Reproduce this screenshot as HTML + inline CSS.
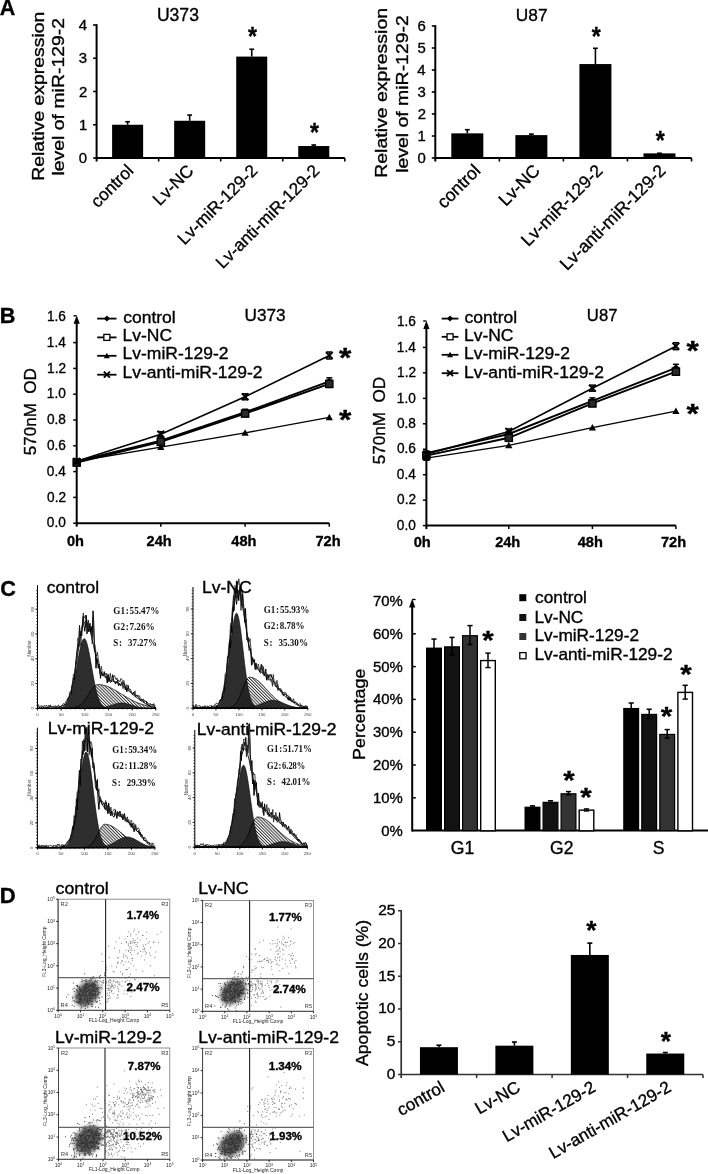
<!DOCTYPE html>
<html><head><meta charset="utf-8"><style>
html,body{margin:0;padding:0;background:#fff;}
svg{display:block;filter:blur(0.4px);}
text{font-family:"Liberation Sans",sans-serif;stroke:#000;stroke-width:0.35px;}
text[fill]{stroke:none;}
</style></head><body>
<svg width="708" height="1174" viewBox="0 0 708 1174">
<defs>
<pattern id="hatch" width="2.2" height="3" patternUnits="userSpaceOnUse" patternTransform="rotate(-45)"><line x1="0.5" y1="0" x2="0.5" y2="3" stroke="#111" stroke-width="0.85"/></pattern>
<pattern id="hatchd" width="2.2" height="3" patternUnits="userSpaceOnUse" patternTransform="rotate(-45)"><rect width="2.2" height="3" fill="#3c3c3c"/><line x1="0.5" y1="0" x2="0.5" y2="3" stroke="#111" stroke-width="0.85"/></pattern>
<filter id="bl" x="-50%" y="-50%" width="200%" height="200%"><feGaussianBlur stdDeviation="2"/></filter><filter id="bl2" x="-50%" y="-50%" width="200%" height="200%"><feGaussianBlur stdDeviation="2.5"/></filter>
<radialGradient id="clu"><stop offset="0" stop-color="#666"/><stop offset="0.35" stop-color="#333"/><stop offset="0.7" stop-color="#222" stop-opacity="0.85"/><stop offset="1" stop-color="#222" stop-opacity="0"/></radialGradient>
</defs>
<text font-size="21.5" font-weight="bold" transform="translate(-0.24 14.8)">A</text>
<line x1="96.6" y1="24.2" x2="96.6" y2="161.5" stroke="#000" stroke-width="2"/>
<line x1="93.1" y1="158" x2="96.6" y2="158" stroke="#000" stroke-width="1.6"/>
<text font-size="14.5" transform="translate(78.73 163) scale(1.030 1)">0</text>
<line x1="93.1" y1="124.75" x2="96.6" y2="124.75" stroke="#000" stroke-width="1.6"/>
<text font-size="14.5" transform="translate(78.88 129.75) scale(1.030 1)">1</text>
<line x1="93.1" y1="91.5" x2="96.6" y2="91.5" stroke="#000" stroke-width="1.6"/>
<text font-size="14.5" transform="translate(78.96 96.5) scale(1.030 1)">2</text>
<line x1="93.1" y1="58.25" x2="96.6" y2="58.25" stroke="#000" stroke-width="1.6"/>
<text font-size="14.5" transform="translate(78.81 63.25) scale(1.030 1)">3</text>
<line x1="93.1" y1="25" x2="96.6" y2="25" stroke="#000" stroke-width="1.6"/>
<text font-size="14.5" transform="translate(78.66 30) scale(1.030 1)">4</text>
<line x1="96.6" y1="158" x2="344.8" y2="158" stroke="#000" stroke-width="2"/>
<line x1="158.65" y1="158" x2="158.65" y2="161.5" stroke="#000" stroke-width="1.6"/>
<line x1="220.7" y1="158" x2="220.7" y2="161.5" stroke="#000" stroke-width="1.6"/>
<line x1="282.75" y1="158" x2="282.75" y2="161.5" stroke="#000" stroke-width="1.6"/>
<line x1="344.8" y1="158" x2="344.8" y2="161.5" stroke="#000" stroke-width="1.6"/>
<rect x="112.11" y="124.75" width="31.02" height="33.25" fill="#000"/>
<line x1="127.62" y1="121.42" x2="127.62" y2="124.75" stroke="#000" stroke-width="1.6"/>
<line x1="125.22" y1="121.72" x2="130.03" y2="121.72" stroke="#000" stroke-width="1.6"/>
<rect x="174.16" y="120.76" width="31.02" height="37.24" fill="#000"/>
<line x1="189.67" y1="114.78" x2="189.67" y2="120.76" stroke="#000" stroke-width="1.6"/>
<line x1="187.27" y1="115.08" x2="192.07" y2="115.08" stroke="#000" stroke-width="1.6"/>
<rect x="236.21" y="56.59" width="31.02" height="101.41" fill="#000"/>
<line x1="251.72" y1="48.94" x2="251.72" y2="56.59" stroke="#000" stroke-width="1.6"/>
<line x1="249.32" y1="49.24" x2="254.12" y2="49.24" stroke="#000" stroke-width="1.6"/>
<rect x="298.26" y="146.03" width="31.02" height="11.97" fill="#000"/>
<line x1="313.77" y1="144.7" x2="313.77" y2="146.03" stroke="#000" stroke-width="1.6"/>
<line x1="311.38" y1="145" x2="316.17" y2="145" stroke="#000" stroke-width="1.6"/>
<text font-size="26.3" font-weight="bold" transform="translate(248.01 45.45) scale(0.880 1)">*</text>
<text font-size="26.3" font-weight="bold" transform="translate(310.06 141.45) scale(0.880 1)">*</text>
<text font-size="17.3" text-anchor="end" transform="translate(134.43 171.8) rotate(-45)">control</text>
<text font-size="17.3" text-anchor="end" transform="translate(194.47 171.8) rotate(-45)">Lv-NC</text>
<text font-size="17.3" text-anchor="end" transform="translate(258.52 171.8) rotate(-45)">Lv-miR-129-2</text>
<text font-size="17.3" text-anchor="end" transform="translate(320.57 171.8) rotate(-45)">Lv-anti-miR-129-2</text>
<line x1="435.3" y1="25.2" x2="435.3" y2="161.5" stroke="#000" stroke-width="2"/>
<line x1="431.8" y1="158" x2="435.3" y2="158" stroke="#000" stroke-width="1.6"/>
<text font-size="14.5" transform="translate(417.43 163) scale(1.030 1)">0</text>
<line x1="431.8" y1="136" x2="435.3" y2="136" stroke="#000" stroke-width="1.6"/>
<text font-size="14.5" transform="translate(417.58 141) scale(1.030 1)">1</text>
<line x1="431.8" y1="114" x2="435.3" y2="114" stroke="#000" stroke-width="1.6"/>
<text font-size="14.5" transform="translate(417.66 119) scale(1.030 1)">2</text>
<line x1="431.8" y1="92" x2="435.3" y2="92" stroke="#000" stroke-width="1.6"/>
<text font-size="14.5" transform="translate(417.51 97) scale(1.030 1)">3</text>
<line x1="431.8" y1="70" x2="435.3" y2="70" stroke="#000" stroke-width="1.6"/>
<text font-size="14.5" transform="translate(417.36 75) scale(1.030 1)">4</text>
<line x1="431.8" y1="48" x2="435.3" y2="48" stroke="#000" stroke-width="1.6"/>
<text font-size="14.5" transform="translate(417.51 53) scale(1.030 1)">5</text>
<line x1="431.8" y1="26" x2="435.3" y2="26" stroke="#000" stroke-width="1.6"/>
<text font-size="14.5" transform="translate(417.51 31) scale(1.030 1)">6</text>
<line x1="435.3" y1="158" x2="691.5" y2="158" stroke="#000" stroke-width="2"/>
<line x1="499.35" y1="158" x2="499.35" y2="161.5" stroke="#000" stroke-width="1.6"/>
<line x1="563.4" y1="158" x2="563.4" y2="161.5" stroke="#000" stroke-width="1.6"/>
<line x1="627.45" y1="158" x2="627.45" y2="161.5" stroke="#000" stroke-width="1.6"/>
<line x1="691.5" y1="158" x2="691.5" y2="161.5" stroke="#000" stroke-width="1.6"/>
<rect x="451.31" y="133.36" width="32.02" height="24.64" fill="#000"/>
<line x1="467.32" y1="129.4" x2="467.32" y2="133.36" stroke="#000" stroke-width="1.6"/>
<line x1="464.93" y1="129.7" x2="469.72" y2="129.7" stroke="#000" stroke-width="1.6"/>
<rect x="515.36" y="135.12" width="32.02" height="22.88" fill="#000"/>
<line x1="531.38" y1="133.8" x2="531.38" y2="135.12" stroke="#000" stroke-width="1.6"/>
<line x1="528.98" y1="134.1" x2="533.77" y2="134.1" stroke="#000" stroke-width="1.6"/>
<rect x="579.41" y="64.06" width="32.02" height="93.94" fill="#000"/>
<line x1="595.42" y1="48" x2="595.42" y2="64.06" stroke="#000" stroke-width="1.6"/>
<line x1="593.02" y1="48.3" x2="597.82" y2="48.3" stroke="#000" stroke-width="1.6"/>
<rect x="643.46" y="153.38" width="32.02" height="4.62" fill="#000"/>
<line x1="659.48" y1="152.94" x2="659.48" y2="153.38" stroke="#000" stroke-width="1.6"/>
<line x1="657.08" y1="153.24" x2="661.88" y2="153.24" stroke="#000" stroke-width="1.6"/>
<text font-size="26.3" font-weight="bold" transform="translate(591.71 45.35) scale(0.880 1)">*</text>
<text font-size="26.3" font-weight="bold" transform="translate(655.76 149.05) scale(0.880 1)">*</text>
<text font-size="17.6" text-anchor="end" transform="translate(481.52 171.8) rotate(-45)">control</text>
<text font-size="17.6" text-anchor="end" transform="translate(540.98 171.8) rotate(-45)">Lv-NC</text>
<text font-size="17.6" text-anchor="end" transform="translate(603.72 171.8) rotate(-45)">Lv-miR-129-2</text>
<text font-size="17.6" text-anchor="end" transform="translate(666.68 171.8) rotate(-45)">Lv-anti-miR-129-2</text>
<text font-size="17.6" transform="translate(156.88 20.6)">U373</text>
<text font-size="17.3" transform="translate(515.81 20.5)">U87</text>
<text font-size="17.3" transform="translate(43.7 180.75) rotate(-90) scale(1.120 1)">Relative expression</text>
<text font-size="17.3" transform="translate(64.4 175.56) rotate(-90) scale(1.124 1)">level of miR-129-2</text>
<text font-size="17.3" transform="translate(386.7 177.76) rotate(-90) scale(1.125 1)">Relative expression</text>
<text font-size="17.3" transform="translate(407.7 172.86) rotate(-90) scale(1.124 1)">level of miR-129-2</text>
<text font-size="21.7" font-weight="bold" transform="translate(-0.31 322.9)">B</text>
<line x1="76.7" y1="321.8" x2="76.7" y2="526.7" stroke="#000" stroke-width="2"/>
<path d="M76.7 315.6 L79.8 323.8 L73.6 323.8Z" fill="#000"/>
<line x1="73.5" y1="315.8" x2="76.7" y2="315.8" stroke="#000" stroke-width="1.4"/>
<line x1="73.2" y1="523.2" x2="76.7" y2="523.2" stroke="#000" stroke-width="1.5"/>
<text font-size="14.4" transform="translate(46.86 527.37) scale(0.950 1)">0.0</text>
<line x1="73.2" y1="497.4" x2="76.7" y2="497.4" stroke="#000" stroke-width="1.5"/>
<text font-size="14.4" transform="translate(47.07 501.57) scale(0.950 1)">0.2</text>
<line x1="73.2" y1="471.6" x2="76.7" y2="471.6" stroke="#000" stroke-width="1.5"/>
<text font-size="14.4" transform="translate(46.8 475.77) scale(0.950 1)">0.4</text>
<line x1="73.2" y1="445.8" x2="76.7" y2="445.8" stroke="#000" stroke-width="1.5"/>
<text font-size="14.4" transform="translate(46.93 449.97) scale(0.950 1)">0.6</text>
<line x1="73.2" y1="420" x2="76.7" y2="420" stroke="#000" stroke-width="1.5"/>
<text font-size="14.4" transform="translate(46.93 424.17) scale(0.950 1)">0.8</text>
<line x1="73.2" y1="394.2" x2="76.7" y2="394.2" stroke="#000" stroke-width="1.5"/>
<text font-size="14.4" transform="translate(46.86 398.37) scale(0.950 1)">1.0</text>
<line x1="73.2" y1="368.4" x2="76.7" y2="368.4" stroke="#000" stroke-width="1.5"/>
<text font-size="14.4" transform="translate(47.07 372.57) scale(0.950 1)">1.2</text>
<line x1="73.2" y1="342.6" x2="76.7" y2="342.6" stroke="#000" stroke-width="1.5"/>
<text font-size="14.4" transform="translate(46.8 346.77) scale(0.950 1)">1.4</text>
<text font-size="14.4" transform="translate(46.93 320.97) scale(0.950 1)">1.6</text>
<line x1="76.7" y1="523.2" x2="329.3" y2="523.2" stroke="#000" stroke-width="2"/>
<line x1="160.8" y1="523.2" x2="160.8" y2="526.7" stroke="#000" stroke-width="1.5"/>
<line x1="245.1" y1="523.2" x2="245.1" y2="526.7" stroke="#000" stroke-width="1.5"/>
<line x1="329.3" y1="523.2" x2="329.3" y2="526.7" stroke="#000" stroke-width="1.5"/>
<text font-size="14.6" font-weight="bold" transform="translate(66.89 546.4)">0h</text>
<text font-size="14.6" font-weight="bold" transform="translate(146.53 546.4)">24h</text>
<text font-size="14.6" font-weight="bold" transform="translate(231.27 546.4)">48h</text>
<text font-size="14.6" font-weight="bold" transform="translate(315.49 546.4)">72h</text>
<polyline points="76.7,461.28 160.8,440.64 245.1,412.26 329.3,381.3" fill="none" stroke="#000" stroke-width="1.9"/>
<line x1="76.7" y1="459.28" x2="76.7" y2="463.28" stroke="#000" stroke-width="1.3"/>
<line x1="73.7" y1="459.28" x2="79.7" y2="459.28" stroke="#000" stroke-width="1.5"/>
<line x1="73.7" y1="463.28" x2="79.7" y2="463.28" stroke="#000" stroke-width="1.5"/>
<path d="M76.7 457.68 L80.3 461.28 L76.7 464.88 L73.1 461.28Z" fill="#000"/>
<line x1="160.8" y1="438.14" x2="160.8" y2="443.14" stroke="#000" stroke-width="1.3"/>
<line x1="157.8" y1="438.14" x2="163.8" y2="438.14" stroke="#000" stroke-width="1.5"/>
<line x1="157.8" y1="443.14" x2="163.8" y2="443.14" stroke="#000" stroke-width="1.5"/>
<path d="M160.8 437.04 L164.4 440.64 L160.8 444.24 L157.2 440.64Z" fill="#000"/>
<line x1="245.1" y1="409.26" x2="245.1" y2="415.26" stroke="#000" stroke-width="1.3"/>
<line x1="242.1" y1="409.26" x2="248.1" y2="409.26" stroke="#000" stroke-width="1.5"/>
<line x1="242.1" y1="415.26" x2="248.1" y2="415.26" stroke="#000" stroke-width="1.5"/>
<path d="M245.1 408.66 L248.7 412.26 L245.1 415.86 L241.5 412.26Z" fill="#000"/>
<line x1="329.3" y1="377.8" x2="329.3" y2="384.8" stroke="#000" stroke-width="1.3"/>
<line x1="326.3" y1="377.8" x2="332.3" y2="377.8" stroke="#000" stroke-width="1.5"/>
<line x1="326.3" y1="384.8" x2="332.3" y2="384.8" stroke="#000" stroke-width="1.5"/>
<path d="M329.3 377.7 L332.9 381.3 L329.3 384.9 L325.7 381.3Z" fill="#000"/>
<polyline points="76.7,462.57 160.8,441.93 245.1,413.55 329.3,383.88" fill="none" stroke="#000" stroke-width="1.9"/>
<line x1="76.7" y1="460.57" x2="76.7" y2="464.57" stroke="#000" stroke-width="1.3"/>
<line x1="73.7" y1="460.57" x2="79.7" y2="460.57" stroke="#000" stroke-width="1.5"/>
<line x1="73.7" y1="464.57" x2="79.7" y2="464.57" stroke="#000" stroke-width="1.5"/>
<rect x="73.1" y="458.97" width="7.2" height="7.2" fill="#2a2a2a" stroke="#000" stroke-width="1.4"/>
<line x1="160.8" y1="439.43" x2="160.8" y2="444.43" stroke="#000" stroke-width="1.3"/>
<line x1="157.8" y1="439.43" x2="163.8" y2="439.43" stroke="#000" stroke-width="1.5"/>
<line x1="157.8" y1="444.43" x2="163.8" y2="444.43" stroke="#000" stroke-width="1.5"/>
<rect x="157.2" y="438.33" width="7.2" height="7.2" fill="#2a2a2a" stroke="#000" stroke-width="1.4"/>
<line x1="245.1" y1="410.55" x2="245.1" y2="416.55" stroke="#000" stroke-width="1.3"/>
<line x1="242.1" y1="410.55" x2="248.1" y2="410.55" stroke="#000" stroke-width="1.5"/>
<line x1="242.1" y1="416.55" x2="248.1" y2="416.55" stroke="#000" stroke-width="1.5"/>
<rect x="241.5" y="409.95" width="7.2" height="7.2" fill="#2a2a2a" stroke="#000" stroke-width="1.4"/>
<line x1="329.3" y1="380.38" x2="329.3" y2="387.38" stroke="#000" stroke-width="1.3"/>
<line x1="326.3" y1="380.38" x2="332.3" y2="380.38" stroke="#000" stroke-width="1.5"/>
<line x1="326.3" y1="387.38" x2="332.3" y2="387.38" stroke="#000" stroke-width="1.5"/>
<rect x="325.7" y="380.28" width="7.2" height="7.2" fill="#2a2a2a" stroke="#000" stroke-width="1.4"/>
<polyline points="76.7,461.28 160.8,447.09 245.1,432.9 329.3,417.42" fill="none" stroke="#000" stroke-width="1.4"/>
<path d="M76.7 457.68 L80.3 464.16 L73.1 464.16Z" fill="#000"/>
<path d="M160.8 443.49 L164.4 449.97 L157.2 449.97Z" fill="#000"/>
<path d="M245.1 429.3 L248.7 435.78 L241.5 435.78Z" fill="#000"/>
<path d="M329.3 413.82 L332.9 420.3 L325.7 420.3Z" fill="#000"/>
<polyline points="76.7,461.28 160.8,434.19 245.1,396.78 329.3,355.5" fill="none" stroke="#000" stroke-width="1.6"/>
<line x1="76.7" y1="459.28" x2="76.7" y2="463.28" stroke="#000" stroke-width="1.3"/>
<line x1="73.7" y1="459.28" x2="79.7" y2="459.28" stroke="#000" stroke-width="1.5"/>
<line x1="73.7" y1="463.28" x2="79.7" y2="463.28" stroke="#000" stroke-width="1.5"/>
<path d="M73.3 457.88 L80.1 464.68 M80.1 457.88 L73.3 464.68" stroke="#000" stroke-width="1.9" fill="none"/>
<line x1="160.8" y1="431.69" x2="160.8" y2="436.69" stroke="#000" stroke-width="1.3"/>
<line x1="157.8" y1="431.69" x2="163.8" y2="431.69" stroke="#000" stroke-width="1.5"/>
<line x1="157.8" y1="436.69" x2="163.8" y2="436.69" stroke="#000" stroke-width="1.5"/>
<path d="M157.4 430.79 L164.2 437.59 M164.2 430.79 L157.4 437.59" stroke="#000" stroke-width="1.9" fill="none"/>
<line x1="245.1" y1="393.78" x2="245.1" y2="399.78" stroke="#000" stroke-width="1.3"/>
<line x1="242.1" y1="393.78" x2="248.1" y2="393.78" stroke="#000" stroke-width="1.5"/>
<line x1="242.1" y1="399.78" x2="248.1" y2="399.78" stroke="#000" stroke-width="1.5"/>
<path d="M241.7 393.38 L248.5 400.18 M248.5 393.38 L241.7 400.18" stroke="#000" stroke-width="1.9" fill="none"/>
<line x1="329.3" y1="352" x2="329.3" y2="359" stroke="#000" stroke-width="1.3"/>
<line x1="326.3" y1="352" x2="332.3" y2="352" stroke="#000" stroke-width="1.5"/>
<line x1="326.3" y1="359" x2="332.3" y2="359" stroke="#000" stroke-width="1.5"/>
<path d="M325.9 352.1 L332.7 358.9 M332.7 352.1 L325.9 358.9" stroke="#000" stroke-width="1.9" fill="none"/>
<line x1="97.2" y1="318.6" x2="116.5" y2="318.6" stroke="#000" stroke-width="1.8"/>
<path d="M106.85 315.6 L109.85 318.6 L106.85 321.6 L103.85 318.6Z" fill="#000"/>
<text font-size="16.6" transform="translate(123.2 322.6) scale(1.055 1)">control</text>
<line x1="97.2" y1="337.4" x2="116.5" y2="337.4" stroke="#000" stroke-width="1.8"/>
<rect x="103.85" y="334.4" width="6" height="6" fill="#fff" stroke="#000" stroke-width="1.3"/>
<text font-size="16.6" transform="translate(122.5 341.2) scale(1.055 1)">Lv-NC</text>
<line x1="97.2" y1="355.8" x2="116.5" y2="355.8" stroke="#000" stroke-width="1.8"/>
<path d="M106.85 352.8 L109.85 358.2 L103.85 358.2Z" fill="#000"/>
<text font-size="16.6" transform="translate(122.5 359.2) scale(1.055 1)">Lv-miR-129-2</text>
<line x1="97.2" y1="374.7" x2="116.5" y2="374.7" stroke="#000" stroke-width="1.8"/>
<path d="M103.85 371.7 L109.85 377.7 M109.85 371.7 L103.85 377.7" stroke="#000" stroke-width="1.9" fill="none"/>
<text font-size="16.6" transform="translate(122.5 377.8) scale(1.055 1)">Lv-anti-miR-129-2</text>
<text font-size="26.85" font-weight="bold" transform="translate(338.92 366.83) scale(1.180 1)">*</text>
<text font-size="26.85" font-weight="bold" transform="translate(338.92 428.83) scale(1.180 1)">*</text>
<line x1="426.4" y1="327" x2="426.4" y2="529.1" stroke="#000" stroke-width="2"/>
<path d="M426.4 320.8 L429.5 329 L423.3 329Z" fill="#000"/>
<line x1="423.2" y1="321" x2="426.4" y2="321" stroke="#000" stroke-width="1.4"/>
<line x1="422.9" y1="525.6" x2="426.4" y2="525.6" stroke="#000" stroke-width="1.5"/>
<text font-size="14.4" transform="translate(396.86 529.77) scale(0.950 1)">0.0</text>
<line x1="422.9" y1="500.15" x2="426.4" y2="500.15" stroke="#000" stroke-width="1.5"/>
<text font-size="14.4" transform="translate(397.07 504.32) scale(0.950 1)">0.2</text>
<line x1="422.9" y1="474.7" x2="426.4" y2="474.7" stroke="#000" stroke-width="1.5"/>
<text font-size="14.4" transform="translate(396.8 478.87) scale(0.950 1)">0.4</text>
<line x1="422.9" y1="449.25" x2="426.4" y2="449.25" stroke="#000" stroke-width="1.5"/>
<text font-size="14.4" transform="translate(396.93 453.42) scale(0.950 1)">0.6</text>
<line x1="422.9" y1="423.8" x2="426.4" y2="423.8" stroke="#000" stroke-width="1.5"/>
<text font-size="14.4" transform="translate(396.93 427.97) scale(0.950 1)">0.8</text>
<line x1="422.9" y1="398.35" x2="426.4" y2="398.35" stroke="#000" stroke-width="1.5"/>
<text font-size="14.4" transform="translate(396.86 402.52) scale(0.950 1)">1.0</text>
<line x1="422.9" y1="372.9" x2="426.4" y2="372.9" stroke="#000" stroke-width="1.5"/>
<text font-size="14.4" transform="translate(397.07 377.07) scale(0.950 1)">1.2</text>
<line x1="422.9" y1="347.45" x2="426.4" y2="347.45" stroke="#000" stroke-width="1.5"/>
<text font-size="14.4" transform="translate(396.8 351.62) scale(0.950 1)">1.4</text>
<text font-size="14.4" transform="translate(396.93 326.17) scale(0.950 1)">1.6</text>
<line x1="426.4" y1="525.6" x2="675.9" y2="525.6" stroke="#000" stroke-width="2"/>
<line x1="508.8" y1="525.6" x2="508.8" y2="529.1" stroke="#000" stroke-width="1.5"/>
<line x1="592.4" y1="525.6" x2="592.4" y2="529.1" stroke="#000" stroke-width="1.5"/>
<line x1="675.9" y1="525.6" x2="675.9" y2="529.1" stroke="#000" stroke-width="1.5"/>
<text font-size="14.6" font-weight="bold" transform="translate(413.74 547.2)">0h</text>
<text font-size="14.6" font-weight="bold" transform="translate(495.13 547.2)">24h</text>
<text font-size="14.6" font-weight="bold" transform="translate(577.67 547.2)">48h</text>
<text font-size="14.6" font-weight="bold" transform="translate(660.99 547.2)">72h</text>
<polyline points="426.4,453.07 508.8,433.98 592.4,400.9 675.9,367.81" fill="none" stroke="#000" stroke-width="1.9"/>
<line x1="426.4" y1="451.07" x2="426.4" y2="455.07" stroke="#000" stroke-width="1.3"/>
<line x1="423.4" y1="451.07" x2="429.4" y2="451.07" stroke="#000" stroke-width="1.5"/>
<line x1="423.4" y1="455.07" x2="429.4" y2="455.07" stroke="#000" stroke-width="1.5"/>
<path d="M426.4 449.47 L430 453.07 L426.4 456.67 L422.8 453.07Z" fill="#000"/>
<line x1="508.8" y1="431.48" x2="508.8" y2="436.48" stroke="#000" stroke-width="1.3"/>
<line x1="505.8" y1="431.48" x2="511.8" y2="431.48" stroke="#000" stroke-width="1.5"/>
<line x1="505.8" y1="436.48" x2="511.8" y2="436.48" stroke="#000" stroke-width="1.5"/>
<path d="M508.8 430.38 L512.4 433.98 L508.8 437.58 L505.2 433.98Z" fill="#000"/>
<line x1="592.4" y1="397.9" x2="592.4" y2="403.9" stroke="#000" stroke-width="1.3"/>
<line x1="589.4" y1="397.9" x2="595.4" y2="397.9" stroke="#000" stroke-width="1.5"/>
<line x1="589.4" y1="403.9" x2="595.4" y2="403.9" stroke="#000" stroke-width="1.5"/>
<path d="M592.4 397.3 L596 400.9 L592.4 404.5 L588.8 400.9Z" fill="#000"/>
<line x1="675.9" y1="364.31" x2="675.9" y2="371.31" stroke="#000" stroke-width="1.3"/>
<line x1="672.9" y1="364.31" x2="678.9" y2="364.31" stroke="#000" stroke-width="1.5"/>
<line x1="672.9" y1="371.31" x2="678.9" y2="371.31" stroke="#000" stroke-width="1.5"/>
<path d="M675.9 364.21 L679.5 367.81 L675.9 371.41 L672.3 367.81Z" fill="#000"/>
<polyline points="426.4,455.61 508.8,437.8 592.4,403.44 675.9,371.63" fill="none" stroke="#000" stroke-width="1.9"/>
<line x1="426.4" y1="453.61" x2="426.4" y2="457.61" stroke="#000" stroke-width="1.3"/>
<line x1="423.4" y1="453.61" x2="429.4" y2="453.61" stroke="#000" stroke-width="1.5"/>
<line x1="423.4" y1="457.61" x2="429.4" y2="457.61" stroke="#000" stroke-width="1.5"/>
<rect x="422.8" y="452.01" width="7.2" height="7.2" fill="#2a2a2a" stroke="#000" stroke-width="1.4"/>
<line x1="508.8" y1="435.3" x2="508.8" y2="440.3" stroke="#000" stroke-width="1.3"/>
<line x1="505.8" y1="435.3" x2="511.8" y2="435.3" stroke="#000" stroke-width="1.5"/>
<line x1="505.8" y1="440.3" x2="511.8" y2="440.3" stroke="#000" stroke-width="1.5"/>
<rect x="505.2" y="434.2" width="7.2" height="7.2" fill="#2a2a2a" stroke="#000" stroke-width="1.4"/>
<line x1="592.4" y1="400.44" x2="592.4" y2="406.44" stroke="#000" stroke-width="1.3"/>
<line x1="589.4" y1="400.44" x2="595.4" y2="400.44" stroke="#000" stroke-width="1.5"/>
<line x1="589.4" y1="406.44" x2="595.4" y2="406.44" stroke="#000" stroke-width="1.5"/>
<rect x="588.8" y="399.84" width="7.2" height="7.2" fill="#2a2a2a" stroke="#000" stroke-width="1.4"/>
<line x1="675.9" y1="368.13" x2="675.9" y2="375.13" stroke="#000" stroke-width="1.3"/>
<line x1="672.9" y1="368.13" x2="678.9" y2="368.13" stroke="#000" stroke-width="1.5"/>
<line x1="672.9" y1="375.13" x2="678.9" y2="375.13" stroke="#000" stroke-width="1.5"/>
<rect x="672.3" y="368.03" width="7.2" height="7.2" fill="#2a2a2a" stroke="#000" stroke-width="1.4"/>
<polyline points="426.4,458.16 508.8,445.43 592.4,427.62 675.9,411.08" fill="none" stroke="#000" stroke-width="1.4"/>
<path d="M426.4 454.56 L430 461.04 L422.8 461.04Z" fill="#000"/>
<path d="M508.8 441.83 L512.4 448.31 L505.2 448.31Z" fill="#000"/>
<path d="M592.4 424.02 L596 430.5 L588.8 430.5Z" fill="#000"/>
<path d="M675.9 407.48 L679.5 413.96 L672.3 413.96Z" fill="#000"/>
<polyline points="426.4,454.34 508.8,431.44 592.4,388.17 675.9,346.18" fill="none" stroke="#000" stroke-width="1.6"/>
<line x1="426.4" y1="452.34" x2="426.4" y2="456.34" stroke="#000" stroke-width="1.3"/>
<line x1="423.4" y1="452.34" x2="429.4" y2="452.34" stroke="#000" stroke-width="1.5"/>
<line x1="423.4" y1="456.34" x2="429.4" y2="456.34" stroke="#000" stroke-width="1.5"/>
<path d="M423 450.94 L429.8 457.74 M429.8 450.94 L423 457.74" stroke="#000" stroke-width="1.9" fill="none"/>
<line x1="508.8" y1="428.94" x2="508.8" y2="433.94" stroke="#000" stroke-width="1.3"/>
<line x1="505.8" y1="428.94" x2="511.8" y2="428.94" stroke="#000" stroke-width="1.5"/>
<line x1="505.8" y1="433.94" x2="511.8" y2="433.94" stroke="#000" stroke-width="1.5"/>
<path d="M505.4 428.04 L512.2 434.84 M512.2 428.04 L505.4 434.84" stroke="#000" stroke-width="1.9" fill="none"/>
<line x1="592.4" y1="385.17" x2="592.4" y2="391.17" stroke="#000" stroke-width="1.3"/>
<line x1="589.4" y1="385.17" x2="595.4" y2="385.17" stroke="#000" stroke-width="1.5"/>
<line x1="589.4" y1="391.17" x2="595.4" y2="391.17" stroke="#000" stroke-width="1.5"/>
<path d="M589 384.77 L595.8 391.57 M595.8 384.77 L589 391.57" stroke="#000" stroke-width="1.9" fill="none"/>
<line x1="675.9" y1="342.68" x2="675.9" y2="349.68" stroke="#000" stroke-width="1.3"/>
<line x1="672.9" y1="342.68" x2="678.9" y2="342.68" stroke="#000" stroke-width="1.5"/>
<line x1="672.9" y1="349.68" x2="678.9" y2="349.68" stroke="#000" stroke-width="1.5"/>
<path d="M672.5 342.78 L679.3 349.58 M679.3 342.78 L672.5 349.58" stroke="#000" stroke-width="1.9" fill="none"/>
<line x1="441.7" y1="318.6" x2="458.4" y2="318.6" stroke="#000" stroke-width="1.8"/>
<path d="M450.05 315.6 L453.05 318.6 L450.05 321.6 L447.05 318.6Z" fill="#000"/>
<text font-size="16.6" transform="translate(464.6 322.6) scale(1.055 1)">control</text>
<line x1="441.7" y1="336.8" x2="458.4" y2="336.8" stroke="#000" stroke-width="1.8"/>
<rect x="447.05" y="333.8" width="6" height="6" fill="#fff" stroke="#000" stroke-width="1.3"/>
<text font-size="16.6" transform="translate(463.9 341.2) scale(1.055 1)">Lv-NC</text>
<line x1="441.7" y1="354.8" x2="458.4" y2="354.8" stroke="#000" stroke-width="1.8"/>
<path d="M450.05 351.8 L453.05 357.2 L447.05 357.2Z" fill="#000"/>
<text font-size="16.6" transform="translate(463.9 358.9) scale(1.055 1)">Lv-miR-129-2</text>
<line x1="441.7" y1="373.2" x2="458.4" y2="373.2" stroke="#000" stroke-width="1.8"/>
<path d="M447.05 370.2 L453.05 376.2 M453.05 370.2 L447.05 376.2" stroke="#000" stroke-width="1.9" fill="none"/>
<text font-size="16.6" transform="translate(463.9 377.8) scale(1.055 1)">Lv-anti-miR-129-2</text>
<text font-size="26.85" font-weight="bold" transform="translate(686.52 360.03) scale(1.180 1)">*</text>
<text font-size="26.85" font-weight="bold" transform="translate(686.52 423.03) scale(1.180 1)">*</text>
<text font-size="17.2" transform="translate(244.51 321.1)">U373</text>
<text font-size="16.8" transform="translate(586.85 321.1) scale(0.992 1)">U87</text>
<text font-size="17.3" transform="translate(35.6 455.18) rotate(-90) scale(0.986 1)">570nM&#160; OD</text>
<text font-size="17.3" transform="translate(384.8 464.28) rotate(-90) scale(0.989 1)">570nM&#160; OD</text>
<text font-size="21.7" font-weight="bold" transform="translate(0.23 596)">C</text>
<path d="M37.5 708.4 L37.5 708.4 L38 708.4 L38.5 708.4 L39 708.4 L39.5 708.4 L40 708.4 L40.5 708.4 L41 708.4 L41.5 708.4 L42 708.4 L42.5 708.4 L43 708.4 L43.5 708.4 L44 708.4 L44.5 708.4 L45 708.4 L45.5 708.4 L46 708.4 L46.5 708.4 L47 708.4 L47.5 708.4 L48 708.4 L48.5 708.4 L49 708.39 L49.5 708.39 L50 708.39 L50.5 708.39 L51 708.39 L51.5 708.39 L52 708.38 L52.5 708.38 L53 708.37 L53.5 708.37 L54 708.36 L54.5 708.35 L55 708.34 L55.5 708.32 L56 708.31 L56.5 708.28 L57 708.26 L57.5 708.23 L58 708.19 L58.5 708.14 L59 708.08 L59.5 708.01 L60 707.93 L60.5 707.83 L61 707.71 L61.5 707.57 L62 707.4 L62.5 707.2 L63 706.96 L63.5 706.68 L64 706.36 L64.5 705.98 L65 705.54 L65.5 705.03 L66 704.44 L66.5 703.76 L67 703 L67.5 702.13 L68 701.14 L68.5 700.04 L69 698.8 L69.5 697.43 L70 695.91 L70.5 694.24 L71 692.42 L71.5 690.43 L72 688.28 L72.5 685.96 L73 683.49 L73.5 680.86 L74 678.08 L74.5 675.16 L75 672.12 L75.5 668.97 L76 665.73 L76.5 662.43 L77 659.07 L77.5 655.7 L78 652.34 L78.5 649.02 L79 645.76 L79.5 642.61 L80 639.58 L80.5 636.72 L81 634.03 L81.5 631.57 L82 629.33 L82.5 627.36 L83 625.65 L83.5 624.24 L84 623.11 L84.5 622.29 L85 621.77 L85.5 621.54 L86 621.6 L86.5 621.93 L87 622.53 L87.5 623.38 L88 624.46 L88.5 625.74 L89 627.22 L89.5 628.86 L90 630.65 L90.5 632.57 L91 634.59 L91.5 636.69 L92 638.84 L92.5 641.04 L93 643.25 L93.5 645.47 L94 647.66 L94.5 649.85 L95 652 L95.5 654.1 L96 656.13 L96.5 658.1 L97 660 L97.5 661.83 L98 663.59 L98.5 665.24 L99 666.77 L99.5 668.17 L100 669.46 L100.5 670.63 L101 671.69 L101.5 672.65 L102 673.52 L102.5 674.31 L103 675.01 L103.5 675.65 L104 676.22 L104.5 676.74 L105 677.2 L105.5 677.62 L106 678 L106.5 678.34 L107 678.65 L107.5 678.93 L108 679.19 L108.5 679.43 L109 679.66 L109.5 679.87 L110 680.07 L110.5 680.26 L111 680.44 L111.5 680.62 L112 680.79 L112.5 680.96 L113 681.13 L113.5 681.31 L114 681.48 L114.5 681.66 L115 681.85 L115.5 682.04 L116 682.24 L116.5 682.44 L117 682.66 L117.5 682.88 L118 683.12 L118.5 683.36 L119 683.62 L119.5 683.89 L120 684.17 L120.5 684.47 L121 684.78 L121.5 685.1 L122 685.43 L122.5 685.77 L123 686.13 L123.5 686.5 L124 686.88 L124.5 687.27 L125 687.68 L125.5 688.09 L126 688.51 L126.5 688.93 L127 689.37 L127.5 689.81 L128 690.25 L128.5 690.7 L129 691.15 L129.5 691.6 L130 692.05 L130.5 692.5 L131 692.95 L131.5 693.4 L132 693.84 L132.5 694.28 L133 694.71 L133.5 695.14 L134 695.55 L134.5 695.97 L135 696.37 L135.5 696.76 L136 697.14 L136.5 697.52 L137 697.88 L137.5 698.24 L138 698.58 L138.5 698.91 L139 699.23 L139.5 699.54 L140 699.89 L140.5 700.29 L141 700.68 L141.5 701.06 L142 701.43 L142.5 701.79 L143 702.13 L143.5 702.46 L144 702.79 L144.5 703.1 L145 703.4 L145.5 703.69 L146 703.98 L146.5 704.25 L147 704.52 L147.5 704.77 L148 705.02 L148.5 705.26 L149 705.49 L149.5 705.72 L150 705.94 L150.5 706.15 L151 706.36 L151.5 706.55 L152 706.71 L152.5 706.8 L153 706.88 L153.5 706.96 L154 707.03 L154.5 707.11 L155 707.17 L155.5 707.24 L155.8 708.4Z" fill="#fff" stroke="#000" stroke-width="0.9"/>
<path d="M37.5 708.4 L37.5 708.4 L38 708.4 L38.5 708.4 L39 708.4 L39.5 708.4 L40 708.4 L40.5 708.4 L41 708.4 L41.5 708.4 L42 708.4 L42.5 708.4 L43 708.4 L43.5 708.4 L44 708.4 L44.5 708.4 L45 708.4 L45.5 708.4 L46 708.4 L46.5 708.4 L47 708.4 L47.5 708.4 L48 708.4 L48.5 708.4 L49 708.4 L49.5 708.4 L50 708.4 L50.5 708.4 L51 708.4 L51.5 708.4 L52 708.4 L52.5 708.39 L53 708.39 L53.5 708.39 L54 708.39 L54.5 708.38 L55 708.38 L55.5 708.37 L56 708.36 L56.5 708.35 L57 708.33 L57.5 708.31 L58 708.29 L58.5 708.26 L59 708.22 L59.5 708.17 L60 708.11 L60.5 708.04 L61 707.95 L61.5 707.85 L62 707.72 L62.5 707.56 L63 707.37 L63.5 707.15 L64 706.88 L64.5 706.57 L65 706.21 L65.5 705.78 L66 705.28 L66.5 704.71 L67 704.06 L67.5 703.31 L68 702.46 L68.5 701.5 L69 700.42 L69.5 699.22 L70 697.89 L70.5 696.42 L71 694.81 L71.5 693.05 L72 691.15 L72.5 689.11 L73 686.92 L73.5 684.59 L74 682.14 L74.5 679.57 L75 676.9 L75.5 674.14 L76 671.31 L76.5 668.44 L77 665.55 L77.5 662.66 L78 659.8 L78.5 657.01 L79 654.32 L79.5 651.75 L80 649.33 L80.5 647.1 L81 645.09 L81.5 643.31 L82 641.79 L82.5 640.56 L83 639.64 L83.5 639.02 L84 638.73 L84.5 638.76 L85 639.12 L85.5 639.8 L86 640.79 L86.5 642.08 L87 643.64 L87.5 645.47 L88 647.53 L88.5 649.8 L89 652.25 L89.5 654.85 L90 657.57 L90.5 660.37 L91 663.23 L91.5 666.12 L92 669.02 L92.5 671.88 L93 674.7 L93.5 677.44 L94 680.09 L94.5 682.64 L95 685.07 L95.5 687.37 L96 689.53 L96.5 691.54 L97 693.42 L97.5 695.14 L98 696.73 L98.5 698.17 L99 699.47 L99.5 700.65 L100 701.7 L100.5 702.64 L101 703.47 L101.5 704.2 L102 704.83 L102.5 705.39 L103 705.87 L103.5 706.28 L104 706.64 L104.5 706.94 L105 707.2 L105.5 707.41 L106 707.59 L106.5 707.74 L107 707.87 L107.5 707.97 L108 708.06 L108.5 708.13 L109 708.18 L109.5 708.23 L110 708.26 L110.5 708.29 L111 708.32 L111.5 708.34 L112 708.35 L112.5 708.36 L113 708.37 L113.5 708.38 L114 708.38 L114.5 708.39 L115 708.39 L115.5 708.39 L116 708.39 L116.5 708.4 L117 708.4 L117.5 708.4 L118 708.4 L118.5 708.4 L119 708.4 L119.5 708.4 L120 708.4 L120.5 708.4 L121 708.4 L121.5 708.4 L122 708.4 L122.5 708.4 L123 708.4 L123.5 708.4 L124 708.4 L124.5 708.4 L125 708.4 L125.5 708.4 L126 708.4 L126.5 708.4 L127 708.4 L127.5 708.4 L128 708.4 L128.5 708.4 L129 708.4 L129.5 708.4 L130 708.4 L130.5 708.4 L131 708.4 L131.5 708.4 L132 708.4 L132.5 708.4 L133 708.4 L133.5 708.4 L134 708.4 L134.5 708.4 L135 708.4 L135.5 708.4 L136 708.4 L136.5 708.4 L137 708.4 L137.5 708.4 L138 708.4 L138.5 708.4 L139 708.4 L139.5 708.4 L140 708.4 L140.5 708.4 L141 708.4 L141.5 708.4 L142 708.4 L142.5 708.4 L143 708.4 L143.5 708.4 L144 708.4 L144.5 708.4 L145 708.4 L145.5 708.4 L146 708.4 L146.5 708.4 L147 708.4 L147.5 708.4 L148 708.4 L148.5 708.4 L149 708.4 L149.5 708.4 L150 708.4 L150.5 708.4 L151 708.4 L151.5 708.4 L152 708.4 L152.5 708.4 L153 708.4 L153.5 708.4 L154 708.4 L154.5 708.4 L155 708.4 L155.5 708.4 L155.8 708.4Z" fill="#2e2e2e" stroke="#000" stroke-width="0.6"/>
<path d="M37.5 708.4 L37.5 708.4 L38 708.4 L38.5 708.4 L39 708.4 L39.5 708.4 L40 708.4 L40.5 708.4 L41 708.4 L41.5 708.4 L42 708.4 L42.5 708.4 L43 708.4 L43.5 708.4 L44 708.4 L44.5 708.4 L45 708.4 L45.5 708.4 L46 708.4 L46.5 708.4 L47 708.4 L47.5 708.4 L48 708.4 L48.5 708.4 L49 708.4 L49.5 708.4 L50 708.4 L50.5 708.4 L51 708.4 L51.5 708.4 L52 708.4 L52.5 708.4 L53 708.4 L53.5 708.4 L54 708.4 L54.5 708.4 L55 708.4 L55.5 708.4 L56 708.4 L56.5 708.4 L57 708.4 L57.5 708.4 L58 708.4 L58.5 708.4 L59 708.4 L59.5 708.4 L60 708.4 L60.5 708.39 L61 708.39 L61.5 708.39 L62 708.39 L62.5 708.39 L63 708.38 L63.5 708.38 L64 708.37 L64.5 708.37 L65 708.36 L65.5 708.35 L66 708.34 L66.5 708.33 L67 708.32 L67.5 708.3 L68 708.28 L68.5 708.26 L69 708.24 L69.5 708.21 L70 708.17 L70.5 708.13 L71 708.08 L71.5 708.03 L72 707.96 L72.5 707.89 L73 707.81 L73.5 707.72 L74 707.61 L74.5 707.49 L75 707.36 L75.5 707.21 L76 707.04 L76.5 706.86 L77 706.65 L77.5 706.42 L78 706.17 L78.5 705.89 L79 705.59 L79.5 705.26 L80 704.9 L80.5 704.51 L81 704.1 L81.5 703.65 L82 703.17 L82.5 702.66 L83 702.11 L83.5 701.54 L84 700.94 L84.5 700.3 L85 699.64 L85.5 698.96 L86 698.25 L86.5 697.52 L87 696.77 L87.5 696 L88 695.23 L88.5 694.45 L89 693.66 L89.5 692.88 L90 692.1 L90.5 691.34 L91 690.59 L91.5 689.86 L92 689.17 L92.5 688.5 L93 687.87 L93.5 687.29 L94 686.75 L94.5 686.26 L95 685.83 L95.5 685.46 L96 685.16 L96.5 684.91 L97 684.74 L97.5 684.64 L98 684.6 L98.5 684.61 L99 684.62 L99.5 684.65 L100 684.69 L100.5 684.74 L101 684.8 L101.5 684.87 L102 684.95 L102.5 685.04 L103 685.14 L103.5 685.25 L104 685.37 L104.5 685.51 L105 685.65 L105.5 685.8 L106 685.96 L106.5 686.13 L107 686.31 L107.5 686.49 L108 686.69 L108.5 686.89 L109 687.1 L109.5 687.32 L110 687.55 L110.5 687.78 L111 688.02 L111.5 688.27 L112 688.52 L112.5 688.78 L113 689.04 L113.5 689.31 L114 689.59 L114.5 689.86 L115 690.15 L115.5 690.43 L116 690.72 L116.5 691.02 L117 691.32 L117.5 691.61 L118 691.92 L118.5 692.22 L119 692.53 L119.5 692.83 L120 693.14 L120.5 693.45 L121 693.76 L121.5 694.07 L122 694.38 L122.5 694.68 L123 694.99 L123.5 695.3 L124 695.61 L124.5 695.91 L125 696.21 L125.5 696.52 L126 696.81 L126.5 697.11 L127 697.41 L127.5 697.7 L128 697.99 L128.5 698.27 L129 698.55 L129.5 698.83 L130 699.11 L130.5 699.38 L131 699.64 L131.5 699.91 L132 700.17 L132.5 700.42 L133 700.67 L133.5 700.92 L134 701.16 L134.5 701.4 L135 701.63 L135.5 701.86 L136 702.08 L136.5 702.3 L137 702.51 L137.5 702.72 L138 702.92 L138.5 703.12 L139 703.32 L139.5 703.51 L140 703.69 L140.5 703.87 L141 704.04 L141.5 704.21 L142 704.38 L142.5 704.54 L143 704.69 L143.5 704.84 L144 704.99 L144.5 705.13 L145 705.27 L145.5 705.4 L146 705.53 L146.5 705.66 L147 705.78 L147.5 705.89 L148 706 L148.5 706.11 L149 706.22 L149.5 706.32 L150 706.41 L150.5 706.51 L151 706.6 L151.5 706.68 L152 706.76 L152.5 706.84 L153 706.92 L153.5 706.99 L154 707.06 L154.5 707.13 L155 707.2 L155.5 707.26 L155.8 708.4Z" fill="url(#hatch)" stroke="#000" stroke-width="0.8"/>
<path d="M37.5 708.4 L37.5 708.4 L38 708.4 L38.5 708.4 L39 708.4 L39.5 708.4 L40 708.4 L40.5 708.4 L41 708.4 L41.5 708.4 L42 708.4 L42.5 708.4 L43 708.4 L43.5 708.4 L44 708.4 L44.5 708.4 L45 708.4 L45.5 708.4 L46 708.4 L46.5 708.4 L47 708.4 L47.5 708.4 L48 708.4 L48.5 708.4 L49 708.4 L49.5 708.4 L50 708.4 L50.5 708.4 L51 708.4 L51.5 708.4 L52 708.4 L52.5 708.4 L53 708.4 L53.5 708.4 L54 708.4 L54.5 708.4 L55 708.4 L55.5 708.4 L56 708.4 L56.5 708.4 L57 708.4 L57.5 708.4 L58 708.4 L58.5 708.4 L59 708.4 L59.5 708.4 L60 708.4 L60.5 708.4 L61 708.4 L61.5 708.4 L62 708.4 L62.5 708.4 L63 708.4 L63.5 708.4 L64 708.4 L64.5 708.4 L65 708.4 L65.5 708.4 L66 708.4 L66.5 708.4 L67 708.4 L67.5 708.4 L68 708.4 L68.5 708.4 L69 708.4 L69.5 708.4 L70 708.4 L70.5 708.4 L71 708.4 L71.5 708.4 L72 708.4 L72.5 708.4 L73 708.4 L73.5 708.4 L74 708.4 L74.5 708.4 L75 708.4 L75.5 708.4 L76 708.4 L76.5 708.4 L77 708.4 L77.5 708.4 L78 708.4 L78.5 708.4 L79 708.4 L79.5 708.4 L80 708.4 L80.5 708.4 L81 708.4 L81.5 708.4 L82 708.4 L82.5 708.4 L83 708.4 L83.5 708.4 L84 708.4 L84.5 708.39 L85 708.39 L85.5 708.39 L86 708.39 L86.5 708.39 L87 708.39 L87.5 708.38 L88 708.38 L88.5 708.38 L89 708.38 L89.5 708.37 L90 708.37 L90.5 708.36 L91 708.35 L91.5 708.35 L92 708.34 L92.5 708.33 L93 708.31 L93.5 708.3 L94 708.29 L94.5 708.27 L95 708.25 L95.5 708.23 L96 708.21 L96.5 708.18 L97 708.15 L97.5 708.12 L98 708.08 L98.5 708.04 L99 708 L99.5 707.95 L100 707.9 L100.5 707.84 L101 707.78 L101.5 707.71 L102 707.64 L102.5 707.56 L103 707.48 L103.5 707.39 L104 707.29 L104.5 707.19 L105 707.08 L105.5 706.97 L106 706.85 L106.5 706.72 L107 706.59 L107.5 706.46 L108 706.32 L108.5 706.17 L109 706.02 L109.5 705.87 L110 705.71 L110.5 705.55 L111 705.39 L111.5 705.22 L112 705.06 L112.5 704.9 L113 704.73 L113.5 704.57 L114 704.42 L114.5 704.26 L115 704.11 L115.5 703.97 L116 703.84 L116.5 703.71 L117 703.59 L117.5 703.48 L118 703.38 L118.5 703.29 L119 703.21 L119.5 703.14 L120 703.09 L120.5 703.05 L121 703.02 L121.5 703 L122 703 L122.5 703.01 L123 703.04 L123.5 703.08 L124 703.13 L124.5 703.19 L125 703.27 L125.5 703.36 L126 703.46 L126.5 703.56 L127 703.68 L127.5 703.81 L128 703.94 L128.5 704.09 L129 704.23 L129.5 704.39 L130 704.54 L130.5 704.7 L131 704.86 L131.5 705.03 L132 705.19 L132.5 705.35 L133 705.52 L133.5 705.68 L134 705.83 L134.5 705.99 L135 706.14 L135.5 706.29 L136 706.43 L136.5 706.57 L137 706.7 L137.5 706.83 L138 706.95 L138.5 707.06 L139 707.17 L139.5 707.27 L140 707.37 L140.5 707.46 L141 707.55 L141.5 707.62 L142 707.7 L142.5 707.77 L143 707.83 L143.5 707.89 L144 707.94 L144.5 707.99 L145 708.03 L145.5 708.07 L146 708.11 L146.5 708.14 L147 708.17 L147.5 708.2 L148 708.23 L148.5 708.25 L149 708.27 L149.5 708.28 L150 708.3 L150.5 708.31 L151 708.32 L151.5 708.33 L152 708.34 L152.5 708.35 L153 708.36 L153.5 708.36 L154 708.37 L154.5 708.37 L155 708.38 L155.5 708.38 L155.8 708.4Z" fill="url(#hatchd)" stroke="#000" stroke-width="0.6"/>
<polyline points="37.5,706.5 38.25,706.39 39,707.35 39.75,707.94 40.5,708.16 41.25,707.38 42,708.12 42.75,708.4 43.5,707.26 44.25,707.31 45,707.02 45.75,708.04 46.5,707.39 47.25,707.44 48,708.4 48.75,707.02 49.5,707.17 50.25,705.72 51,707.25 51.75,707.49 52.5,706.51 53.25,707.23 54,706.72 54.75,707.6 55.5,707.17 56.25,706.57 57,706.76 57.75,707.12 58.5,707.92 59.25,706.73 60,706.88 60.75,706.24 61.5,706.41 62.25,705.45 63,706 63.75,705.36 64.5,704.39 65.25,705.3 66,703.84 66.75,702.93 67.5,698.81 68.25,699.73 69,696.88 69.75,694.71 70.5,693.74 71.25,693.5 72,685.14 72.75,684.75 73.5,677.87 74.25,679.66 75,672.62 75.75,661.62 76.5,655.49 77.25,648.28 78,643.88 78.75,646.61 79.5,625.51 80.25,636.17 81,631.13 81.75,635.89 82.5,622.38 83.25,616.13 84,625.21 84.75,631.29 85.5,626.01 86.25,615.25 87,633.91 87.75,623.54 88.5,631.58 89.25,627.9 90,623.25 90.75,632.47 91.5,626.56 92.25,636.48 93,610.8 93.75,622.32 94.5,651.29 95.25,650.22 96,668.23 96.75,658.24 97.5,660.16 98.25,668.37 99,664 99.75,669.88 100.5,678.31 101.25,671.91 102,675.77 102.75,675.35 103.5,675.13 104.25,671.62 105,675.89 105.75,676.9 106.5,676.19 107.25,683.09 108,674.61 108.75,681.63 109.5,677.62 110.25,682.34 111,682.17 111.75,680.8 112.5,674.73 113.25,678.31 114,682.13 114.75,681.52 115.5,684.12 116.25,681.43 117,683.16 117.75,680.12 118.5,685.86 119.25,683.61 120,685.29 120.75,685.41 121.5,682.36 122.25,684.3 123,683.75 123.75,682.92 124.5,683.65 125.25,689.95 126,686.33 126.75,691.93 127.5,688.94 128.25,685.55 129,690.53 129.75,691.54 130.5,691.18 131.25,692.14 132,692.79 132.75,694.81 133.5,692.3 134.25,693.3 135,695.71 135.75,695.46 136.5,695.52 137.25,695.54 138,697.01 138.75,697.1 139.5,698.9 140.25,700.5 141,700.31 141.75,698.99 142.5,699.62 143.25,701.13 144,702.42 144.75,701.92 145.5,700.94 146.25,701.73 147,704.19 147.75,703.94 148.5,705.62 149.25,705.64 150,704.77 150.75,705.23 151.5,704.75 152.25,704.71 153,705.2 153.75,704.93 154.5,706.54 155.25,707.1" fill="none" stroke="#000" stroke-width="1.0"/>
<polyline points="37.5,706.05 38.25,704.52 39,706.15 39.75,707.21 40.5,706.23 41.25,705.4 42,707.12 42.75,705.84 43.5,706.83 44.25,705.51 45,705.85 45.75,706.19 46.5,705 47.25,706.68 48,706.88 48.75,705.1 49.5,707.01 50.25,704.85 51,706.42 51.75,707.11 52.5,706.38 53.25,706.28 54,706.22 54.75,706.48 55.5,705.56 56.25,707.94 57,706.65 57.75,706.4 58.5,704.83 59.25,707.5 60,706.18 60.75,706.63 61.5,706.08 62.25,704.8 63,704.63 63.75,703.32 64.5,704.51 65.25,703.04 66,701.27 66.75,700.42 67.5,700.52 68.25,697.16 69,698.12 69.75,691.85 70.5,691.97 71.25,689.66 72,685.68 72.75,680.64 73.5,674.04 74.25,675.08 75,671.38 75.75,663.15 76.5,664.04 77.25,654.67 78,637.84 78.75,647.38 79.5,627.06 80.25,642.26 81,646.03 81.75,626.57 82.5,624.31 83.25,612.91 84,617.39 84.75,617.77 85.5,615.31 86.25,622.38 87,619.98 87.75,631.41 88.5,620.16 89.25,631.44 90,626.77 90.75,627.15 91.5,629.12 92.25,643.81 93,616.85 93.75,633.33 94.5,643.6 95.25,646.44 96,653.1 96.75,656.31 97.5,652.3 98.25,658.87 99,663.07 99.75,673.52 100.5,671.27 101.25,666.21 102,670.88 102.75,675.75 103.5,675.68 104.25,675.43 105,673.12 105.75,674.65 106.5,673.39 107.25,679.18 108,674.34 108.75,678.99 109.5,678.72 110.25,673.28 111,678.23 111.75,679.09 112.5,679.54 113.25,680.27 114,675.24 114.75,676.04 115.5,678.12 116.25,679.85 117,677.91 117.75,681.2 118.5,680.2 119.25,680.73 120,681.95 120.75,678.53 121.5,678.8 122.25,680.41 123,688.67 123.75,680.42 124.5,683.67 125.25,686.89 126,686.56 126.75,684.71 127.5,685.35 128.25,686.73 129,688.87 129.75,689.76 130.5,688.93 131.25,691.34 132,693.45 132.75,693.58 133.5,693.37 134.25,693.21 135,690.74 135.75,697.09 136.5,694.8 137.25,696.2 138,696.15 138.75,695.18 139.5,695.85 140.25,698.3 141,699.39 141.75,700.93 142.5,699.87 143.25,698.85 144,701.08 144.75,700.49 145.5,700.95 146.25,701.71 147,701.44 147.75,703.01 148.5,704.04 149.25,704.67 150,703.12 150.75,704.57 151.5,704.82 152.25,704.07 153,705.52 153.75,703.57 154.5,704.57 155.25,705.62" fill="none" stroke="#1a1a1a" stroke-width="0.8"/>
<line x1="37.5" y1="585.2" x2="37.5" y2="708.4" stroke="#000" stroke-width="1"/>
<line x1="37.5" y1="708.4" x2="155.8" y2="708.4" stroke="#000" stroke-width="1"/>
<line x1="37.5" y1="708.4" x2="37.5" y2="710.6" stroke="#000" stroke-width="0.8"/>
<text x="37.5" y="715.9" font-size="4.4" text-anchor="middle" fill="#444">0</text>
<line x1="61.16" y1="708.4" x2="61.16" y2="710.6" stroke="#000" stroke-width="0.8"/>
<text x="61.16" y="715.9" font-size="4.4" text-anchor="middle" fill="#444">50</text>
<line x1="84.82" y1="708.4" x2="84.82" y2="710.6" stroke="#000" stroke-width="0.8"/>
<text x="84.82" y="715.9" font-size="4.4" text-anchor="middle" fill="#444">100</text>
<line x1="108.48" y1="708.4" x2="108.48" y2="710.6" stroke="#000" stroke-width="0.8"/>
<text x="108.48" y="715.9" font-size="4.4" text-anchor="middle" fill="#444">150</text>
<line x1="132.14" y1="708.4" x2="132.14" y2="710.6" stroke="#000" stroke-width="0.8"/>
<text x="132.14" y="715.9" font-size="4.4" text-anchor="middle" fill="#444">200</text>
<line x1="155.8" y1="708.4" x2="155.8" y2="710.6" stroke="#000" stroke-width="0.8"/>
<text x="155.8" y="715.9" font-size="4.4" text-anchor="middle" fill="#444">250</text>
<line x1="37.5" y1="708.4" x2="37.5" y2="709.6" stroke="#000" stroke-width="0.5"/>
<line x1="42.23" y1="708.4" x2="42.23" y2="709.6" stroke="#000" stroke-width="0.5"/>
<line x1="46.96" y1="708.4" x2="46.96" y2="709.6" stroke="#000" stroke-width="0.5"/>
<line x1="51.7" y1="708.4" x2="51.7" y2="709.6" stroke="#000" stroke-width="0.5"/>
<line x1="56.43" y1="708.4" x2="56.43" y2="709.6" stroke="#000" stroke-width="0.5"/>
<line x1="61.16" y1="708.4" x2="61.16" y2="709.6" stroke="#000" stroke-width="0.5"/>
<line x1="65.89" y1="708.4" x2="65.89" y2="709.6" stroke="#000" stroke-width="0.5"/>
<line x1="70.62" y1="708.4" x2="70.62" y2="709.6" stroke="#000" stroke-width="0.5"/>
<line x1="75.36" y1="708.4" x2="75.36" y2="709.6" stroke="#000" stroke-width="0.5"/>
<line x1="80.09" y1="708.4" x2="80.09" y2="709.6" stroke="#000" stroke-width="0.5"/>
<line x1="84.82" y1="708.4" x2="84.82" y2="709.6" stroke="#000" stroke-width="0.5"/>
<line x1="89.55" y1="708.4" x2="89.55" y2="709.6" stroke="#000" stroke-width="0.5"/>
<line x1="94.28" y1="708.4" x2="94.28" y2="709.6" stroke="#000" stroke-width="0.5"/>
<line x1="99.02" y1="708.4" x2="99.02" y2="709.6" stroke="#000" stroke-width="0.5"/>
<line x1="103.75" y1="708.4" x2="103.75" y2="709.6" stroke="#000" stroke-width="0.5"/>
<line x1="108.48" y1="708.4" x2="108.48" y2="709.6" stroke="#000" stroke-width="0.5"/>
<line x1="113.21" y1="708.4" x2="113.21" y2="709.6" stroke="#000" stroke-width="0.5"/>
<line x1="117.94" y1="708.4" x2="117.94" y2="709.6" stroke="#000" stroke-width="0.5"/>
<line x1="122.68" y1="708.4" x2="122.68" y2="709.6" stroke="#000" stroke-width="0.5"/>
<line x1="127.41" y1="708.4" x2="127.41" y2="709.6" stroke="#000" stroke-width="0.5"/>
<line x1="132.14" y1="708.4" x2="132.14" y2="709.6" stroke="#000" stroke-width="0.5"/>
<line x1="136.87" y1="708.4" x2="136.87" y2="709.6" stroke="#000" stroke-width="0.5"/>
<line x1="141.6" y1="708.4" x2="141.6" y2="709.6" stroke="#000" stroke-width="0.5"/>
<line x1="146.34" y1="708.4" x2="146.34" y2="709.6" stroke="#000" stroke-width="0.5"/>
<line x1="151.07" y1="708.4" x2="151.07" y2="709.6" stroke="#000" stroke-width="0.5"/>
<line x1="155.8" y1="708.4" x2="155.8" y2="709.6" stroke="#000" stroke-width="0.5"/>
<line x1="35.3" y1="708.4" x2="37.5" y2="708.4" stroke="#000" stroke-width="0.8"/>
<text font-size="4.4" text-anchor="middle" fill="#444" transform="translate(33.5 708.4) rotate(-90)">0</text>
<line x1="35.3" y1="683.6" x2="37.5" y2="683.6" stroke="#000" stroke-width="0.8"/>
<text font-size="4.4" text-anchor="middle" fill="#444" transform="translate(33.5 683.6) rotate(-90)">20</text>
<line x1="35.3" y1="658.8" x2="37.5" y2="658.8" stroke="#000" stroke-width="0.8"/>
<text font-size="4.4" text-anchor="middle" fill="#444" transform="translate(33.5 658.8) rotate(-90)">40</text>
<line x1="35.3" y1="634" x2="37.5" y2="634" stroke="#000" stroke-width="0.8"/>
<text font-size="4.4" text-anchor="middle" fill="#444" transform="translate(33.5 634) rotate(-90)">60</text>
<line x1="35.3" y1="609.2" x2="37.5" y2="609.2" stroke="#000" stroke-width="0.8"/>
<text font-size="4.4" text-anchor="middle" fill="#444" transform="translate(33.5 609.2) rotate(-90)">80</text>
<line x1="36.1" y1="708.4" x2="37.5" y2="708.4" stroke="#000" stroke-width="0.6"/>
<line x1="36.1" y1="705.3" x2="37.5" y2="705.3" stroke="#000" stroke-width="0.6"/>
<line x1="36.1" y1="702.2" x2="37.5" y2="702.2" stroke="#000" stroke-width="0.6"/>
<line x1="36.1" y1="699.1" x2="37.5" y2="699.1" stroke="#000" stroke-width="0.6"/>
<line x1="36.1" y1="696" x2="37.5" y2="696" stroke="#000" stroke-width="0.6"/>
<line x1="36.1" y1="692.9" x2="37.5" y2="692.9" stroke="#000" stroke-width="0.6"/>
<line x1="36.1" y1="689.8" x2="37.5" y2="689.8" stroke="#000" stroke-width="0.6"/>
<line x1="36.1" y1="686.7" x2="37.5" y2="686.7" stroke="#000" stroke-width="0.6"/>
<line x1="36.1" y1="683.6" x2="37.5" y2="683.6" stroke="#000" stroke-width="0.6"/>
<line x1="36.1" y1="680.5" x2="37.5" y2="680.5" stroke="#000" stroke-width="0.6"/>
<line x1="36.1" y1="677.4" x2="37.5" y2="677.4" stroke="#000" stroke-width="0.6"/>
<line x1="36.1" y1="674.3" x2="37.5" y2="674.3" stroke="#000" stroke-width="0.6"/>
<line x1="36.1" y1="671.2" x2="37.5" y2="671.2" stroke="#000" stroke-width="0.6"/>
<line x1="36.1" y1="668.1" x2="37.5" y2="668.1" stroke="#000" stroke-width="0.6"/>
<line x1="36.1" y1="665" x2="37.5" y2="665" stroke="#000" stroke-width="0.6"/>
<line x1="36.1" y1="661.9" x2="37.5" y2="661.9" stroke="#000" stroke-width="0.6"/>
<line x1="36.1" y1="658.8" x2="37.5" y2="658.8" stroke="#000" stroke-width="0.6"/>
<line x1="36.1" y1="655.7" x2="37.5" y2="655.7" stroke="#000" stroke-width="0.6"/>
<line x1="36.1" y1="652.6" x2="37.5" y2="652.6" stroke="#000" stroke-width="0.6"/>
<line x1="36.1" y1="649.5" x2="37.5" y2="649.5" stroke="#000" stroke-width="0.6"/>
<line x1="36.1" y1="646.4" x2="37.5" y2="646.4" stroke="#000" stroke-width="0.6"/>
<line x1="36.1" y1="643.3" x2="37.5" y2="643.3" stroke="#000" stroke-width="0.6"/>
<line x1="36.1" y1="640.2" x2="37.5" y2="640.2" stroke="#000" stroke-width="0.6"/>
<line x1="36.1" y1="637.1" x2="37.5" y2="637.1" stroke="#000" stroke-width="0.6"/>
<line x1="36.1" y1="634" x2="37.5" y2="634" stroke="#000" stroke-width="0.6"/>
<line x1="36.1" y1="630.9" x2="37.5" y2="630.9" stroke="#000" stroke-width="0.6"/>
<line x1="36.1" y1="627.8" x2="37.5" y2="627.8" stroke="#000" stroke-width="0.6"/>
<line x1="36.1" y1="624.7" x2="37.5" y2="624.7" stroke="#000" stroke-width="0.6"/>
<line x1="36.1" y1="621.6" x2="37.5" y2="621.6" stroke="#000" stroke-width="0.6"/>
<line x1="36.1" y1="618.5" x2="37.5" y2="618.5" stroke="#000" stroke-width="0.6"/>
<line x1="36.1" y1="615.4" x2="37.5" y2="615.4" stroke="#000" stroke-width="0.6"/>
<line x1="36.1" y1="612.3" x2="37.5" y2="612.3" stroke="#000" stroke-width="0.6"/>
<line x1="36.1" y1="609.2" x2="37.5" y2="609.2" stroke="#000" stroke-width="0.6"/>
<line x1="36.1" y1="606.1" x2="37.5" y2="606.1" stroke="#000" stroke-width="0.6"/>
<line x1="36.1" y1="603" x2="37.5" y2="603" stroke="#000" stroke-width="0.6"/>
<line x1="36.1" y1="599.9" x2="37.5" y2="599.9" stroke="#000" stroke-width="0.6"/>
<line x1="36.1" y1="596.8" x2="37.5" y2="596.8" stroke="#000" stroke-width="0.6"/>
<line x1="36.1" y1="593.7" x2="37.5" y2="593.7" stroke="#000" stroke-width="0.6"/>
<line x1="36.1" y1="590.6" x2="37.5" y2="590.6" stroke="#000" stroke-width="0.6"/>
<text font-size="4.6" text-anchor="middle" fill="#444" transform="translate(31 648.4) rotate(-90)">Number</text>
<path d="M193 708.2 L193 708.2 L193.5 708.2 L194 708.2 L194.5 708.2 L195 708.2 L195.5 708.2 L196 708.2 L196.5 708.2 L197 708.2 L197.5 708.2 L198 708.2 L198.5 708.2 L199 708.2 L199.5 708.2 L200 708.2 L200.5 708.2 L201 708.2 L201.5 708.2 L202 708.2 L202.5 708.2 L203 708.2 L203.5 708.2 L204 708.19 L204.5 708.19 L205 708.19 L205.5 708.19 L206 708.18 L206.5 708.18 L207 708.17 L207.5 708.17 L208 708.16 L208.5 708.15 L209 708.14 L209.5 708.12 L210 708.1 L210.5 708.08 L211 708.05 L211.5 708.01 L212 707.97 L212.5 707.91 L213 707.84 L213.5 707.75 L214 707.65 L214.5 707.52 L215 707.36 L215.5 707.17 L216 706.94 L216.5 706.66 L217 706.33 L217.5 705.93 L218 705.46 L218.5 704.9 L219 704.24 L219.5 703.46 L220 702.56 L220.5 701.51 L221 700.31 L221.5 698.93 L222 697.35 L222.5 695.57 L223 693.56 L223.5 691.31 L224 688.82 L224.5 686.06 L225 683.04 L225.5 679.74 L226 676.18 L226.5 672.36 L227 668.28 L227.5 663.97 L228 659.45 L228.5 654.74 L229 649.88 L229.5 644.91 L230 639.87 L230.5 634.81 L231 629.78 L231.5 624.84 L232 620.04 L232.5 615.44 L233 611.09 L233.5 607.05 L234 603.35 L234.5 600.05 L235 597.18 L235.5 594.76 L236 592.82 L236.5 591.38 L237 590.42 L237.5 589.95 L238 589.95 L238.5 590.41 L239 591.29 L239.5 592.56 L240 594.19 L240.5 596.14 L241 598.36 L241.5 600.82 L242 603.48 L242.5 606.29 L243 609.22 L243.5 612.24 L244 615.3 L244.5 618.39 L245 621.48 L245.5 624.53 L246 627.54 L246.5 630.49 L247 633.43 L247.5 636.28 L248 639.06 L248.5 641.75 L249 644.37 L249.5 646.9 L250 649.31 L250.5 651.51 L251 653.53 L251.5 655.38 L252 657.06 L252.5 658.59 L253 659.98 L253.5 661.25 L254 662.4 L254.5 663.45 L255 664.41 L255.5 665.29 L256 666.1 L256.5 666.85 L257 667.55 L257.5 668.2 L258 668.82 L258.5 669.4 L259 669.95 L259.5 670.48 L260 670.98 L260.5 671.48 L261 671.96 L261.5 672.42 L262 672.88 L262.5 673.34 L263 673.78 L263.5 674.23 L264 674.67 L264.5 675.11 L265 675.56 L265.5 676 L266 676.45 L266.5 676.9 L267 677.35 L267.5 677.81 L268 678.28 L268.5 678.74 L269 679.22 L269.5 679.7 L270 680.19 L270.5 680.68 L271 681.19 L271.5 681.69 L272 682.21 L272.5 682.73 L273 683.26 L273.5 683.79 L274 684.33 L274.5 684.88 L275 685.42 L275.5 685.98 L276 686.53 L276.5 687.09 L277 687.65 L277.5 688.21 L278 688.77 L278.5 689.34 L279 689.89 L279.5 690.45 L280 691 L280.5 691.55 L281 692.1 L281.5 692.64 L282 693.17 L282.5 693.69 L283 694.2 L283.5 694.71 L284 695.2 L284.5 695.68 L285 696.15 L285.5 696.61 L286 697.06 L286.5 697.49 L287 697.91 L287.5 698.32 L288 698.71 L288.5 699.09 L289 699.45 L289.5 699.8 L290 700.13 L290.5 700.45 L291 700.76 L291.5 701.05 L292 701.39 L292.5 701.81 L293 702.21 L293.5 702.6 L294 702.97 L294.5 703.32 L295 703.66 L295.5 703.99 L296 704.31 L296.5 704.61 L297 704.9 L297.5 705.18 L298 705.44 L298.5 705.7 L299 705.94 L299.5 706.18 L300 706.4 L300.5 706.62 L301 706.83 L301.5 707.03 L302 707.22 L302.5 707.41 L303 707.58 L303.5 707.76 L304 707.87 L304.5 707.91 L305 707.94 L305.5 707.97 L306 707.99 L306.5 708.01 L307 708.03 L307.5 708.05 L307.8 708.2Z" fill="#fff" stroke="#000" stroke-width="0.9"/>
<path d="M193 708.2 L193 708.2 L193.5 708.2 L194 708.2 L194.5 708.2 L195 708.2 L195.5 708.2 L196 708.2 L196.5 708.2 L197 708.2 L197.5 708.2 L198 708.2 L198.5 708.2 L199 708.2 L199.5 708.2 L200 708.2 L200.5 708.2 L201 708.2 L201.5 708.2 L202 708.2 L202.5 708.2 L203 708.2 L203.5 708.2 L204 708.2 L204.5 708.2 L205 708.2 L205.5 708.2 L206 708.2 L206.5 708.2 L207 708.2 L207.5 708.19 L208 708.19 L208.5 708.19 L209 708.18 L209.5 708.18 L210 708.17 L210.5 708.16 L211 708.15 L211.5 708.13 L212 708.1 L212.5 708.07 L213 708.03 L213.5 707.98 L214 707.92 L214.5 707.83 L215 707.73 L215.5 707.6 L216 707.44 L216.5 707.24 L217 706.99 L217.5 706.69 L218 706.33 L218.5 705.9 L219 705.37 L219.5 704.76 L220 704.03 L220.5 703.17 L221 702.17 L221.5 701.02 L222 699.7 L222.5 698.18 L223 696.47 L223.5 694.55 L224 692.39 L224.5 690.01 L225 687.38 L225.5 684.51 L226 681.4 L226.5 678.05 L227 674.48 L227.5 670.71 L228 666.75 L228.5 662.63 L229 658.39 L229.5 654.07 L230 649.71 L230.5 645.36 L231 641.07 L231.5 636.9 L232 632.9 L232.5 629.14 L233 625.66 L233.5 622.52 L234 619.78 L234.5 617.46 L235 615.62 L235.5 614.28 L236 613.47 L236.5 613.2 L237 613.47 L237.5 614.28 L238 615.62 L238.5 617.46 L239 619.78 L239.5 622.52 L240 625.66 L240.5 629.14 L241 632.9 L241.5 636.9 L242 641.07 L242.5 645.36 L243 649.71 L243.5 654.07 L244 658.39 L244.5 662.63 L245 666.75 L245.5 670.71 L246 674.48 L246.5 678.05 L247 681.4 L247.5 684.51 L248 687.38 L248.5 690.01 L249 692.39 L249.5 694.55 L250 696.47 L250.5 698.18 L251 699.7 L251.5 701.02 L252 702.17 L252.5 703.17 L253 704.03 L253.5 704.76 L254 705.37 L254.5 705.9 L255 706.33 L255.5 706.69 L256 706.99 L256.5 707.24 L257 707.44 L257.5 707.6 L258 707.73 L258.5 707.83 L259 707.92 L259.5 707.98 L260 708.03 L260.5 708.07 L261 708.1 L261.5 708.13 L262 708.15 L262.5 708.16 L263 708.17 L263.5 708.18 L264 708.18 L264.5 708.19 L265 708.19 L265.5 708.19 L266 708.2 L266.5 708.2 L267 708.2 L267.5 708.2 L268 708.2 L268.5 708.2 L269 708.2 L269.5 708.2 L270 708.2 L270.5 708.2 L271 708.2 L271.5 708.2 L272 708.2 L272.5 708.2 L273 708.2 L273.5 708.2 L274 708.2 L274.5 708.2 L275 708.2 L275.5 708.2 L276 708.2 L276.5 708.2 L277 708.2 L277.5 708.2 L278 708.2 L278.5 708.2 L279 708.2 L279.5 708.2 L280 708.2 L280.5 708.2 L281 708.2 L281.5 708.2 L282 708.2 L282.5 708.2 L283 708.2 L283.5 708.2 L284 708.2 L284.5 708.2 L285 708.2 L285.5 708.2 L286 708.2 L286.5 708.2 L287 708.2 L287.5 708.2 L288 708.2 L288.5 708.2 L289 708.2 L289.5 708.2 L290 708.2 L290.5 708.2 L291 708.2 L291.5 708.2 L292 708.2 L292.5 708.2 L293 708.2 L293.5 708.2 L294 708.2 L294.5 708.2 L295 708.2 L295.5 708.2 L296 708.2 L296.5 708.2 L297 708.2 L297.5 708.2 L298 708.2 L298.5 708.2 L299 708.2 L299.5 708.2 L300 708.2 L300.5 708.2 L301 708.2 L301.5 708.2 L302 708.2 L302.5 708.2 L303 708.2 L303.5 708.2 L304 708.2 L304.5 708.2 L305 708.2 L305.5 708.2 L306 708.2 L306.5 708.2 L307 708.2 L307.5 708.2 L307.8 708.2Z" fill="#2e2e2e" stroke="#000" stroke-width="0.6"/>
<path d="M193 708.2 L193 708.2 L193.5 708.2 L194 708.2 L194.5 708.2 L195 708.2 L195.5 708.2 L196 708.2 L196.5 708.2 L197 708.2 L197.5 708.2 L198 708.2 L198.5 708.2 L199 708.2 L199.5 708.2 L200 708.2 L200.5 708.2 L201 708.2 L201.5 708.2 L202 708.2 L202.5 708.2 L203 708.2 L203.5 708.2 L204 708.2 L204.5 708.2 L205 708.2 L205.5 708.2 L206 708.2 L206.5 708.2 L207 708.2 L207.5 708.2 L208 708.2 L208.5 708.2 L209 708.2 L209.5 708.2 L210 708.2 L210.5 708.2 L211 708.2 L211.5 708.2 L212 708.2 L212.5 708.2 L213 708.2 L213.5 708.2 L214 708.2 L214.5 708.2 L215 708.2 L215.5 708.2 L216 708.2 L216.5 708.2 L217 708.2 L217.5 708.2 L218 708.2 L218.5 708.2 L219 708.2 L219.5 708.2 L220 708.19 L220.5 708.19 L221 708.19 L221.5 708.19 L222 708.18 L222.5 708.18 L223 708.17 L223.5 708.16 L224 708.15 L224.5 708.14 L225 708.12 L225.5 708.1 L226 708.08 L226.5 708.04 L227 708 L227.5 707.95 L228 707.9 L228.5 707.82 L229 707.74 L229.5 707.63 L230 707.51 L230.5 707.36 L231 707.19 L231.5 706.99 L232 706.75 L232.5 706.48 L233 706.16 L233.5 705.8 L234 705.39 L234.5 704.93 L235 704.41 L235.5 703.83 L236 703.19 L236.5 702.48 L237 701.7 L237.5 700.86 L238 699.94 L238.5 698.96 L239 697.91 L239.5 696.8 L240 695.63 L240.5 694.41 L241 693.15 L241.5 691.85 L242 690.54 L242.5 689.21 L243 687.88 L243.5 686.57 L244 685.29 L244.5 684.06 L245 682.88 L245.5 681.78 L246 680.77 L246.5 679.87 L247 679.08 L247.5 678.42 L248 677.89 L248.5 677.51 L249 677.28 L249.5 677.2 L250 677.21 L250.5 677.25 L251 677.32 L251.5 677.41 L252 677.53 L252.5 677.68 L253 677.85 L253.5 678.05 L254 678.27 L254.5 678.52 L255 678.79 L255.5 679.08 L256 679.39 L256.5 679.73 L257 680.08 L257.5 680.46 L258 680.85 L258.5 681.27 L259 681.7 L259.5 682.14 L260 682.6 L260.5 683.07 L261 683.56 L261.5 684.06 L262 684.57 L262.5 685.08 L263 685.61 L263.5 686.14 L264 686.68 L264.5 687.22 L265 687.77 L265.5 688.32 L266 688.88 L266.5 689.43 L267 689.98 L267.5 690.54 L268 691.09 L268.5 691.64 L269 692.18 L269.5 692.72 L270 693.25 L270.5 693.78 L271 694.31 L271.5 694.82 L272 695.33 L272.5 695.83 L273 696.32 L273.5 696.8 L274 697.27 L274.5 697.73 L275 698.18 L275.5 698.61 L276 699.04 L276.5 699.46 L277 699.86 L277.5 700.25 L278 700.63 L278.5 701 L279 701.36 L279.5 701.7 L280 702.03 L280.5 702.36 L281 702.66 L281.5 702.96 L282 703.25 L282.5 703.52 L283 703.78 L283.5 704.03 L284 704.27 L284.5 704.5 L285 704.72 L285.5 704.93 L286 705.13 L286.5 705.32 L287 705.5 L287.5 705.67 L288 705.84 L288.5 705.99 L289 706.13 L289.5 706.27 L290 706.4 L290.5 706.53 L291 706.64 L291.5 706.75 L292 706.85 L292.5 706.95 L293 707.04 L293.5 707.12 L294 707.2 L294.5 707.28 L295 707.35 L295.5 707.41 L296 707.47 L296.5 707.53 L297 707.58 L297.5 707.63 L298 707.68 L298.5 707.72 L299 707.76 L299.5 707.8 L300 707.83 L300.5 707.86 L301 707.89 L301.5 707.92 L302 707.94 L302.5 707.96 L303 707.98 L303.5 708 L304 708.02 L304.5 708.04 L305 708.05 L305.5 708.07 L306 708.08 L306.5 708.09 L307 708.1 L307.5 708.11 L307.8 708.2Z" fill="url(#hatch)" stroke="#000" stroke-width="0.8"/>
<path d="M193 708.2 L193 708.2 L193.5 708.2 L194 708.2 L194.5 708.2 L195 708.2 L195.5 708.2 L196 708.2 L196.5 708.2 L197 708.2 L197.5 708.2 L198 708.2 L198.5 708.2 L199 708.2 L199.5 708.2 L200 708.2 L200.5 708.2 L201 708.2 L201.5 708.2 L202 708.2 L202.5 708.2 L203 708.2 L203.5 708.2 L204 708.2 L204.5 708.2 L205 708.2 L205.5 708.2 L206 708.2 L206.5 708.2 L207 708.2 L207.5 708.2 L208 708.2 L208.5 708.2 L209 708.2 L209.5 708.2 L210 708.2 L210.5 708.2 L211 708.2 L211.5 708.2 L212 708.2 L212.5 708.2 L213 708.2 L213.5 708.2 L214 708.2 L214.5 708.2 L215 708.2 L215.5 708.2 L216 708.2 L216.5 708.2 L217 708.2 L217.5 708.2 L218 708.2 L218.5 708.2 L219 708.2 L219.5 708.2 L220 708.2 L220.5 708.2 L221 708.2 L221.5 708.2 L222 708.2 L222.5 708.2 L223 708.2 L223.5 708.2 L224 708.2 L224.5 708.2 L225 708.2 L225.5 708.2 L226 708.2 L226.5 708.2 L227 708.2 L227.5 708.2 L228 708.2 L228.5 708.2 L229 708.2 L229.5 708.2 L230 708.2 L230.5 708.2 L231 708.19 L231.5 708.19 L232 708.19 L232.5 708.19 L233 708.19 L233.5 708.19 L234 708.19 L234.5 708.18 L235 708.18 L235.5 708.18 L236 708.17 L236.5 708.17 L237 708.16 L237.5 708.16 L238 708.15 L238.5 708.14 L239 708.13 L239.5 708.12 L240 708.11 L240.5 708.1 L241 708.09 L241.5 708.07 L242 708.05 L242.5 708.03 L243 708.01 L243.5 707.98 L244 707.96 L244.5 707.92 L245 707.89 L245.5 707.85 L246 707.81 L246.5 707.77 L247 707.72 L247.5 707.66 L248 707.6 L248.5 707.54 L249 707.47 L249.5 707.39 L250 707.31 L250.5 707.22 L251 707.13 L251.5 707.03 L252 706.92 L252.5 706.81 L253 706.69 L253.5 706.56 L254 706.42 L254.5 706.28 L255 706.13 L255.5 705.97 L256 705.81 L256.5 705.64 L257 705.46 L257.5 705.27 L258 705.08 L258.5 704.89 L259 704.69 L259.5 704.48 L260 704.27 L260.5 704.06 L261 703.84 L261.5 703.63 L262 703.41 L262.5 703.19 L263 702.97 L263.5 702.76 L264 702.55 L264.5 702.34 L265 702.14 L265.5 701.94 L266 701.75 L266.5 701.57 L267 701.39 L267.5 701.23 L268 701.08 L268.5 700.93 L269 700.81 L269.5 700.69 L270 700.59 L270.5 700.5 L271 700.43 L271.5 700.37 L272 700.33 L272.5 700.31 L273 700.3 L273.5 700.31 L274 700.33 L274.5 700.37 L275 700.43 L275.5 700.5 L276 700.59 L276.5 700.69 L277 700.81 L277.5 700.93 L278 701.08 L278.5 701.23 L279 701.39 L279.5 701.57 L280 701.75 L280.5 701.94 L281 702.14 L281.5 702.34 L282 702.55 L282.5 702.76 L283 702.97 L283.5 703.19 L284 703.41 L284.5 703.63 L285 703.84 L285.5 704.06 L286 704.27 L286.5 704.48 L287 704.69 L287.5 704.89 L288 705.08 L288.5 705.27 L289 705.46 L289.5 705.64 L290 705.81 L290.5 705.97 L291 706.13 L291.5 706.28 L292 706.42 L292.5 706.56 L293 706.69 L293.5 706.81 L294 706.92 L294.5 707.03 L295 707.13 L295.5 707.22 L296 707.31 L296.5 707.39 L297 707.47 L297.5 707.54 L298 707.6 L298.5 707.66 L299 707.72 L299.5 707.77 L300 707.81 L300.5 707.85 L301 707.89 L301.5 707.92 L302 707.96 L302.5 707.98 L303 708.01 L303.5 708.03 L304 708.05 L304.5 708.07 L305 708.09 L305.5 708.1 L306 708.11 L306.5 708.12 L307 708.13 L307.5 708.14 L307.8 708.2Z" fill="url(#hatchd)" stroke="#000" stroke-width="0.6"/>
<polyline points="193,705.56 193.75,707.66 194.5,706.92 195.25,707.1 196,706.62 196.75,708.18 197.5,707.49 198.25,707.73 199,707.95 199.75,707.79 200.5,707.56 201.25,707.4 202,707.83 202.75,706.9 203.5,707.58 204.25,708.2 205,706.36 205.75,707.46 206.5,707.7 207.25,706.98 208,707 208.75,707.11 209.5,707.73 210.25,706.96 211,708.14 211.75,705.96 212.5,707.82 213.25,706.95 214,706.63 214.75,706.28 215.5,706.36 216.25,705.42 217,708.2 217.75,704.91 218.5,704.17 219.25,703.44 220,699.99 220.75,701.31 221.5,698.22 222.25,698.91 223,692.3 223.75,692.72 224.5,689.09 225.25,674.36 226,673.4 226.75,669.85 227.5,656.81 228.25,657.29 229,654.94 229.75,639.73 230.5,647.81 231.25,625.33 232,632.84 232.75,607.31 233.5,611.47 234.25,590.65 235,588.07 235.75,598.82 236.5,604.38 237.25,598 238,590.77 238.75,600.63 239.5,590.1 240.25,586.12 241,599.04 241.75,606.08 242.5,593.77 243.25,607.18 244,608.7 244.75,622.27 245.5,608.53 246.25,625.78 247,640.04 247.75,636.88 248.5,645.15 249.25,650.49 250,649.63 250.75,648.47 251.5,665.22 252.25,657.62 253,660.2 253.75,661.99 254.5,659.66 255.25,669.6 256,663 256.75,667.56 257.5,667.25 258.25,669.37 259,670.58 259.75,672.03 260.5,669.44 261.25,664.32 262,668.69 262.75,670.08 263.5,671.75 264.25,675.8 265,672.96 265.75,669.03 266.5,680.18 267.25,674.36 268,674.54 268.75,677.44 269.5,676.7 270.25,675.77 271,674.31 271.75,677.65 272.5,677.56 273.25,681.87 274,681.43 274.75,683.9 275.5,684.44 276.25,687.05 277,685.26 277.75,684.44 278.5,688.81 279.25,688.77 280,688.87 280.75,690.9 281.5,689.96 282.25,692.05 283,695.36 283.75,695.8 284.5,693.56 285.25,694.45 286,694.42 286.75,696.39 287.5,697.08 288.25,700.18 289,696.59 289.75,700.25 290.5,698.15 291.25,701.39 292,701.24 292.75,700.87 293.5,702.11 294.25,702.94 295,701.76 295.75,702.5 296.5,703.25 297.25,704.39 298,705.22 298.75,705.27 299.5,705.65 300.25,705.55 301,705.23 301.75,706.28 302.5,707.03 303.25,707.15 304,705.95 304.75,706.82 305.5,706.81 306.25,706.81 307,706.62 307.75,706.97" fill="none" stroke="#000" stroke-width="1.0"/>
<polyline points="193,705.38 193.75,705.64 194.5,708.2 195.25,706.3 196,704.13 196.75,707.11 197.5,706.12 198.25,705.44 199,706.2 199.75,705.26 200.5,707.09 201.25,707.08 202,706.33 202.75,706.72 203.5,706.95 204.25,705.79 205,706 205.75,706.18 206.5,706.47 207.25,705.99 208,706.25 208.75,706.66 209.5,705.76 210.25,705.83 211,705.99 211.75,705.49 212.5,706.71 213.25,705.91 214,706.04 214.75,704.44 215.5,704.78 216.25,703.11 217,703.01 217.75,704.03 218.5,703.93 219.25,701.37 220,700.88 220.75,699.13 221.5,698.41 222.25,693.54 223,691.23 223.75,687.27 224.5,683.33 225.25,681.87 226,681.13 226.75,669.31 227.5,660.92 228.25,653.91 229,643.01 229.75,640.96 230.5,623.44 231.25,624.07 232,613.02 232.75,604.26 233.5,595.37 234.25,610.59 235,585.33 235.75,590.73 236.5,598.62 237.25,582.26 238,584.65 238.75,578.8 239.5,583.71 240.25,589.77 241,610.36 241.75,590.13 242.5,590.69 243.25,598.9 244,609.77 244.75,609.03 245.5,625.58 246.25,619.37 247,631.28 247.75,641.69 248.5,637.66 249.25,641.74 250,638.58 250.75,645.94 251.5,660.85 252.25,664.63 253,658.32 253.75,660.71 254.5,665.25 255.25,668.62 256,664.85 256.75,669.58 257.5,668.76 258.25,663.98 259,667.1 259.75,671.38 260.5,673.36 261.25,670.83 262,665.08 262.75,673.23 263.5,666.61 264.25,675.41 265,674.22 265.75,672.07 266.5,677.25 267.25,675.42 268,680.26 268.75,675.07 269.5,674.42 270.25,680.25 271,678.68 271.75,681.04 272.5,686.36 273.25,674.52 274,680.77 274.75,681.14 275.5,683.06 276.25,684.41 277,680.34 277.75,690.47 278.5,688 279.25,689.04 280,689.42 280.75,688.49 281.5,691.98 282.25,693.83 283,694.18 283.75,692.18 284.5,692.13 285.25,693.1 286,692.61 286.75,696.48 287.5,694.89 288.25,695.95 289,697.68 289.75,698.96 290.5,697.33 291.25,699.76 292,699.75 292.75,701.14 293.5,698.64 294.25,701.2 295,702.19 295.75,702.4 296.5,702.83 297.25,702.96 298,704.99 298.75,704.84 299.5,703.75 300.25,703.62 301,705.64 301.75,705.04 302.5,705.84 303.25,707.36 304,706.1 304.75,706.71 305.5,705.34 306.25,706.15 307,706.06 307.75,707.1" fill="none" stroke="#1a1a1a" stroke-width="0.8"/>
<line x1="193" y1="587" x2="193" y2="708.2" stroke="#000" stroke-width="1"/>
<line x1="193" y1="708.2" x2="307.8" y2="708.2" stroke="#000" stroke-width="1"/>
<line x1="193" y1="708.2" x2="193" y2="710.4" stroke="#000" stroke-width="0.8"/>
<text x="193" y="715.7" font-size="4.4" text-anchor="middle" fill="#444">0</text>
<line x1="215.96" y1="708.2" x2="215.96" y2="710.4" stroke="#000" stroke-width="0.8"/>
<text x="215.96" y="715.7" font-size="4.4" text-anchor="middle" fill="#444">50</text>
<line x1="238.92" y1="708.2" x2="238.92" y2="710.4" stroke="#000" stroke-width="0.8"/>
<text x="238.92" y="715.7" font-size="4.4" text-anchor="middle" fill="#444">100</text>
<line x1="261.88" y1="708.2" x2="261.88" y2="710.4" stroke="#000" stroke-width="0.8"/>
<text x="261.88" y="715.7" font-size="4.4" text-anchor="middle" fill="#444">150</text>
<line x1="284.84" y1="708.2" x2="284.84" y2="710.4" stroke="#000" stroke-width="0.8"/>
<text x="284.84" y="715.7" font-size="4.4" text-anchor="middle" fill="#444">200</text>
<line x1="307.8" y1="708.2" x2="307.8" y2="710.4" stroke="#000" stroke-width="0.8"/>
<text x="307.8" y="715.7" font-size="4.4" text-anchor="middle" fill="#444">250</text>
<line x1="193" y1="708.2" x2="193" y2="709.4" stroke="#000" stroke-width="0.5"/>
<line x1="197.59" y1="708.2" x2="197.59" y2="709.4" stroke="#000" stroke-width="0.5"/>
<line x1="202.18" y1="708.2" x2="202.18" y2="709.4" stroke="#000" stroke-width="0.5"/>
<line x1="206.78" y1="708.2" x2="206.78" y2="709.4" stroke="#000" stroke-width="0.5"/>
<line x1="211.37" y1="708.2" x2="211.37" y2="709.4" stroke="#000" stroke-width="0.5"/>
<line x1="215.96" y1="708.2" x2="215.96" y2="709.4" stroke="#000" stroke-width="0.5"/>
<line x1="220.55" y1="708.2" x2="220.55" y2="709.4" stroke="#000" stroke-width="0.5"/>
<line x1="225.14" y1="708.2" x2="225.14" y2="709.4" stroke="#000" stroke-width="0.5"/>
<line x1="229.74" y1="708.2" x2="229.74" y2="709.4" stroke="#000" stroke-width="0.5"/>
<line x1="234.33" y1="708.2" x2="234.33" y2="709.4" stroke="#000" stroke-width="0.5"/>
<line x1="238.92" y1="708.2" x2="238.92" y2="709.4" stroke="#000" stroke-width="0.5"/>
<line x1="243.51" y1="708.2" x2="243.51" y2="709.4" stroke="#000" stroke-width="0.5"/>
<line x1="248.1" y1="708.2" x2="248.1" y2="709.4" stroke="#000" stroke-width="0.5"/>
<line x1="252.7" y1="708.2" x2="252.7" y2="709.4" stroke="#000" stroke-width="0.5"/>
<line x1="257.29" y1="708.2" x2="257.29" y2="709.4" stroke="#000" stroke-width="0.5"/>
<line x1="261.88" y1="708.2" x2="261.88" y2="709.4" stroke="#000" stroke-width="0.5"/>
<line x1="266.47" y1="708.2" x2="266.47" y2="709.4" stroke="#000" stroke-width="0.5"/>
<line x1="271.06" y1="708.2" x2="271.06" y2="709.4" stroke="#000" stroke-width="0.5"/>
<line x1="275.66" y1="708.2" x2="275.66" y2="709.4" stroke="#000" stroke-width="0.5"/>
<line x1="280.25" y1="708.2" x2="280.25" y2="709.4" stroke="#000" stroke-width="0.5"/>
<line x1="284.84" y1="708.2" x2="284.84" y2="709.4" stroke="#000" stroke-width="0.5"/>
<line x1="289.43" y1="708.2" x2="289.43" y2="709.4" stroke="#000" stroke-width="0.5"/>
<line x1="294.02" y1="708.2" x2="294.02" y2="709.4" stroke="#000" stroke-width="0.5"/>
<line x1="298.62" y1="708.2" x2="298.62" y2="709.4" stroke="#000" stroke-width="0.5"/>
<line x1="303.21" y1="708.2" x2="303.21" y2="709.4" stroke="#000" stroke-width="0.5"/>
<line x1="307.8" y1="708.2" x2="307.8" y2="709.4" stroke="#000" stroke-width="0.5"/>
<line x1="190.8" y1="708.2" x2="193" y2="708.2" stroke="#000" stroke-width="0.8"/>
<text font-size="4.4" text-anchor="middle" fill="#444" transform="translate(189 708.2) rotate(-90)">0</text>
<line x1="190.8" y1="683.4" x2="193" y2="683.4" stroke="#000" stroke-width="0.8"/>
<text font-size="4.4" text-anchor="middle" fill="#444" transform="translate(189 683.4) rotate(-90)">20</text>
<line x1="190.8" y1="658.6" x2="193" y2="658.6" stroke="#000" stroke-width="0.8"/>
<text font-size="4.4" text-anchor="middle" fill="#444" transform="translate(189 658.6) rotate(-90)">40</text>
<line x1="190.8" y1="633.8" x2="193" y2="633.8" stroke="#000" stroke-width="0.8"/>
<text font-size="4.4" text-anchor="middle" fill="#444" transform="translate(189 633.8) rotate(-90)">60</text>
<line x1="190.8" y1="609" x2="193" y2="609" stroke="#000" stroke-width="0.8"/>
<text font-size="4.4" text-anchor="middle" fill="#444" transform="translate(189 609) rotate(-90)">80</text>
<line x1="191.6" y1="708.2" x2="193" y2="708.2" stroke="#000" stroke-width="0.6"/>
<line x1="191.6" y1="705.1" x2="193" y2="705.1" stroke="#000" stroke-width="0.6"/>
<line x1="191.6" y1="702" x2="193" y2="702" stroke="#000" stroke-width="0.6"/>
<line x1="191.6" y1="698.9" x2="193" y2="698.9" stroke="#000" stroke-width="0.6"/>
<line x1="191.6" y1="695.8" x2="193" y2="695.8" stroke="#000" stroke-width="0.6"/>
<line x1="191.6" y1="692.7" x2="193" y2="692.7" stroke="#000" stroke-width="0.6"/>
<line x1="191.6" y1="689.6" x2="193" y2="689.6" stroke="#000" stroke-width="0.6"/>
<line x1="191.6" y1="686.5" x2="193" y2="686.5" stroke="#000" stroke-width="0.6"/>
<line x1="191.6" y1="683.4" x2="193" y2="683.4" stroke="#000" stroke-width="0.6"/>
<line x1="191.6" y1="680.3" x2="193" y2="680.3" stroke="#000" stroke-width="0.6"/>
<line x1="191.6" y1="677.2" x2="193" y2="677.2" stroke="#000" stroke-width="0.6"/>
<line x1="191.6" y1="674.1" x2="193" y2="674.1" stroke="#000" stroke-width="0.6"/>
<line x1="191.6" y1="671" x2="193" y2="671" stroke="#000" stroke-width="0.6"/>
<line x1="191.6" y1="667.9" x2="193" y2="667.9" stroke="#000" stroke-width="0.6"/>
<line x1="191.6" y1="664.8" x2="193" y2="664.8" stroke="#000" stroke-width="0.6"/>
<line x1="191.6" y1="661.7" x2="193" y2="661.7" stroke="#000" stroke-width="0.6"/>
<line x1="191.6" y1="658.6" x2="193" y2="658.6" stroke="#000" stroke-width="0.6"/>
<line x1="191.6" y1="655.5" x2="193" y2="655.5" stroke="#000" stroke-width="0.6"/>
<line x1="191.6" y1="652.4" x2="193" y2="652.4" stroke="#000" stroke-width="0.6"/>
<line x1="191.6" y1="649.3" x2="193" y2="649.3" stroke="#000" stroke-width="0.6"/>
<line x1="191.6" y1="646.2" x2="193" y2="646.2" stroke="#000" stroke-width="0.6"/>
<line x1="191.6" y1="643.1" x2="193" y2="643.1" stroke="#000" stroke-width="0.6"/>
<line x1="191.6" y1="640" x2="193" y2="640" stroke="#000" stroke-width="0.6"/>
<line x1="191.6" y1="636.9" x2="193" y2="636.9" stroke="#000" stroke-width="0.6"/>
<line x1="191.6" y1="633.8" x2="193" y2="633.8" stroke="#000" stroke-width="0.6"/>
<line x1="191.6" y1="630.7" x2="193" y2="630.7" stroke="#000" stroke-width="0.6"/>
<line x1="191.6" y1="627.6" x2="193" y2="627.6" stroke="#000" stroke-width="0.6"/>
<line x1="191.6" y1="624.5" x2="193" y2="624.5" stroke="#000" stroke-width="0.6"/>
<line x1="191.6" y1="621.4" x2="193" y2="621.4" stroke="#000" stroke-width="0.6"/>
<line x1="191.6" y1="618.3" x2="193" y2="618.3" stroke="#000" stroke-width="0.6"/>
<line x1="191.6" y1="615.2" x2="193" y2="615.2" stroke="#000" stroke-width="0.6"/>
<line x1="191.6" y1="612.1" x2="193" y2="612.1" stroke="#000" stroke-width="0.6"/>
<line x1="191.6" y1="609" x2="193" y2="609" stroke="#000" stroke-width="0.6"/>
<line x1="191.6" y1="605.9" x2="193" y2="605.9" stroke="#000" stroke-width="0.6"/>
<line x1="191.6" y1="602.8" x2="193" y2="602.8" stroke="#000" stroke-width="0.6"/>
<line x1="191.6" y1="599.7" x2="193" y2="599.7" stroke="#000" stroke-width="0.6"/>
<line x1="191.6" y1="596.6" x2="193" y2="596.6" stroke="#000" stroke-width="0.6"/>
<line x1="191.6" y1="593.5" x2="193" y2="593.5" stroke="#000" stroke-width="0.6"/>
<line x1="191.6" y1="590.4" x2="193" y2="590.4" stroke="#000" stroke-width="0.6"/>
<text font-size="4.6" text-anchor="middle" fill="#444" transform="translate(186.5 648.2) rotate(-90)">Number</text>
<path d="M37.4 847.7 L37.4 847.7 L37.9 847.7 L38.4 847.7 L38.9 847.7 L39.4 847.7 L39.9 847.7 L40.4 847.7 L40.9 847.7 L41.4 847.7 L41.9 847.7 L42.4 847.7 L42.9 847.7 L43.4 847.7 L43.9 847.7 L44.4 847.7 L44.9 847.7 L45.4 847.7 L45.9 847.7 L46.4 847.7 L46.9 847.7 L47.4 847.7 L47.9 847.7 L48.4 847.7 L48.9 847.7 L49.4 847.7 L49.9 847.7 L50.4 847.7 L50.9 847.7 L51.4 847.7 L51.9 847.69 L52.4 847.69 L52.9 847.69 L53.4 847.69 L53.9 847.69 L54.4 847.68 L54.9 847.68 L55.4 847.67 L55.9 847.67 L56.4 847.66 L56.9 847.65 L57.4 847.64 L57.9 847.62 L58.4 847.6 L58.9 847.58 L59.4 847.55 L59.9 847.52 L60.4 847.48 L60.9 847.42 L61.4 847.36 L61.9 847.28 L62.4 847.19 L62.9 847.07 L63.4 846.93 L63.9 846.77 L64.4 846.57 L64.9 846.32 L65.4 846.04 L65.9 845.7 L66.4 845.29 L66.9 844.82 L67.4 844.26 L67.9 843.61 L68.4 842.86 L68.9 841.99 L69.4 840.98 L69.9 839.84 L70.4 838.54 L70.9 837.07 L71.4 835.41 L71.9 833.56 L72.4 831.5 L72.9 829.22 L73.4 826.72 L73.9 823.99 L74.4 821.03 L74.9 817.83 L75.4 814.41 L75.9 810.77 L76.4 806.92 L76.9 802.88 L77.4 798.68 L77.9 794.33 L78.4 789.88 L78.9 785.36 L79.4 780.8 L79.9 776.26 L80.4 771.77 L80.9 767.38 L81.4 763.15 L81.9 759.12 L82.4 755.33 L82.9 751.84 L83.4 748.68 L83.9 745.89 L84.4 743.51 L84.9 741.56 L85.4 740.05 L85.9 739.01 L86.4 738.43 L86.9 738.31 L87.4 738.65 L87.9 739.41 L88.4 740.59 L88.9 742.15 L89.4 744.05 L89.9 746.27 L90.4 748.76 L90.9 751.48 L91.4 754.39 L91.9 757.45 L92.4 760.62 L92.9 763.86 L93.4 767.13 L93.9 770.39 L94.4 773.59 L94.9 776.72 L95.4 779.73 L95.9 782.61 L96.4 785.35 L96.9 787.95 L97.4 790.36 L97.9 792.58 L98.4 794.6 L98.9 796.43 L99.4 798.07 L99.9 799.54 L100.4 800.85 L100.9 802.02 L101.4 803.06 L101.9 804 L102.4 804.85 L102.9 805.63 L103.4 806.37 L103.9 807.07 L104.4 807.76 L104.9 808.44 L105.4 809.11 L105.9 809.69 L106.4 810.22 L106.9 810.68 L107.4 811.09 L107.9 811.45 L108.4 811.78 L108.9 812.07 L109.4 812.33 L109.9 812.58 L110.4 812.8 L110.9 813 L111.4 813.19 L111.9 813.37 L112.4 813.54 L112.9 813.7 L113.4 813.86 L113.9 814.01 L114.4 814.17 L114.9 814.32 L115.4 814.47 L115.9 814.63 L116.4 814.79 L116.9 814.95 L117.4 815.11 L117.9 815.29 L118.4 815.47 L118.9 815.66 L119.4 815.85 L119.9 816.06 L120.4 816.28 L120.9 816.51 L121.4 816.75 L121.9 817.01 L122.4 817.27 L122.9 817.56 L123.4 817.85 L123.9 818.17 L124.4 818.5 L124.9 818.84 L125.4 819.2 L125.9 819.58 L126.4 819.97 L126.9 820.38 L127.4 820.8 L127.9 821.24 L128.4 821.69 L128.9 822.16 L129.4 822.64 L129.9 823.14 L130.4 823.65 L130.9 824.16 L131.4 824.69 L131.9 825.23 L132.4 825.77 L132.9 826.32 L133.4 826.88 L133.9 827.44 L134.4 828 L134.9 828.56 L135.4 829.13 L135.9 829.69 L136.4 830.24 L136.9 830.8 L137.4 831.35 L137.9 831.89 L138.4 832.42 L138.9 832.95 L139.4 833.69 L139.9 834.41 L140.4 835.12 L140.9 835.82 L141.4 836.5 L141.9 837.16 L142.4 837.81 L142.9 838.43 L143.4 839.04 L143.9 839.63 L144.4 840.2 L144.9 840.76 L145.4 841.29 L145.9 841.81 L146.4 842.31 L146.9 842.79 L147.4 843.25 L147.9 843.69 L148.4 844.12 L148.9 844.53 L149.4 844.93 L149.9 845.31 L150.4 845.67 L150.9 846.03 L151.4 846.17 L151.9 846.31 L152.4 846.43 L152.9 846.55 L153.4 846.66 L153.9 846.76 L154.4 846.85 L154.9 846.93 L154.9 847.7Z" fill="#fff" stroke="#000" stroke-width="0.9"/>
<path d="M37.4 847.7 L37.4 847.7 L37.9 847.7 L38.4 847.7 L38.9 847.7 L39.4 847.7 L39.9 847.7 L40.4 847.7 L40.9 847.7 L41.4 847.7 L41.9 847.7 L42.4 847.7 L42.9 847.7 L43.4 847.7 L43.9 847.7 L44.4 847.7 L44.9 847.7 L45.4 847.7 L45.9 847.7 L46.4 847.7 L46.9 847.7 L47.4 847.7 L47.9 847.7 L48.4 847.7 L48.9 847.7 L49.4 847.7 L49.9 847.7 L50.4 847.7 L50.9 847.7 L51.4 847.7 L51.9 847.7 L52.4 847.7 L52.9 847.7 L53.4 847.7 L53.9 847.7 L54.4 847.7 L54.9 847.7 L55.4 847.69 L55.9 847.69 L56.4 847.69 L56.9 847.68 L57.4 847.68 L57.9 847.67 L58.4 847.66 L58.9 847.65 L59.4 847.64 L59.9 847.62 L60.4 847.59 L60.9 847.56 L61.4 847.52 L61.9 847.47 L62.4 847.4 L62.9 847.32 L63.4 847.22 L63.9 847.1 L64.4 846.95 L64.9 846.77 L65.4 846.54 L65.9 846.27 L66.4 845.95 L66.9 845.56 L67.4 845.1 L67.9 844.56 L68.4 843.92 L68.9 843.18 L69.4 842.32 L69.9 841.33 L70.4 840.2 L70.9 838.91 L71.4 837.45 L71.9 835.81 L72.4 833.98 L72.9 831.94 L73.4 829.7 L73.9 827.24 L74.4 824.56 L74.9 821.67 L75.4 818.56 L75.9 815.25 L76.4 811.75 L76.9 808.07 L77.4 804.23 L77.9 800.27 L78.4 796.21 L78.9 792.08 L79.4 787.93 L79.9 783.8 L80.4 779.73 L80.9 775.77 L81.4 771.97 L81.9 768.37 L82.4 765.03 L82.9 761.98 L83.4 759.27 L83.9 756.93 L84.4 755.02 L84.9 753.54 L85.4 752.52 L85.9 751.99 L86.4 751.94 L86.9 752.38 L87.4 753.3 L87.9 754.68 L88.4 756.52 L88.9 758.77 L89.4 761.4 L89.9 764.39 L90.4 767.68 L90.9 771.23 L91.4 775 L91.9 778.93 L92.4 782.98 L92.9 787.11 L93.4 791.25 L93.9 795.39 L94.4 799.46 L94.9 803.45 L95.4 807.31 L95.9 811.02 L96.4 814.56 L96.9 817.92 L97.4 821.06 L97.9 824 L98.4 826.72 L98.9 829.22 L99.4 831.51 L99.9 833.59 L100.4 835.46 L100.9 837.14 L101.4 838.63 L101.9 839.95 L102.4 841.12 L102.9 842.14 L103.4 843.02 L103.9 843.78 L104.4 844.44 L104.9 845 L105.4 845.47 L105.9 845.87 L106.4 846.21 L106.9 846.49 L107.4 846.72 L107.9 846.92 L108.4 847.07 L108.9 847.2 L109.4 847.31 L109.9 847.39 L110.4 847.46 L110.9 847.51 L111.4 847.55 L111.9 847.59 L112.4 847.61 L112.9 847.63 L113.4 847.65 L113.9 847.66 L114.4 847.67 L114.9 847.68 L115.4 847.68 L115.9 847.69 L116.4 847.69 L116.9 847.69 L117.4 847.7 L117.9 847.7 L118.4 847.7 L118.9 847.7 L119.4 847.7 L119.9 847.7 L120.4 847.7 L120.9 847.7 L121.4 847.7 L121.9 847.7 L122.4 847.7 L122.9 847.7 L123.4 847.7 L123.9 847.7 L124.4 847.7 L124.9 847.7 L125.4 847.7 L125.9 847.7 L126.4 847.7 L126.9 847.7 L127.4 847.7 L127.9 847.7 L128.4 847.7 L128.9 847.7 L129.4 847.7 L129.9 847.7 L130.4 847.7 L130.9 847.7 L131.4 847.7 L131.9 847.7 L132.4 847.7 L132.9 847.7 L133.4 847.7 L133.9 847.7 L134.4 847.7 L134.9 847.7 L135.4 847.7 L135.9 847.7 L136.4 847.7 L136.9 847.7 L137.4 847.7 L137.9 847.7 L138.4 847.7 L138.9 847.7 L139.4 847.7 L139.9 847.7 L140.4 847.7 L140.9 847.7 L141.4 847.7 L141.9 847.7 L142.4 847.7 L142.9 847.7 L143.4 847.7 L143.9 847.7 L144.4 847.7 L144.9 847.7 L145.4 847.7 L145.9 847.7 L146.4 847.7 L146.9 847.7 L147.4 847.7 L147.9 847.7 L148.4 847.7 L148.9 847.7 L149.4 847.7 L149.9 847.7 L150.4 847.7 L150.9 847.7 L151.4 847.7 L151.9 847.7 L152.4 847.7 L152.9 847.7 L153.4 847.7 L153.9 847.7 L154.4 847.7 L154.9 847.7 L154.9 847.7Z" fill="#2e2e2e" stroke="#000" stroke-width="0.6"/>
<path d="M37.4 847.7 L37.4 847.7 L37.9 847.7 L38.4 847.7 L38.9 847.7 L39.4 847.7 L39.9 847.7 L40.4 847.7 L40.9 847.7 L41.4 847.7 L41.9 847.7 L42.4 847.7 L42.9 847.7 L43.4 847.7 L43.9 847.7 L44.4 847.7 L44.9 847.7 L45.4 847.7 L45.9 847.7 L46.4 847.7 L46.9 847.7 L47.4 847.7 L47.9 847.7 L48.4 847.7 L48.9 847.7 L49.4 847.7 L49.9 847.7 L50.4 847.7 L50.9 847.7 L51.4 847.7 L51.9 847.7 L52.4 847.7 L52.9 847.7 L53.4 847.7 L53.9 847.7 L54.4 847.7 L54.9 847.7 L55.4 847.7 L55.9 847.7 L56.4 847.7 L56.9 847.7 L57.4 847.7 L57.9 847.7 L58.4 847.7 L58.9 847.7 L59.4 847.7 L59.9 847.7 L60.4 847.7 L60.9 847.7 L61.4 847.7 L61.9 847.7 L62.4 847.7 L62.9 847.7 L63.4 847.7 L63.9 847.7 L64.4 847.7 L64.9 847.7 L65.4 847.7 L65.9 847.7 L66.4 847.7 L66.9 847.7 L67.4 847.7 L67.9 847.7 L68.4 847.7 L68.9 847.7 L69.4 847.7 L69.9 847.7 L70.4 847.7 L70.9 847.7 L71.4 847.7 L71.9 847.7 L72.4 847.7 L72.9 847.7 L73.4 847.7 L73.9 847.7 L74.4 847.7 L74.9 847.7 L75.4 847.7 L75.9 847.7 L76.4 847.69 L76.9 847.69 L77.4 847.69 L77.9 847.68 L78.4 847.68 L78.9 847.67 L79.4 847.67 L79.9 847.66 L80.4 847.64 L80.9 847.63 L81.4 847.61 L81.9 847.59 L82.4 847.56 L82.9 847.52 L83.4 847.48 L83.9 847.43 L84.4 847.36 L84.9 847.29 L85.4 847.2 L85.9 847.09 L86.4 846.96 L86.9 846.82 L87.4 846.64 L87.9 846.44 L88.4 846.21 L88.9 845.95 L89.4 845.65 L89.9 845.31 L90.4 844.92 L90.9 844.5 L91.4 844.02 L91.9 843.49 L92.4 842.92 L92.9 842.29 L93.4 841.61 L93.9 840.87 L94.4 840.09 L94.9 839.26 L95.4 838.39 L95.9 837.48 L96.4 836.53 L96.9 835.56 L97.4 834.57 L97.9 833.57 L98.4 832.56 L98.9 831.57 L99.4 830.6 L99.9 829.66 L100.4 828.76 L100.9 827.92 L101.4 827.14 L101.9 826.44 L102.4 825.83 L102.9 825.31 L103.4 824.89 L103.9 824.58 L104.4 824.38 L104.9 824.3 L105.4 824.31 L105.9 824.33 L106.4 824.38 L106.9 824.45 L107.4 824.53 L107.9 824.64 L108.4 824.76 L108.9 824.91 L109.4 825.07 L109.9 825.26 L110.4 825.46 L110.9 825.67 L111.4 825.91 L111.9 826.16 L112.4 826.42 L112.9 826.7 L113.4 827 L113.9 827.31 L114.4 827.63 L114.9 827.96 L115.4 828.31 L115.9 828.66 L116.4 829.03 L116.9 829.4 L117.4 829.78 L117.9 830.17 L118.4 830.57 L118.9 830.97 L119.4 831.37 L119.9 831.78 L120.4 832.2 L120.9 832.61 L121.4 833.03 L121.9 833.45 L122.4 833.87 L122.9 834.28 L123.4 834.7 L123.9 835.11 L124.4 835.53 L124.9 835.93 L125.4 836.34 L125.9 836.74 L126.4 837.13 L126.9 837.52 L127.4 837.91 L127.9 838.29 L128.4 838.66 L128.9 839.02 L129.4 839.38 L129.9 839.72 L130.4 840.07 L130.9 840.4 L131.4 840.72 L131.9 841.04 L132.4 841.34 L132.9 841.64 L133.4 841.93 L133.9 842.21 L134.4 842.48 L134.9 842.74 L135.4 843 L135.9 843.24 L136.4 843.48 L136.9 843.7 L137.4 843.92 L137.9 844.13 L138.4 844.33 L138.9 844.52 L139.4 844.7 L139.9 844.88 L140.4 845.04 L140.9 845.2 L141.4 845.35 L141.9 845.5 L142.4 845.64 L142.9 845.77 L143.4 845.89 L143.9 846.01 L144.4 846.12 L144.9 846.22 L145.4 846.32 L145.9 846.42 L146.4 846.51 L146.9 846.59 L147.4 846.67 L147.9 846.74 L148.4 846.81 L148.9 846.88 L149.4 846.94 L149.9 846.99 L150.4 847.05 L150.9 847.1 L151.4 847.14 L151.9 847.19 L152.4 847.23 L152.9 847.26 L153.4 847.3 L153.9 847.33 L154.4 847.36 L154.9 847.39 L154.9 847.7Z" fill="url(#hatch)" stroke="#000" stroke-width="0.8"/>
<path d="M37.4 847.7 L37.4 847.7 L37.9 847.7 L38.4 847.7 L38.9 847.7 L39.4 847.7 L39.9 847.7 L40.4 847.7 L40.9 847.7 L41.4 847.7 L41.9 847.7 L42.4 847.7 L42.9 847.7 L43.4 847.7 L43.9 847.7 L44.4 847.7 L44.9 847.7 L45.4 847.7 L45.9 847.7 L46.4 847.7 L46.9 847.7 L47.4 847.7 L47.9 847.7 L48.4 847.7 L48.9 847.7 L49.4 847.7 L49.9 847.7 L50.4 847.7 L50.9 847.7 L51.4 847.7 L51.9 847.7 L52.4 847.7 L52.9 847.7 L53.4 847.7 L53.9 847.7 L54.4 847.7 L54.9 847.7 L55.4 847.7 L55.9 847.7 L56.4 847.7 L56.9 847.7 L57.4 847.7 L57.9 847.7 L58.4 847.7 L58.9 847.7 L59.4 847.7 L59.9 847.7 L60.4 847.7 L60.9 847.7 L61.4 847.7 L61.9 847.7 L62.4 847.7 L62.9 847.7 L63.4 847.7 L63.9 847.7 L64.4 847.7 L64.9 847.7 L65.4 847.7 L65.9 847.7 L66.4 847.7 L66.9 847.7 L67.4 847.7 L67.9 847.7 L68.4 847.7 L68.9 847.7 L69.4 847.7 L69.9 847.7 L70.4 847.7 L70.9 847.7 L71.4 847.7 L71.9 847.7 L72.4 847.7 L72.9 847.7 L73.4 847.7 L73.9 847.7 L74.4 847.7 L74.9 847.7 L75.4 847.7 L75.9 847.7 L76.4 847.7 L76.9 847.7 L77.4 847.7 L77.9 847.7 L78.4 847.7 L78.9 847.7 L79.4 847.7 L79.9 847.7 L80.4 847.7 L80.9 847.7 L81.4 847.7 L81.9 847.7 L82.4 847.7 L82.9 847.7 L83.4 847.7 L83.9 847.7 L84.4 847.69 L84.9 847.69 L85.4 847.69 L85.9 847.69 L86.4 847.69 L86.9 847.69 L87.4 847.69 L87.9 847.68 L88.4 847.68 L88.9 847.68 L89.4 847.67 L89.9 847.67 L90.4 847.66 L90.9 847.66 L91.4 847.65 L91.9 847.64 L92.4 847.63 L92.9 847.62 L93.4 847.61 L93.9 847.59 L94.4 847.58 L94.9 847.56 L95.4 847.54 L95.9 847.52 L96.4 847.49 L96.9 847.47 L97.4 847.43 L97.9 847.4 L98.4 847.36 L98.9 847.32 L99.4 847.27 L99.9 847.22 L100.4 847.16 L100.9 847.1 L101.4 847.03 L101.9 846.96 L102.4 846.87 L102.9 846.79 L103.4 846.69 L103.9 846.59 L104.4 846.47 L104.9 846.35 L105.4 846.23 L105.9 846.09 L106.4 845.94 L106.9 845.78 L107.4 845.62 L107.9 845.44 L108.4 845.25 L108.9 845.06 L109.4 844.85 L109.9 844.64 L110.4 844.41 L110.9 844.18 L111.4 843.94 L111.9 843.68 L112.4 843.42 L112.9 843.16 L113.4 842.88 L113.9 842.6 L114.4 842.32 L114.9 842.03 L115.4 841.74 L115.9 841.45 L116.4 841.15 L116.9 840.86 L117.4 840.56 L117.9 840.27 L118.4 839.99 L118.9 839.71 L119.4 839.43 L119.9 839.17 L120.4 838.91 L120.9 838.67 L121.4 838.43 L121.9 838.21 L122.4 838.01 L122.9 837.82 L123.4 837.65 L123.9 837.5 L124.4 837.37 L124.9 837.25 L125.4 837.16 L125.9 837.09 L126.4 837.04 L126.9 837.01 L127.4 837 L127.9 837.02 L128.4 837.05 L128.9 837.11 L129.4 837.19 L129.9 837.29 L130.4 837.42 L130.9 837.56 L131.4 837.72 L131.9 837.9 L132.4 838.09 L132.9 838.3 L133.4 838.52 L133.9 838.76 L134.4 839.01 L134.9 839.27 L135.4 839.54 L135.9 839.82 L136.4 840.1 L136.9 840.39 L137.4 840.68 L137.9 840.97 L138.4 841.27 L138.9 841.56 L139.4 841.86 L139.9 842.15 L140.4 842.43 L140.9 842.72 L141.4 842.99 L141.9 843.27 L142.4 843.53 L142.9 843.79 L143.4 844.03 L143.9 844.27 L144.4 844.5 L144.9 844.73 L145.4 844.94 L145.9 845.14 L146.4 845.33 L146.9 845.51 L147.4 845.68 L147.9 845.85 L148.4 846 L148.9 846.14 L149.4 846.28 L149.9 846.4 L150.4 846.52 L150.9 846.63 L151.4 846.73 L151.9 846.82 L152.4 846.91 L152.9 846.99 L153.4 847.06 L153.9 847.13 L154.4 847.19 L154.9 847.24 L154.9 847.7Z" fill="url(#hatchd)" stroke="#000" stroke-width="0.6"/>
<polyline points="37.4,846.63 38.15,845.82 38.9,847.35 39.65,846.01 40.4,846.88 41.15,846.88 41.9,845.37 42.65,846.59 43.4,846.73 44.15,846.19 44.9,845.91 45.65,846.72 46.4,846.29 47.15,847.38 47.9,846.96 48.65,847.01 49.4,847.63 50.15,847.7 50.9,847.7 51.65,846.86 52.4,846.81 53.15,846.91 53.9,846.64 54.65,847.62 55.4,846.73 56.15,846.5 56.9,846.12 57.65,847.23 58.4,846.89 59.15,847.7 59.9,846.88 60.65,847.7 61.4,847.39 62.15,845.43 62.9,847.7 63.65,845.25 64.4,845.31 65.15,845.44 65.9,844.31 66.65,843.59 67.4,842.26 68.15,842.49 68.9,841.65 69.65,840.18 70.4,838.91 71.15,835.33 71.9,833.94 72.65,827.26 73.4,829.97 74.15,824.37 74.9,819.63 75.65,818.59 76.4,798.77 77.15,809.95 77.9,794.66 78.65,789.36 79.4,770.34 80.15,785.37 80.9,759.18 81.65,760.37 82.4,750.51 83.15,754.59 83.9,739.55 84.65,751.25 85.4,739.74 86.15,734.52 86.9,727.31 87.65,751.98 88.4,729.59 89.15,733.96 89.9,749.29 90.65,746.64 91.4,756.98 92.15,748.02 92.9,761.4 93.65,763.19 94.4,768.02 95.15,778.42 95.9,782.59 96.65,790.31 97.4,779.36 98.15,801.7 98.9,809.43 99.65,798.37 100.4,800.47 101.15,800.03 101.9,803.81 102.65,804.82 103.4,804.1 104.15,802.81 104.9,809.07 105.65,809.74 106.4,802.4 107.15,808.05 107.9,813.82 108.65,803.07 109.4,808.73 110.15,813.65 110.9,815.88 111.65,811.3 112.4,815.25 113.15,816.21 113.9,817.2 114.65,814.87 115.4,809.94 116.15,815.08 116.9,818.52 117.65,812.1 118.4,814.26 119.15,812.14 119.9,811.37 120.65,815.91 121.4,816.19 122.15,816.27 122.9,819.92 123.65,815.05 124.4,813.53 125.15,817.52 125.9,819.24 126.65,819.89 127.4,821.92 128.15,822.61 128.9,822.21 129.65,824.05 130.4,823.74 131.15,827.28 131.9,823.39 132.65,824.93 133.4,828.48 134.15,831.77 134.9,827.58 135.65,826.12 136.4,830.72 137.15,831.01 137.9,831.96 138.65,830.49 139.4,834.29 140.15,832.13 140.9,835.3 141.65,834.43 142.4,836.76 143.15,838.06 143.9,840.56 144.65,840.33 145.4,840.6 146.15,840.32 146.9,841.52 147.65,843.18 148.4,842.73 149.15,842.82 149.9,844.44 150.65,845.22 151.4,845.49 152.15,844.72 152.9,845.13 153.65,846.43 154.4,845.56" fill="none" stroke="#000" stroke-width="1.0"/>
<polyline points="37.4,846.04 38.15,846.23 38.9,844.83 39.65,845.13 40.4,846.21 41.15,845.64 41.9,845.35 42.65,846.15 43.4,845.78 44.15,845.23 44.9,846.95 45.65,845.47 46.4,845.18 47.15,845.35 47.9,846.64 48.65,845.48 49.4,846.3 50.15,845.3 50.9,845.27 51.65,845.54 52.4,846.23 53.15,846.1 53.9,845.09 54.65,846.31 55.4,845.33 56.15,845.3 56.9,845.85 57.65,843.94 58.4,845.56 59.15,844.05 59.9,846.96 60.65,847.06 61.4,844.65 62.15,844.77 62.9,845.31 63.65,844.9 64.4,846.06 65.15,844.7 65.9,844.57 66.65,843.26 67.4,841.41 68.15,841.19 68.9,839.57 69.65,839.3 70.4,837.14 71.15,834.09 71.9,832.06 72.65,825.86 73.4,826.71 74.15,815.65 74.9,818.72 75.65,807.08 76.4,807.82 77.15,791.84 77.9,791.69 78.65,783.55 79.4,774.55 80.15,775.96 80.9,772.39 81.65,770.11 82.4,741.02 83.15,753.79 83.9,748.83 84.65,740.74 85.4,728.05 86.15,750.66 86.9,734.09 87.65,740.48 88.4,733.95 89.15,755.06 89.9,747.57 90.65,741.35 91.4,742.39 92.15,747.02 92.9,767.83 93.65,762.8 94.4,768.68 95.15,784.38 95.9,788.65 96.65,780.68 97.4,787.13 98.15,792.29 98.9,788.9 99.65,801.2 100.4,796.64 101.15,800.52 101.9,802.23 102.65,801.34 103.4,803.7 104.15,804.42 104.9,805.47 105.65,800.49 106.4,809.31 107.15,805.38 107.9,807.37 108.65,811.11 109.4,807.67 110.15,813.54 110.9,807.17 111.65,813.94 112.4,813.14 113.15,810.73 113.9,809.33 114.65,809.33 115.4,809.62 116.15,813.36 116.9,815.96 117.65,811.48 118.4,812.53 119.15,816.7 119.9,811.07 120.65,813.79 121.4,817.64 122.15,813.82 122.9,819.48 123.65,818.58 124.4,815.33 125.15,821.46 125.9,817.47 126.65,821.91 127.4,816.8 128.15,821.41 128.9,819.68 129.65,824.74 130.4,822.51 131.15,820.11 131.9,822.14 132.65,828.32 133.4,822.79 134.15,823.76 134.9,827.37 135.65,824.47 136.4,830.37 137.15,829.24 137.9,827.79 138.65,828.29 139.4,829.45 140.15,834.6 140.9,836.65 141.65,834.24 142.4,837.87 143.15,836.92 143.9,839.3 144.65,837.16 145.4,838.34 146.15,839.43 146.9,840.77 147.65,841.43 148.4,842.41 149.15,842.38 149.9,843.09 150.65,843.47 151.4,844.52 152.15,842.85 152.9,844.33 153.65,843.63 154.4,843.83" fill="none" stroke="#1a1a1a" stroke-width="0.8"/>
<line x1="37.4" y1="727.7" x2="37.4" y2="847.7" stroke="#000" stroke-width="1"/>
<line x1="37.4" y1="847.7" x2="154.9" y2="847.7" stroke="#000" stroke-width="1"/>
<line x1="37.4" y1="847.7" x2="37.4" y2="849.9" stroke="#000" stroke-width="0.8"/>
<text x="37.4" y="855.2" font-size="4.4" text-anchor="middle" fill="#444">0</text>
<line x1="60.9" y1="847.7" x2="60.9" y2="849.9" stroke="#000" stroke-width="0.8"/>
<text x="60.9" y="855.2" font-size="4.4" text-anchor="middle" fill="#444">50</text>
<line x1="84.4" y1="847.7" x2="84.4" y2="849.9" stroke="#000" stroke-width="0.8"/>
<text x="84.4" y="855.2" font-size="4.4" text-anchor="middle" fill="#444">100</text>
<line x1="107.9" y1="847.7" x2="107.9" y2="849.9" stroke="#000" stroke-width="0.8"/>
<text x="107.9" y="855.2" font-size="4.4" text-anchor="middle" fill="#444">150</text>
<line x1="131.4" y1="847.7" x2="131.4" y2="849.9" stroke="#000" stroke-width="0.8"/>
<text x="131.4" y="855.2" font-size="4.4" text-anchor="middle" fill="#444">200</text>
<line x1="154.9" y1="847.7" x2="154.9" y2="849.9" stroke="#000" stroke-width="0.8"/>
<text x="154.9" y="855.2" font-size="4.4" text-anchor="middle" fill="#444">250</text>
<line x1="37.4" y1="847.7" x2="37.4" y2="848.9" stroke="#000" stroke-width="0.5"/>
<line x1="42.1" y1="847.7" x2="42.1" y2="848.9" stroke="#000" stroke-width="0.5"/>
<line x1="46.8" y1="847.7" x2="46.8" y2="848.9" stroke="#000" stroke-width="0.5"/>
<line x1="51.5" y1="847.7" x2="51.5" y2="848.9" stroke="#000" stroke-width="0.5"/>
<line x1="56.2" y1="847.7" x2="56.2" y2="848.9" stroke="#000" stroke-width="0.5"/>
<line x1="60.9" y1="847.7" x2="60.9" y2="848.9" stroke="#000" stroke-width="0.5"/>
<line x1="65.6" y1="847.7" x2="65.6" y2="848.9" stroke="#000" stroke-width="0.5"/>
<line x1="70.3" y1="847.7" x2="70.3" y2="848.9" stroke="#000" stroke-width="0.5"/>
<line x1="75" y1="847.7" x2="75" y2="848.9" stroke="#000" stroke-width="0.5"/>
<line x1="79.7" y1="847.7" x2="79.7" y2="848.9" stroke="#000" stroke-width="0.5"/>
<line x1="84.4" y1="847.7" x2="84.4" y2="848.9" stroke="#000" stroke-width="0.5"/>
<line x1="89.1" y1="847.7" x2="89.1" y2="848.9" stroke="#000" stroke-width="0.5"/>
<line x1="93.8" y1="847.7" x2="93.8" y2="848.9" stroke="#000" stroke-width="0.5"/>
<line x1="98.5" y1="847.7" x2="98.5" y2="848.9" stroke="#000" stroke-width="0.5"/>
<line x1="103.2" y1="847.7" x2="103.2" y2="848.9" stroke="#000" stroke-width="0.5"/>
<line x1="107.9" y1="847.7" x2="107.9" y2="848.9" stroke="#000" stroke-width="0.5"/>
<line x1="112.6" y1="847.7" x2="112.6" y2="848.9" stroke="#000" stroke-width="0.5"/>
<line x1="117.3" y1="847.7" x2="117.3" y2="848.9" stroke="#000" stroke-width="0.5"/>
<line x1="122" y1="847.7" x2="122" y2="848.9" stroke="#000" stroke-width="0.5"/>
<line x1="126.7" y1="847.7" x2="126.7" y2="848.9" stroke="#000" stroke-width="0.5"/>
<line x1="131.4" y1="847.7" x2="131.4" y2="848.9" stroke="#000" stroke-width="0.5"/>
<line x1="136.1" y1="847.7" x2="136.1" y2="848.9" stroke="#000" stroke-width="0.5"/>
<line x1="140.8" y1="847.7" x2="140.8" y2="848.9" stroke="#000" stroke-width="0.5"/>
<line x1="145.5" y1="847.7" x2="145.5" y2="848.9" stroke="#000" stroke-width="0.5"/>
<line x1="150.2" y1="847.7" x2="150.2" y2="848.9" stroke="#000" stroke-width="0.5"/>
<line x1="154.9" y1="847.7" x2="154.9" y2="848.9" stroke="#000" stroke-width="0.5"/>
<line x1="35.2" y1="847.7" x2="37.4" y2="847.7" stroke="#000" stroke-width="0.8"/>
<text font-size="4.4" text-anchor="middle" fill="#444" transform="translate(33.4 847.7) rotate(-90)">0</text>
<line x1="35.2" y1="822.9" x2="37.4" y2="822.9" stroke="#000" stroke-width="0.8"/>
<text font-size="4.4" text-anchor="middle" fill="#444" transform="translate(33.4 822.9) rotate(-90)">20</text>
<line x1="35.2" y1="798.1" x2="37.4" y2="798.1" stroke="#000" stroke-width="0.8"/>
<text font-size="4.4" text-anchor="middle" fill="#444" transform="translate(33.4 798.1) rotate(-90)">40</text>
<line x1="35.2" y1="773.3" x2="37.4" y2="773.3" stroke="#000" stroke-width="0.8"/>
<text font-size="4.4" text-anchor="middle" fill="#444" transform="translate(33.4 773.3) rotate(-90)">60</text>
<line x1="35.2" y1="748.5" x2="37.4" y2="748.5" stroke="#000" stroke-width="0.8"/>
<text font-size="4.4" text-anchor="middle" fill="#444" transform="translate(33.4 748.5) rotate(-90)">80</text>
<line x1="36" y1="847.7" x2="37.4" y2="847.7" stroke="#000" stroke-width="0.6"/>
<line x1="36" y1="844.6" x2="37.4" y2="844.6" stroke="#000" stroke-width="0.6"/>
<line x1="36" y1="841.5" x2="37.4" y2="841.5" stroke="#000" stroke-width="0.6"/>
<line x1="36" y1="838.4" x2="37.4" y2="838.4" stroke="#000" stroke-width="0.6"/>
<line x1="36" y1="835.3" x2="37.4" y2="835.3" stroke="#000" stroke-width="0.6"/>
<line x1="36" y1="832.2" x2="37.4" y2="832.2" stroke="#000" stroke-width="0.6"/>
<line x1="36" y1="829.1" x2="37.4" y2="829.1" stroke="#000" stroke-width="0.6"/>
<line x1="36" y1="826" x2="37.4" y2="826" stroke="#000" stroke-width="0.6"/>
<line x1="36" y1="822.9" x2="37.4" y2="822.9" stroke="#000" stroke-width="0.6"/>
<line x1="36" y1="819.8" x2="37.4" y2="819.8" stroke="#000" stroke-width="0.6"/>
<line x1="36" y1="816.7" x2="37.4" y2="816.7" stroke="#000" stroke-width="0.6"/>
<line x1="36" y1="813.6" x2="37.4" y2="813.6" stroke="#000" stroke-width="0.6"/>
<line x1="36" y1="810.5" x2="37.4" y2="810.5" stroke="#000" stroke-width="0.6"/>
<line x1="36" y1="807.4" x2="37.4" y2="807.4" stroke="#000" stroke-width="0.6"/>
<line x1="36" y1="804.3" x2="37.4" y2="804.3" stroke="#000" stroke-width="0.6"/>
<line x1="36" y1="801.2" x2="37.4" y2="801.2" stroke="#000" stroke-width="0.6"/>
<line x1="36" y1="798.1" x2="37.4" y2="798.1" stroke="#000" stroke-width="0.6"/>
<line x1="36" y1="795" x2="37.4" y2="795" stroke="#000" stroke-width="0.6"/>
<line x1="36" y1="791.9" x2="37.4" y2="791.9" stroke="#000" stroke-width="0.6"/>
<line x1="36" y1="788.8" x2="37.4" y2="788.8" stroke="#000" stroke-width="0.6"/>
<line x1="36" y1="785.7" x2="37.4" y2="785.7" stroke="#000" stroke-width="0.6"/>
<line x1="36" y1="782.6" x2="37.4" y2="782.6" stroke="#000" stroke-width="0.6"/>
<line x1="36" y1="779.5" x2="37.4" y2="779.5" stroke="#000" stroke-width="0.6"/>
<line x1="36" y1="776.4" x2="37.4" y2="776.4" stroke="#000" stroke-width="0.6"/>
<line x1="36" y1="773.3" x2="37.4" y2="773.3" stroke="#000" stroke-width="0.6"/>
<line x1="36" y1="770.2" x2="37.4" y2="770.2" stroke="#000" stroke-width="0.6"/>
<line x1="36" y1="767.1" x2="37.4" y2="767.1" stroke="#000" stroke-width="0.6"/>
<line x1="36" y1="764" x2="37.4" y2="764" stroke="#000" stroke-width="0.6"/>
<line x1="36" y1="760.9" x2="37.4" y2="760.9" stroke="#000" stroke-width="0.6"/>
<line x1="36" y1="757.8" x2="37.4" y2="757.8" stroke="#000" stroke-width="0.6"/>
<line x1="36" y1="754.7" x2="37.4" y2="754.7" stroke="#000" stroke-width="0.6"/>
<line x1="36" y1="751.6" x2="37.4" y2="751.6" stroke="#000" stroke-width="0.6"/>
<line x1="36" y1="748.5" x2="37.4" y2="748.5" stroke="#000" stroke-width="0.6"/>
<line x1="36" y1="745.4" x2="37.4" y2="745.4" stroke="#000" stroke-width="0.6"/>
<line x1="36" y1="742.3" x2="37.4" y2="742.3" stroke="#000" stroke-width="0.6"/>
<line x1="36" y1="739.2" x2="37.4" y2="739.2" stroke="#000" stroke-width="0.6"/>
<line x1="36" y1="736.1" x2="37.4" y2="736.1" stroke="#000" stroke-width="0.6"/>
<line x1="36" y1="733" x2="37.4" y2="733" stroke="#000" stroke-width="0.6"/>
<text font-size="4.6" text-anchor="middle" fill="#444" transform="translate(30.9 787.7) rotate(-90)">Number</text>
<path d="M194.8 847.2 L194.8 847.2 L195.3 847.2 L195.8 847.2 L196.3 847.2 L196.8 847.2 L197.3 847.2 L197.8 847.2 L198.3 847.2 L198.8 847.2 L199.3 847.2 L199.8 847.2 L200.3 847.2 L200.8 847.2 L201.3 847.2 L201.8 847.2 L202.3 847.2 L202.8 847.2 L203.3 847.2 L203.8 847.2 L204.3 847.2 L204.8 847.2 L205.3 847.2 L205.8 847.2 L206.3 847.2 L206.8 847.2 L207.3 847.2 L207.8 847.2 L208.3 847.2 L208.8 847.2 L209.3 847.2 L209.8 847.2 L210.3 847.19 L210.8 847.19 L211.3 847.19 L211.8 847.19 L212.3 847.19 L212.8 847.18 L213.3 847.18 L213.8 847.17 L214.3 847.17 L214.8 847.16 L215.3 847.15 L215.8 847.14 L216.3 847.12 L216.8 847.1 L217.3 847.08 L217.8 847.05 L218.3 847.02 L218.8 846.97 L219.3 846.92 L219.8 846.85 L220.3 846.77 L220.8 846.67 L221.3 846.55 L221.8 846.4 L222.3 846.22 L222.8 846.01 L223.3 845.75 L223.8 845.45 L224.3 845.09 L224.8 844.66 L225.3 844.15 L225.8 843.56 L226.3 842.87 L226.8 842.08 L227.3 841.16 L227.8 840.11 L228.3 838.91 L228.8 837.55 L229.3 836.02 L229.8 834.31 L230.3 832.4 L230.8 830.29 L231.3 827.97 L231.8 825.44 L232.3 822.69 L232.8 819.73 L233.3 816.57 L233.8 813.2 L234.3 809.66 L234.8 805.95 L235.3 802.09 L235.8 798.12 L236.3 794.07 L236.8 789.97 L237.3 785.85 L237.8 781.77 L238.3 777.75 L238.8 773.85 L239.3 770.1 L239.8 766.56 L240.3 763.25 L240.8 760.22 L241.3 757.5 L241.8 755.12 L242.3 753.1 L242.8 751.45 L243.3 750.19 L243.8 749.33 L244.3 748.84 L244.8 748.74 L245.3 748.99 L245.8 749.58 L246.3 750.49 L246.8 751.68 L247.3 753.12 L247.8 754.79 L248.3 756.64 L248.8 758.66 L249.3 760.79 L249.8 763.02 L250.3 765.32 L250.8 767.66 L251.3 770.01 L251.8 772.36 L252.3 774.68 L252.8 776.96 L253.3 779.2 L253.8 781.4 L254.3 783.56 L254.8 785.66 L255.3 787.7 L255.8 789.69 L256.3 791.62 L256.8 793.51 L257.3 795.37 L257.8 797.18 L258.3 798.84 L258.8 800.36 L259.3 801.75 L259.8 803.01 L260.3 804.16 L260.8 805.2 L261.3 806.16 L261.8 807.03 L262.3 807.83 L262.8 808.56 L263.3 809.23 L263.8 809.86 L264.3 810.44 L264.8 810.98 L265.3 811.49 L265.8 811.98 L266.3 812.44 L266.8 812.88 L267.3 813.31 L267.8 813.72 L268.3 814.12 L268.8 814.5 L269.3 814.89 L269.8 815.26 L270.3 815.63 L270.8 815.99 L271.3 816.35 L271.8 816.71 L272.3 817.07 L272.8 817.43 L273.3 817.78 L273.8 818.14 L274.3 818.5 L274.8 818.86 L275.3 819.23 L275.8 819.6 L276.3 819.97 L276.8 820.34 L277.3 820.73 L277.8 821.11 L278.3 821.51 L278.8 821.91 L279.3 822.31 L279.8 822.73 L280.3 823.15 L280.8 823.58 L281.3 824.01 L281.8 824.45 L282.3 824.91 L282.8 825.36 L283.3 825.83 L283.8 826.3 L284.3 826.78 L284.8 827.26 L285.3 827.75 L285.8 828.25 L286.3 828.74 L286.8 829.24 L287.3 829.75 L287.8 830.25 L288.3 830.75 L288.8 831.26 L289.3 831.76 L289.8 832.26 L290.3 832.76 L290.8 833.25 L291.3 833.74 L291.8 834.35 L292.3 834.95 L292.8 835.54 L293.3 836.12 L293.8 836.69 L294.3 837.25 L294.8 837.79 L295.3 838.32 L295.8 838.84 L296.3 839.34 L296.8 839.83 L297.3 840.3 L297.8 840.76 L298.3 841.2 L298.8 841.63 L299.3 842.04 L299.8 842.43 L300.3 842.81 L300.8 843.18 L301.3 843.53 L301.8 843.86 L302.3 844.18 L302.8 844.49 L303.3 844.79 L303.8 844.96 L304.3 845.12 L304.8 845.28 L305.3 845.42 L305.8 845.55 L306.3 845.68 L306.8 845.79 L307.3 845.9 L307.3 847.2Z" fill="#fff" stroke="#000" stroke-width="0.9"/>
<path d="M194.8 847.2 L194.8 847.2 L195.3 847.2 L195.8 847.2 L196.3 847.2 L196.8 847.2 L197.3 847.2 L197.8 847.2 L198.3 847.2 L198.8 847.2 L199.3 847.2 L199.8 847.2 L200.3 847.2 L200.8 847.2 L201.3 847.2 L201.8 847.2 L202.3 847.2 L202.8 847.2 L203.3 847.2 L203.8 847.2 L204.3 847.2 L204.8 847.2 L205.3 847.2 L205.8 847.2 L206.3 847.2 L206.8 847.2 L207.3 847.2 L207.8 847.2 L208.3 847.2 L208.8 847.2 L209.3 847.2 L209.8 847.2 L210.3 847.2 L210.8 847.2 L211.3 847.2 L211.8 847.2 L212.3 847.2 L212.8 847.2 L213.3 847.2 L213.8 847.19 L214.3 847.19 L214.8 847.19 L215.3 847.18 L215.8 847.18 L216.3 847.17 L216.8 847.16 L217.3 847.15 L217.8 847.14 L218.3 847.11 L218.8 847.09 L219.3 847.05 L219.8 847.01 L220.3 846.96 L220.8 846.89 L221.3 846.8 L221.8 846.7 L222.3 846.56 L222.8 846.4 L223.3 846.21 L223.8 845.97 L224.3 845.68 L224.8 845.33 L225.3 844.92 L225.8 844.43 L226.3 843.85 L226.8 843.18 L227.3 842.4 L227.8 841.49 L228.3 840.46 L228.8 839.27 L229.3 837.93 L229.8 836.43 L230.3 834.74 L230.8 832.87 L231.3 830.8 L231.8 828.54 L232.3 826.08 L232.8 823.42 L233.3 820.58 L233.8 817.55 L234.3 814.37 L234.8 811.03 L235.3 807.57 L235.8 804.01 L236.3 800.39 L236.8 796.73 L237.3 793.09 L237.8 789.49 L238.3 785.99 L238.8 782.62 L239.3 779.44 L239.8 776.48 L240.3 773.79 L240.8 771.42 L241.3 769.38 L241.8 767.72 L242.3 766.47 L242.8 765.63 L243.3 765.24 L243.8 765.28 L244.3 765.77 L244.8 766.68 L245.3 768.02 L245.8 769.76 L246.3 771.87 L246.8 774.31 L247.3 777.05 L247.8 780.06 L248.3 783.28 L248.8 786.68 L249.3 790.2 L249.8 793.81 L250.3 797.46 L250.8 801.12 L251.3 804.73 L251.8 808.27 L252.3 811.71 L252.8 815.02 L253.3 818.17 L253.8 821.16 L254.3 823.97 L254.8 826.59 L255.3 829.01 L255.8 831.23 L256.3 833.26 L256.8 835.09 L257.3 836.74 L257.8 838.22 L258.3 839.52 L258.8 840.68 L259.3 841.69 L259.8 842.56 L260.3 843.32 L260.8 843.98 L261.3 844.53 L261.8 845.01 L262.3 845.41 L262.8 845.74 L263.3 846.02 L263.8 846.25 L264.3 846.44 L264.8 846.59 L265.3 846.72 L265.8 846.82 L266.3 846.9 L266.8 846.97 L267.3 847.02 L267.8 847.06 L268.3 847.09 L268.8 847.12 L269.3 847.14 L269.8 847.15 L270.3 847.17 L270.8 847.17 L271.3 847.18 L271.8 847.19 L272.3 847.19 L272.8 847.19 L273.3 847.19 L273.8 847.2 L274.3 847.2 L274.8 847.2 L275.3 847.2 L275.8 847.2 L276.3 847.2 L276.8 847.2 L277.3 847.2 L277.8 847.2 L278.3 847.2 L278.8 847.2 L279.3 847.2 L279.8 847.2 L280.3 847.2 L280.8 847.2 L281.3 847.2 L281.8 847.2 L282.3 847.2 L282.8 847.2 L283.3 847.2 L283.8 847.2 L284.3 847.2 L284.8 847.2 L285.3 847.2 L285.8 847.2 L286.3 847.2 L286.8 847.2 L287.3 847.2 L287.8 847.2 L288.3 847.2 L288.8 847.2 L289.3 847.2 L289.8 847.2 L290.3 847.2 L290.8 847.2 L291.3 847.2 L291.8 847.2 L292.3 847.2 L292.8 847.2 L293.3 847.2 L293.8 847.2 L294.3 847.2 L294.8 847.2 L295.3 847.2 L295.8 847.2 L296.3 847.2 L296.8 847.2 L297.3 847.2 L297.8 847.2 L298.3 847.2 L298.8 847.2 L299.3 847.2 L299.8 847.2 L300.3 847.2 L300.8 847.2 L301.3 847.2 L301.8 847.2 L302.3 847.2 L302.8 847.2 L303.3 847.2 L303.8 847.2 L304.3 847.2 L304.8 847.2 L305.3 847.2 L305.8 847.2 L306.3 847.2 L306.8 847.2 L307.3 847.2 L307.3 847.2Z" fill="#2e2e2e" stroke="#000" stroke-width="0.6"/>
<path d="M194.8 847.2 L194.8 847.2 L195.3 847.2 L195.8 847.2 L196.3 847.2 L196.8 847.2 L197.3 847.2 L197.8 847.2 L198.3 847.2 L198.8 847.2 L199.3 847.2 L199.8 847.2 L200.3 847.2 L200.8 847.2 L201.3 847.2 L201.8 847.2 L202.3 847.2 L202.8 847.2 L203.3 847.2 L203.8 847.2 L204.3 847.2 L204.8 847.2 L205.3 847.2 L205.8 847.2 L206.3 847.2 L206.8 847.2 L207.3 847.2 L207.8 847.2 L208.3 847.2 L208.8 847.2 L209.3 847.2 L209.8 847.2 L210.3 847.2 L210.8 847.2 L211.3 847.2 L211.8 847.2 L212.3 847.2 L212.8 847.2 L213.3 847.2 L213.8 847.2 L214.3 847.2 L214.8 847.2 L215.3 847.2 L215.8 847.2 L216.3 847.2 L216.8 847.2 L217.3 847.2 L217.8 847.2 L218.3 847.2 L218.8 847.2 L219.3 847.2 L219.8 847.2 L220.3 847.2 L220.8 847.2 L221.3 847.2 L221.8 847.2 L222.3 847.2 L222.8 847.2 L223.3 847.2 L223.8 847.2 L224.3 847.2 L224.8 847.2 L225.3 847.2 L225.8 847.2 L226.3 847.2 L226.8 847.2 L227.3 847.2 L227.8 847.2 L228.3 847.19 L228.8 847.19 L229.3 847.19 L229.8 847.19 L230.3 847.18 L230.8 847.18 L231.3 847.17 L231.8 847.16 L232.3 847.15 L232.8 847.13 L233.3 847.11 L233.8 847.09 L234.3 847.06 L234.8 847.03 L235.3 846.98 L235.8 846.93 L236.3 846.86 L236.8 846.78 L237.3 846.69 L237.8 846.58 L238.3 846.44 L238.8 846.29 L239.3 846.1 L239.8 845.88 L240.3 845.63 L240.8 845.34 L241.3 845.01 L241.8 844.63 L242.3 844.2 L242.8 843.72 L243.3 843.18 L243.8 842.58 L244.3 841.91 L244.8 841.18 L245.3 840.38 L245.8 839.52 L246.3 838.59 L246.8 837.59 L247.3 836.53 L247.8 835.41 L248.3 834.25 L248.8 833.03 L249.3 831.78 L249.8 830.51 L250.3 829.22 L250.8 827.92 L251.3 826.64 L251.8 825.38 L252.3 824.16 L252.8 822.99 L253.3 821.88 L253.8 820.86 L254.3 819.94 L254.8 819.12 L255.3 818.43 L255.8 817.86 L256.3 817.43 L256.8 817.15 L257.3 817.01 L257.8 817 L258.3 817.03 L258.8 817.07 L259.3 817.13 L259.8 817.22 L260.3 817.32 L260.8 817.45 L261.3 817.59 L261.8 817.76 L262.3 817.94 L262.8 818.14 L263.3 818.36 L263.8 818.6 L264.3 818.86 L264.8 819.13 L265.3 819.42 L265.8 819.72 L266.3 820.04 L266.8 820.38 L267.3 820.73 L267.8 821.09 L268.3 821.47 L268.8 821.85 L269.3 822.25 L269.8 822.66 L270.3 823.08 L270.8 823.51 L271.3 823.94 L271.8 824.39 L272.3 824.84 L272.8 825.29 L273.3 825.76 L273.8 826.22 L274.3 826.69 L274.8 827.17 L275.3 827.65 L275.8 828.12 L276.3 828.6 L276.8 829.08 L277.3 829.56 L277.8 830.04 L278.3 830.52 L278.8 830.99 L279.3 831.46 L279.8 831.93 L280.3 832.4 L280.8 832.86 L281.3 833.31 L281.8 833.77 L282.3 834.21 L282.8 834.65 L283.3 835.08 L283.8 835.51 L284.3 835.92 L284.8 836.34 L285.3 836.74 L285.8 837.13 L286.3 837.52 L286.8 837.9 L287.3 838.27 L287.8 838.63 L288.3 838.98 L288.8 839.32 L289.3 839.66 L289.8 839.98 L290.3 840.3 L290.8 840.6 L291.3 840.9 L291.8 841.19 L292.3 841.46 L292.8 841.73 L293.3 841.99 L293.8 842.25 L294.3 842.49 L294.8 842.72 L295.3 842.95 L295.8 843.16 L296.3 843.37 L296.8 843.57 L297.3 843.76 L297.8 843.95 L298.3 844.12 L298.8 844.29 L299.3 844.45 L299.8 844.61 L300.3 844.75 L300.8 844.89 L301.3 845.03 L301.8 845.15 L302.3 845.28 L302.8 845.39 L303.3 845.5 L303.8 845.6 L304.3 845.7 L304.8 845.8 L305.3 845.89 L305.8 845.97 L306.3 846.05 L306.8 846.12 L307.3 846.19 L307.3 847.2Z" fill="url(#hatch)" stroke="#000" stroke-width="0.8"/>
<path d="M194.8 847.2 L194.8 847.2 L195.3 847.2 L195.8 847.2 L196.3 847.2 L196.8 847.2 L197.3 847.2 L197.8 847.2 L198.3 847.2 L198.8 847.2 L199.3 847.2 L199.8 847.2 L200.3 847.2 L200.8 847.2 L201.3 847.2 L201.8 847.2 L202.3 847.2 L202.8 847.2 L203.3 847.2 L203.8 847.2 L204.3 847.2 L204.8 847.2 L205.3 847.2 L205.8 847.2 L206.3 847.2 L206.8 847.2 L207.3 847.2 L207.8 847.2 L208.3 847.2 L208.8 847.2 L209.3 847.2 L209.8 847.2 L210.3 847.2 L210.8 847.2 L211.3 847.2 L211.8 847.2 L212.3 847.2 L212.8 847.2 L213.3 847.2 L213.8 847.2 L214.3 847.2 L214.8 847.2 L215.3 847.2 L215.8 847.2 L216.3 847.2 L216.8 847.2 L217.3 847.2 L217.8 847.2 L218.3 847.2 L218.8 847.2 L219.3 847.2 L219.8 847.2 L220.3 847.2 L220.8 847.2 L221.3 847.2 L221.8 847.2 L222.3 847.2 L222.8 847.2 L223.3 847.2 L223.8 847.2 L224.3 847.2 L224.8 847.2 L225.3 847.2 L225.8 847.2 L226.3 847.2 L226.8 847.2 L227.3 847.2 L227.8 847.2 L228.3 847.2 L228.8 847.2 L229.3 847.2 L229.8 847.2 L230.3 847.2 L230.8 847.2 L231.3 847.2 L231.8 847.2 L232.3 847.2 L232.8 847.2 L233.3 847.2 L233.8 847.2 L234.3 847.2 L234.8 847.2 L235.3 847.2 L235.8 847.2 L236.3 847.2 L236.8 847.2 L237.3 847.2 L237.8 847.2 L238.3 847.2 L238.8 847.2 L239.3 847.2 L239.8 847.2 L240.3 847.2 L240.8 847.2 L241.3 847.2 L241.8 847.2 L242.3 847.2 L242.8 847.2 L243.3 847.2 L243.8 847.2 L244.3 847.2 L244.8 847.2 L245.3 847.2 L245.8 847.19 L246.3 847.19 L246.8 847.19 L247.3 847.19 L247.8 847.19 L248.3 847.19 L248.8 847.18 L249.3 847.18 L249.8 847.18 L250.3 847.17 L250.8 847.17 L251.3 847.16 L251.8 847.16 L252.3 847.15 L252.8 847.14 L253.3 847.13 L253.8 847.12 L254.3 847.11 L254.8 847.09 L255.3 847.08 L255.8 847.06 L256.3 847.04 L256.8 847.02 L257.3 846.99 L257.8 846.97 L258.3 846.93 L258.8 846.9 L259.3 846.86 L259.8 846.82 L260.3 846.77 L260.8 846.72 L261.3 846.67 L261.8 846.61 L262.3 846.54 L262.8 846.47 L263.3 846.4 L263.8 846.31 L264.3 846.23 L264.8 846.13 L265.3 846.03 L265.8 845.92 L266.3 845.81 L266.8 845.69 L267.3 845.57 L267.8 845.44 L268.3 845.3 L268.8 845.16 L269.3 845.01 L269.8 844.86 L270.3 844.7 L270.8 844.54 L271.3 844.38 L271.8 844.21 L272.3 844.04 L272.8 843.87 L273.3 843.7 L273.8 843.53 L274.3 843.36 L274.8 843.2 L275.3 843.04 L275.8 842.88 L276.3 842.73 L276.8 842.58 L277.3 842.44 L277.8 842.31 L278.3 842.19 L278.8 842.07 L279.3 841.97 L279.8 841.88 L280.3 841.8 L280.8 841.73 L281.3 841.68 L281.8 841.64 L282.3 841.61 L282.8 841.6 L283.3 841.6 L283.8 841.62 L284.3 841.65 L284.8 841.69 L285.3 841.75 L285.8 841.82 L286.3 841.9 L286.8 841.99 L287.3 842.09 L287.8 842.21 L288.3 842.33 L288.8 842.47 L289.3 842.61 L289.8 842.76 L290.3 842.91 L290.8 843.07 L291.3 843.23 L291.8 843.4 L292.3 843.57 L292.8 843.74 L293.3 843.91 L293.8 844.07 L294.3 844.24 L294.8 844.41 L295.3 844.57 L295.8 844.73 L296.3 844.89 L296.8 845.04 L297.3 845.19 L297.8 845.33 L298.3 845.46 L298.8 845.59 L299.3 845.72 L299.8 845.83 L300.3 845.95 L300.8 846.05 L301.3 846.15 L301.8 846.24 L302.3 846.33 L302.8 846.41 L303.3 846.49 L303.8 846.56 L304.3 846.62 L304.8 846.68 L305.3 846.73 L305.8 846.78 L306.3 846.83 L306.8 846.87 L307.3 846.91 L307.3 847.2Z" fill="url(#hatchd)" stroke="#000" stroke-width="0.6"/>
<polyline points="194.8,846.17 195.55,845.87 196.3,846.52 197.05,845.95 197.8,845.55 198.55,845.91 199.3,845.11 200.05,846.82 200.8,846.15 201.55,846.69 202.3,846.75 203.05,846.33 203.8,846.04 204.55,845.91 205.3,845.84 206.05,844.64 206.8,845.6 207.55,847.2 208.3,846.05 209.05,846.63 209.8,846.56 210.55,845.28 211.3,846.35 212.05,847.2 212.8,845.97 213.55,846.38 214.3,846.99 215.05,846.8 215.8,846.58 216.55,846.13 217.3,846.38 218.05,845.98 218.8,844.66 219.55,846.47 220.3,846.36 221.05,845.8 221.8,844.57 222.55,845.67 223.3,843.59 224.05,845.38 224.8,844.58 225.55,842.92 226.3,842.76 227.05,841.33 227.8,838.55 228.55,836.26 229.3,834.84 230.05,832.85 230.8,826.64 231.55,824.83 232.3,822.29 233.05,813.68 233.8,815.13 234.55,806.22 235.3,798.4 236.05,795.16 236.8,791.84 237.55,780.89 238.3,779.94 239.05,774.73 239.8,772.46 240.55,751.42 241.3,760.58 242.05,744.19 242.8,747.45 243.55,750.8 244.3,742.45 245.05,745.62 245.8,737.53 246.55,750.94 247.3,751.57 248.05,747.93 248.8,724.08 249.55,723.83 250.3,754.32 251.05,765.13 251.8,761.36 252.55,783.99 253.3,779.59 254.05,795.49 254.8,780.3 255.55,787.22 256.3,782.4 257.05,795.15 257.8,805.2 258.55,793.16 259.3,806.26 260.05,807.63 260.8,804.88 261.55,803.25 262.3,808.68 263.05,807.24 263.8,815.44 264.55,803.77 265.3,810.72 266.05,810.81 266.8,809.96 267.55,811.97 268.3,812.48 269.05,816.61 269.8,814.61 270.55,813.47 271.3,812.21 272.05,816.25 272.8,816.16 273.55,815.99 274.3,815.87 275.05,817.46 275.8,819.3 276.55,820.55 277.3,816.71 278.05,819.53 278.8,820.85 279.55,812.65 280.3,819.94 281.05,820.7 281.8,823.09 282.55,826.52 283.3,822.21 284.05,825.74 284.8,826.15 285.55,824.8 286.3,825.62 287.05,828.01 287.8,829.21 288.55,825.99 289.3,829.7 290.05,833.36 290.8,830.94 291.55,832.79 292.3,833.9 293.05,833.78 293.8,835.34 294.55,833.67 295.3,837.05 296.05,837.76 296.8,837.38 297.55,840.21 298.3,839.03 299.05,840.9 299.8,840.18 300.55,842.86 301.3,842.12 302.05,844.52 302.8,843.89 303.55,843.86 304.3,843.7 305.05,842.69 305.8,843.04 306.55,845.82 307.3,845.51" fill="none" stroke="#000" stroke-width="1.0"/>
<polyline points="194.8,844.32 195.55,844.89 196.3,846.16 197.05,844.86 197.8,845.99 198.55,845.8 199.3,846.08 200.05,845.38 200.8,843.63 201.55,844.94 202.3,845.27 203.05,843.44 203.8,845.52 204.55,845.3 205.3,845.38 206.05,844.9 206.8,845.42 207.55,844.18 208.3,845.4 209.05,844.8 209.8,845.04 210.55,845.79 211.3,845.87 212.05,845.22 212.8,846.79 213.55,845.17 214.3,845.11 215.05,845.05 215.8,845.19 216.55,844.86 217.3,845.33 218.05,844.58 218.8,846.14 219.55,844.23 220.3,845.41 221.05,844.25 221.8,844.75 222.55,844.45 223.3,844.39 224.05,842.14 224.8,843.62 225.55,843.01 226.3,840.65 227.05,839.34 227.8,838.05 228.55,837.57 229.3,835.02 230.05,829.81 230.8,830.31 231.55,823.37 232.3,818.85 233.05,815.79 233.8,815.13 234.55,798.87 235.3,799.58 236.05,793.21 236.8,789.83 237.55,786.95 238.3,777.31 239.05,768.68 239.8,770.23 240.55,758.86 241.3,746.97 242.05,748.7 242.8,750.19 243.55,739.32 244.3,739.43 245.05,739.54 245.8,747.92 246.55,757.05 247.3,744.95 248.05,753.23 248.8,741.35 249.55,738.46 250.3,766.39 251.05,770.87 251.8,760.36 252.55,783.4 253.3,772.34 254.05,774.88 254.8,774.26 255.55,785.41 256.3,787.15 257.05,796.68 257.8,795.03 258.55,806.54 259.3,802.06 260.05,801.7 260.8,803.6 261.55,806.38 262.3,801.58 263.05,812.55 263.8,807.39 264.55,810.07 265.3,809.36 266.05,810.03 266.8,804.53 267.55,814.94 268.3,807.86 269.05,808.31 269.8,813.65 270.55,815.67 271.3,818.06 272.05,817.43 272.8,809.45 273.55,822.2 274.3,815.21 275.05,818.98 275.8,812.36 276.55,817.29 277.3,822.33 278.05,820.67 278.8,819.4 279.55,820.2 280.3,823.5 281.05,822.48 281.8,823.55 282.55,821.99 283.3,823.19 284.05,824.03 284.8,826.54 285.55,824.31 286.3,827.9 287.05,829.17 287.8,829.09 288.55,829.62 289.3,830.33 290.05,833.97 290.8,828.89 291.55,830.99 292.3,830.82 293.05,834.44 293.8,833.58 294.55,835.24 295.3,836.28 296.05,834.76 296.8,838.57 297.55,837.84 298.3,841.18 299.05,839.21 299.8,840.61 300.55,842.02 301.3,842.1 302.05,844 302.8,843.45 303.55,842.73 304.3,845.37 305.05,842.44 305.8,842.75 306.55,844.34 307.3,845.08" fill="none" stroke="#1a1a1a" stroke-width="0.8"/>
<line x1="194.8" y1="730" x2="194.8" y2="847.2" stroke="#000" stroke-width="1"/>
<line x1="194.8" y1="847.2" x2="307.3" y2="847.2" stroke="#000" stroke-width="1"/>
<line x1="194.8" y1="847.2" x2="194.8" y2="849.4" stroke="#000" stroke-width="0.8"/>
<text x="194.8" y="854.7" font-size="4.4" text-anchor="middle" fill="#444">0</text>
<line x1="217.3" y1="847.2" x2="217.3" y2="849.4" stroke="#000" stroke-width="0.8"/>
<text x="217.3" y="854.7" font-size="4.4" text-anchor="middle" fill="#444">50</text>
<line x1="239.8" y1="847.2" x2="239.8" y2="849.4" stroke="#000" stroke-width="0.8"/>
<text x="239.8" y="854.7" font-size="4.4" text-anchor="middle" fill="#444">100</text>
<line x1="262.3" y1="847.2" x2="262.3" y2="849.4" stroke="#000" stroke-width="0.8"/>
<text x="262.3" y="854.7" font-size="4.4" text-anchor="middle" fill="#444">150</text>
<line x1="284.8" y1="847.2" x2="284.8" y2="849.4" stroke="#000" stroke-width="0.8"/>
<text x="284.8" y="854.7" font-size="4.4" text-anchor="middle" fill="#444">200</text>
<line x1="307.3" y1="847.2" x2="307.3" y2="849.4" stroke="#000" stroke-width="0.8"/>
<text x="307.3" y="854.7" font-size="4.4" text-anchor="middle" fill="#444">250</text>
<line x1="194.8" y1="847.2" x2="194.8" y2="848.4" stroke="#000" stroke-width="0.5"/>
<line x1="199.3" y1="847.2" x2="199.3" y2="848.4" stroke="#000" stroke-width="0.5"/>
<line x1="203.8" y1="847.2" x2="203.8" y2="848.4" stroke="#000" stroke-width="0.5"/>
<line x1="208.3" y1="847.2" x2="208.3" y2="848.4" stroke="#000" stroke-width="0.5"/>
<line x1="212.8" y1="847.2" x2="212.8" y2="848.4" stroke="#000" stroke-width="0.5"/>
<line x1="217.3" y1="847.2" x2="217.3" y2="848.4" stroke="#000" stroke-width="0.5"/>
<line x1="221.8" y1="847.2" x2="221.8" y2="848.4" stroke="#000" stroke-width="0.5"/>
<line x1="226.3" y1="847.2" x2="226.3" y2="848.4" stroke="#000" stroke-width="0.5"/>
<line x1="230.8" y1="847.2" x2="230.8" y2="848.4" stroke="#000" stroke-width="0.5"/>
<line x1="235.3" y1="847.2" x2="235.3" y2="848.4" stroke="#000" stroke-width="0.5"/>
<line x1="239.8" y1="847.2" x2="239.8" y2="848.4" stroke="#000" stroke-width="0.5"/>
<line x1="244.3" y1="847.2" x2="244.3" y2="848.4" stroke="#000" stroke-width="0.5"/>
<line x1="248.8" y1="847.2" x2="248.8" y2="848.4" stroke="#000" stroke-width="0.5"/>
<line x1="253.3" y1="847.2" x2="253.3" y2="848.4" stroke="#000" stroke-width="0.5"/>
<line x1="257.8" y1="847.2" x2="257.8" y2="848.4" stroke="#000" stroke-width="0.5"/>
<line x1="262.3" y1="847.2" x2="262.3" y2="848.4" stroke="#000" stroke-width="0.5"/>
<line x1="266.8" y1="847.2" x2="266.8" y2="848.4" stroke="#000" stroke-width="0.5"/>
<line x1="271.3" y1="847.2" x2="271.3" y2="848.4" stroke="#000" stroke-width="0.5"/>
<line x1="275.8" y1="847.2" x2="275.8" y2="848.4" stroke="#000" stroke-width="0.5"/>
<line x1="280.3" y1="847.2" x2="280.3" y2="848.4" stroke="#000" stroke-width="0.5"/>
<line x1="284.8" y1="847.2" x2="284.8" y2="848.4" stroke="#000" stroke-width="0.5"/>
<line x1="289.3" y1="847.2" x2="289.3" y2="848.4" stroke="#000" stroke-width="0.5"/>
<line x1="293.8" y1="847.2" x2="293.8" y2="848.4" stroke="#000" stroke-width="0.5"/>
<line x1="298.3" y1="847.2" x2="298.3" y2="848.4" stroke="#000" stroke-width="0.5"/>
<line x1="302.8" y1="847.2" x2="302.8" y2="848.4" stroke="#000" stroke-width="0.5"/>
<line x1="307.3" y1="847.2" x2="307.3" y2="848.4" stroke="#000" stroke-width="0.5"/>
<line x1="192.6" y1="847.2" x2="194.8" y2="847.2" stroke="#000" stroke-width="0.8"/>
<text font-size="4.4" text-anchor="middle" fill="#444" transform="translate(190.8 847.2) rotate(-90)">0</text>
<line x1="192.6" y1="822.4" x2="194.8" y2="822.4" stroke="#000" stroke-width="0.8"/>
<text font-size="4.4" text-anchor="middle" fill="#444" transform="translate(190.8 822.4) rotate(-90)">20</text>
<line x1="192.6" y1="797.6" x2="194.8" y2="797.6" stroke="#000" stroke-width="0.8"/>
<text font-size="4.4" text-anchor="middle" fill="#444" transform="translate(190.8 797.6) rotate(-90)">40</text>
<line x1="192.6" y1="772.8" x2="194.8" y2="772.8" stroke="#000" stroke-width="0.8"/>
<text font-size="4.4" text-anchor="middle" fill="#444" transform="translate(190.8 772.8) rotate(-90)">60</text>
<line x1="192.6" y1="748" x2="194.8" y2="748" stroke="#000" stroke-width="0.8"/>
<text font-size="4.4" text-anchor="middle" fill="#444" transform="translate(190.8 748) rotate(-90)">80</text>
<line x1="193.4" y1="847.2" x2="194.8" y2="847.2" stroke="#000" stroke-width="0.6"/>
<line x1="193.4" y1="844.1" x2="194.8" y2="844.1" stroke="#000" stroke-width="0.6"/>
<line x1="193.4" y1="841" x2="194.8" y2="841" stroke="#000" stroke-width="0.6"/>
<line x1="193.4" y1="837.9" x2="194.8" y2="837.9" stroke="#000" stroke-width="0.6"/>
<line x1="193.4" y1="834.8" x2="194.8" y2="834.8" stroke="#000" stroke-width="0.6"/>
<line x1="193.4" y1="831.7" x2="194.8" y2="831.7" stroke="#000" stroke-width="0.6"/>
<line x1="193.4" y1="828.6" x2="194.8" y2="828.6" stroke="#000" stroke-width="0.6"/>
<line x1="193.4" y1="825.5" x2="194.8" y2="825.5" stroke="#000" stroke-width="0.6"/>
<line x1="193.4" y1="822.4" x2="194.8" y2="822.4" stroke="#000" stroke-width="0.6"/>
<line x1="193.4" y1="819.3" x2="194.8" y2="819.3" stroke="#000" stroke-width="0.6"/>
<line x1="193.4" y1="816.2" x2="194.8" y2="816.2" stroke="#000" stroke-width="0.6"/>
<line x1="193.4" y1="813.1" x2="194.8" y2="813.1" stroke="#000" stroke-width="0.6"/>
<line x1="193.4" y1="810" x2="194.8" y2="810" stroke="#000" stroke-width="0.6"/>
<line x1="193.4" y1="806.9" x2="194.8" y2="806.9" stroke="#000" stroke-width="0.6"/>
<line x1="193.4" y1="803.8" x2="194.8" y2="803.8" stroke="#000" stroke-width="0.6"/>
<line x1="193.4" y1="800.7" x2="194.8" y2="800.7" stroke="#000" stroke-width="0.6"/>
<line x1="193.4" y1="797.6" x2="194.8" y2="797.6" stroke="#000" stroke-width="0.6"/>
<line x1="193.4" y1="794.5" x2="194.8" y2="794.5" stroke="#000" stroke-width="0.6"/>
<line x1="193.4" y1="791.4" x2="194.8" y2="791.4" stroke="#000" stroke-width="0.6"/>
<line x1="193.4" y1="788.3" x2="194.8" y2="788.3" stroke="#000" stroke-width="0.6"/>
<line x1="193.4" y1="785.2" x2="194.8" y2="785.2" stroke="#000" stroke-width="0.6"/>
<line x1="193.4" y1="782.1" x2="194.8" y2="782.1" stroke="#000" stroke-width="0.6"/>
<line x1="193.4" y1="779" x2="194.8" y2="779" stroke="#000" stroke-width="0.6"/>
<line x1="193.4" y1="775.9" x2="194.8" y2="775.9" stroke="#000" stroke-width="0.6"/>
<line x1="193.4" y1="772.8" x2="194.8" y2="772.8" stroke="#000" stroke-width="0.6"/>
<line x1="193.4" y1="769.7" x2="194.8" y2="769.7" stroke="#000" stroke-width="0.6"/>
<line x1="193.4" y1="766.6" x2="194.8" y2="766.6" stroke="#000" stroke-width="0.6"/>
<line x1="193.4" y1="763.5" x2="194.8" y2="763.5" stroke="#000" stroke-width="0.6"/>
<line x1="193.4" y1="760.4" x2="194.8" y2="760.4" stroke="#000" stroke-width="0.6"/>
<line x1="193.4" y1="757.3" x2="194.8" y2="757.3" stroke="#000" stroke-width="0.6"/>
<line x1="193.4" y1="754.2" x2="194.8" y2="754.2" stroke="#000" stroke-width="0.6"/>
<line x1="193.4" y1="751.1" x2="194.8" y2="751.1" stroke="#000" stroke-width="0.6"/>
<line x1="193.4" y1="748" x2="194.8" y2="748" stroke="#000" stroke-width="0.6"/>
<line x1="193.4" y1="744.9" x2="194.8" y2="744.9" stroke="#000" stroke-width="0.6"/>
<line x1="193.4" y1="741.8" x2="194.8" y2="741.8" stroke="#000" stroke-width="0.6"/>
<line x1="193.4" y1="738.7" x2="194.8" y2="738.7" stroke="#000" stroke-width="0.6"/>
<line x1="193.4" y1="735.6" x2="194.8" y2="735.6" stroke="#000" stroke-width="0.6"/>
<text font-size="4.6" text-anchor="middle" fill="#444" transform="translate(188.3 787.2) rotate(-90)">Number</text>
<text font-size="16.3" transform="translate(46.8 592.8) scale(1.070 1)">control</text>
<text font-size="16.3" transform="translate(201.89 592.8) scale(1.080 1)">Lv-NC</text>
<text font-size="16.3" transform="translate(47.8 734.3) scale(1.076 1)">Lv-miR-129-2</text>
<text font-size="16.3" transform="translate(196.7 734.7) scale(1.073 1)">Lv-anti-miR-129-2</text>
<text font-size="9.4" font-weight="bold" style="font-family:'Liberation Serif',serif" fill="#111" transform="translate(113.34 614.1) scale(0.976 1)">G1 : 55.47%</text>
<text font-size="9.4" font-weight="bold" style="font-family:'Liberation Serif',serif" fill="#111" transform="translate(113.34 630.1) scale(0.970 1)">G2 : 7.26%</text>
<text font-size="9.4" font-weight="bold" style="font-family:'Liberation Serif',serif" fill="#111" transform="translate(113.31 646.2) scale(0.952 1)">S :   37.27%</text>
<text font-size="9.4" font-weight="bold" style="font-family:'Liberation Serif',serif" fill="#111" transform="translate(263.75 612.6) scale(0.967 1)">G1 : 55.93%</text>
<text font-size="9.4" font-weight="bold" style="font-family:'Liberation Serif',serif" fill="#111" transform="translate(263.75 628.6) scale(0.961 1)">G2 : 8.78%</text>
<text font-size="9.4" font-weight="bold" style="font-family:'Liberation Serif',serif" fill="#111" transform="translate(263.7 645.7) scale(0.963 1)">S :   35.30%</text>
<text font-size="9.4" font-weight="bold" style="font-family:'Liberation Serif',serif" fill="#111" transform="translate(112.15 752.6) scale(0.958 1)">G1 : 59.34%</text>
<text font-size="9.4" font-weight="bold" style="font-family:'Liberation Serif',serif" fill="#111" transform="translate(112.14 768.8) scale(0.969 1)">G2 : 11.28%</text>
<text font-size="9.4" font-weight="bold" style="font-family:'Liberation Serif',serif" fill="#111" transform="translate(112.11 785.7) scale(0.949 1)">S :   29.39%</text>
<text font-size="9.4" font-weight="bold" style="font-family:'Liberation Serif',serif" fill="#111" transform="translate(267.05 752.2) scale(0.949 1)">G1 : 51.71%</text>
<text font-size="9.4" font-weight="bold" style="font-family:'Liberation Serif',serif" fill="#111" transform="translate(267.08 768.6) scale(0.898 1)">G2 : 6.28%</text>
<text font-size="9.4" font-weight="bold" style="font-family:'Liberation Serif',serif" fill="#111" transform="translate(267.01 785.1) scale(0.945 1)">S :   42.01%</text>
<line x1="412.2" y1="606" x2="412.2" y2="831.6" stroke="#000" stroke-width="2"/>
<path d="M412.2 598.8 L415.3 607.5 L409.1 607.5Z" fill="#000"/>
<line x1="412.2" y1="599.5" x2="415.6" y2="599.5" stroke="#000" stroke-width="1.4"/>
<text font-size="14.2" transform="translate(381.28 835.5) scale(1.050 1)">0%</text>
<line x1="412.2" y1="797.8" x2="415.8" y2="797.8" stroke="#000" stroke-width="1.5"/>
<text font-size="14.2" transform="translate(373 802.7) scale(1.050 1)">10%</text>
<line x1="412.2" y1="765" x2="415.8" y2="765" stroke="#000" stroke-width="1.5"/>
<text font-size="14.2" transform="translate(373 769.9) scale(1.050 1)">20%</text>
<line x1="412.2" y1="732.2" x2="415.8" y2="732.2" stroke="#000" stroke-width="1.5"/>
<text font-size="14.2" transform="translate(373 737.1) scale(1.050 1)">30%</text>
<line x1="412.2" y1="699.4" x2="415.8" y2="699.4" stroke="#000" stroke-width="1.5"/>
<text font-size="14.2" transform="translate(373 704.3) scale(1.050 1)">40%</text>
<line x1="412.2" y1="666.6" x2="415.8" y2="666.6" stroke="#000" stroke-width="1.5"/>
<text font-size="14.2" transform="translate(373 671.5) scale(1.050 1)">50%</text>
<line x1="412.2" y1="633.8" x2="415.8" y2="633.8" stroke="#000" stroke-width="1.5"/>
<text font-size="14.2" transform="translate(373 638.7) scale(1.050 1)">60%</text>
<text font-size="14.2" transform="translate(373 605.9) scale(1.050 1)">70%</text>
<line x1="412.2" y1="830.6" x2="708" y2="830.6" stroke="#000" stroke-width="2"/>
<rect x="426" y="647.58" width="16" height="183.02" fill="#000"/>
<line x1="434" y1="639.05" x2="434" y2="656.1" stroke="#000" stroke-width="1.5"/>
<line x1="431.4" y1="639.05" x2="436.6" y2="639.05" stroke="#000" stroke-width="1.5"/>
<line x1="431.4" y1="656.1" x2="436.6" y2="656.1" stroke="#000" stroke-width="1.5"/>
<rect x="444.6" y="646.86" width="14.8" height="183.74" fill="#121212" stroke="#000" stroke-width="1.2"/>
<line x1="452" y1="637.41" x2="452" y2="655.12" stroke="#000" stroke-width="1.5"/>
<line x1="449.4" y1="637.41" x2="454.6" y2="637.41" stroke="#000" stroke-width="1.5"/>
<line x1="449.4" y1="655.12" x2="454.6" y2="655.12" stroke="#000" stroke-width="1.5"/>
<rect x="462.6" y="635.71" width="14.8" height="194.89" fill="#333333" stroke="#000" stroke-width="1.2"/>
<line x1="470" y1="625.6" x2="470" y2="644.62" stroke="#000" stroke-width="1.5"/>
<line x1="467.4" y1="625.6" x2="472.6" y2="625.6" stroke="#000" stroke-width="1.5"/>
<line x1="467.4" y1="644.62" x2="472.6" y2="644.62" stroke="#000" stroke-width="1.5"/>
<rect x="480.7" y="660.57" width="14.6" height="170.23" fill="#fff" stroke="#000" stroke-width="1.4"/>
<line x1="488" y1="653.15" x2="488" y2="667.58" stroke="#000" stroke-width="1.5"/>
<line x1="485.4" y1="653.15" x2="490.6" y2="653.15" stroke="#000" stroke-width="1.5"/>
<line x1="485.4" y1="667.58" x2="490.6" y2="667.58" stroke="#000" stroke-width="1.5"/>
<rect x="524.5" y="806.66" width="16" height="23.94" fill="#000"/>
<line x1="532.5" y1="805.84" x2="532.5" y2="807.48" stroke="#000" stroke-width="1.5"/>
<line x1="529.9" y1="805.84" x2="535.1" y2="805.84" stroke="#000" stroke-width="1.5"/>
<line x1="529.9" y1="807.48" x2="535.1" y2="807.48" stroke="#000" stroke-width="1.5"/>
<rect x="543.1" y="802.34" width="14.8" height="28.26" fill="#121212" stroke="#000" stroke-width="1.2"/>
<line x1="550.5" y1="800.75" x2="550.5" y2="802.72" stroke="#000" stroke-width="1.5"/>
<line x1="547.9" y1="800.75" x2="553.1" y2="800.75" stroke="#000" stroke-width="1.5"/>
<line x1="547.9" y1="802.72" x2="553.1" y2="802.72" stroke="#000" stroke-width="1.5"/>
<rect x="561.1" y="793.81" width="14.8" height="36.79" fill="#333333" stroke="#000" stroke-width="1.2"/>
<line x1="568.5" y1="791.57" x2="568.5" y2="794.85" stroke="#000" stroke-width="1.5"/>
<line x1="565.9" y1="791.57" x2="571.1" y2="791.57" stroke="#000" stroke-width="1.5"/>
<line x1="565.9" y1="794.85" x2="571.1" y2="794.85" stroke="#000" stroke-width="1.5"/>
<rect x="579.2" y="810.14" width="14.6" height="20.66" fill="#fff" stroke="#000" stroke-width="1.4"/>
<line x1="586.5" y1="808.95" x2="586.5" y2="810.92" stroke="#000" stroke-width="1.5"/>
<line x1="583.9" y1="808.95" x2="589.1" y2="808.95" stroke="#000" stroke-width="1.5"/>
<line x1="583.9" y1="810.92" x2="589.1" y2="810.92" stroke="#000" stroke-width="1.5"/>
<rect x="623.2" y="707.93" width="16" height="122.67" fill="#000"/>
<line x1="631.2" y1="703.01" x2="631.2" y2="712.85" stroke="#000" stroke-width="1.5"/>
<line x1="628.6" y1="703.01" x2="633.8" y2="703.01" stroke="#000" stroke-width="1.5"/>
<line x1="628.6" y1="712.85" x2="633.8" y2="712.85" stroke="#000" stroke-width="1.5"/>
<rect x="641.8" y="714.43" width="14.8" height="116.17" fill="#121212" stroke="#000" stroke-width="1.2"/>
<line x1="649.2" y1="709.24" x2="649.2" y2="718.42" stroke="#000" stroke-width="1.5"/>
<line x1="646.6" y1="709.24" x2="651.8" y2="709.24" stroke="#000" stroke-width="1.5"/>
<line x1="646.6" y1="718.42" x2="651.8" y2="718.42" stroke="#000" stroke-width="1.5"/>
<rect x="659.8" y="734.44" width="14.8" height="96.16" fill="#333333" stroke="#000" stroke-width="1.2"/>
<line x1="667.2" y1="729.58" x2="667.2" y2="738.1" stroke="#000" stroke-width="1.5"/>
<line x1="664.6" y1="729.58" x2="669.8" y2="729.58" stroke="#000" stroke-width="1.5"/>
<line x1="664.6" y1="738.1" x2="669.8" y2="738.1" stroke="#000" stroke-width="1.5"/>
<rect x="677.9" y="692.38" width="14.6" height="138.42" fill="#fff" stroke="#000" stroke-width="1.4"/>
<line x1="685.2" y1="685.3" x2="685.2" y2="699.07" stroke="#000" stroke-width="1.5"/>
<line x1="682.6" y1="685.3" x2="687.8" y2="685.3" stroke="#000" stroke-width="1.5"/>
<line x1="682.6" y1="699.07" x2="687.8" y2="699.07" stroke="#000" stroke-width="1.5"/>
<text font-size="17.6" transform="translate(450.71 854.4)">G1</text>
<text font-size="17.6" transform="translate(549.95 854.4)">G2</text>
<text font-size="17.6" transform="translate(652.75 854.4)">S</text>
<text font-size="26.3" font-weight="bold" transform="translate(482.26 649.15) scale(1.120 1)">*</text>
<text font-size="26.3" font-weight="bold" transform="translate(563.26 789.35) scale(1.120 1)">*</text>
<text font-size="26.3" font-weight="bold" transform="translate(580.26 806.05) scale(1.120 1)">*</text>
<text font-size="26.3" font-weight="bold" transform="translate(660.86 724.95) scale(1.120 1)">*</text>
<text font-size="26.3" font-weight="bold" transform="translate(680.16 683.15) scale(1.120 1)">*</text>
<rect x="519.3" y="594.2" width="7" height="7" fill="#000"/>
<text font-size="16.3" transform="translate(535.11 603.1) scale(1.060 1)">control</text>
<rect x="519.3" y="614" width="7" height="7" fill="#121212"/>
<text font-size="16.3" transform="translate(534.42 622.9) scale(1.060 1)">Lv-NC</text>
<rect x="519.3" y="633" width="7" height="7" fill="#333333"/>
<text font-size="16.3" transform="translate(534.42 641.2) scale(1.060 1)">Lv-miR-129-2</text>
<rect x="519.8" y="652.6" width="6.2" height="6.2" fill="#fff" stroke="#000" stroke-width="1.3"/>
<text font-size="16.3" transform="translate(534.42 659.6) scale(1.060 1)">Lv-anti-miR-129-2</text>
<text font-size="17.3" transform="translate(365.3 759.93) rotate(-90) scale(1.032 1)">Percentage</text>
<text font-size="22" font-weight="bold" transform="translate(-0.33 902.9)">D</text>
<rect x="58.1" y="899.2" width="111.7" height="111.1" fill="#fff" stroke="#777" stroke-width="0.8"/>
<g transform="translate(87.3 993.4) rotate(-50)"><ellipse rx="14.5" ry="10.5" fill="#585858" filter="url(#bl)"/><ellipse rx="6.09" ry="4.41" fill="#858585" filter="url(#bl2)"/></g>
<path d="M82.7 1002.28h.9M90.13 985.42h.9M80.2 1001.28h.9M94.61 994.56h.9M75.35 996.03h.9M93.02 990.85h.9M99.51 987.68h.9M85.57 993h.9M99.2 976.62h.9M78.24 993.97h.9M88.43 993.36h.9M85.26 995.28h.9M91.76 994.3h.9M93.85 987.48h.9M81.23 1006.94h.9M79.26 1001.44h.9M79.75 1002.41h.9M84.26 998.95h.9M104 973.06h.9M85.76 983.34h.9M88.75 997.62h.9M88.46 995.34h.9M83.38 989.03h.9M86.6 986.94h.9M94.66 980.09h.9M90.83 989.22h.9M89.52 985.35h.9M91.87 986.84h.9M96.54 988h.9M84.57 989.64h.9M93.31 990.45h.9M94.05 981.97h.9M92.39 991.9h.9M89.67 992.45h.9M85.59 990.07h.9M80.35 998.13h.9M97.01 995.4h.9M96.97 991.34h.9M94.37 991.24h.9M91.65 995.14h.9M94.94 981.35h.9M92.41 1004.91h.9M92.85 995.51h.9M86.76 983.85h.9M107.63 985.13h.9M91.54 995.11h.9M84.04 989.34h.9M88.38 995.47h.9M96.16 989.22h.9M93.6 998.07h.9M86.91 1000.99h.9M91.71 985.52h.9M74.11 1000.97h.9M90.85 993.91h.9M90.79 980.21h.9M90.18 995.8h.9M76.01 985.57h.9M101.66 997.06h.9M88.39 983.86h.9M86.17 996.74h.9M102.79 980.49h.9M94.77 998.49h.9M95.12 1000.81h.9M81.69 995.82h.9M97.3 994.28h.9M91.99 990.52h.9M74.81 1001.88h.9M81.81 995.15h.9M88.82 988.57h.9M91.7 988.89h.9M86.12 995.87h.9M93.29 993.97h.9M83.82 995.45h.9M87.4 1007.68h.9M93.95 983.87h.9M79.38 991.73h.9M89.08 993.13h.9M99.57 980.99h.9M72.5 989.08h.9M95.36 985.49h.9M79.85 1003.9h.9M95.57 988.69h.9M76.94 986.53h.9M79.77 988.4h.9M80.89 981.82h.9M88.04 1003.47h.9M90.5 978.97h.9M83.33 1006.04h.9M87.31 984.53h.9M80.67 995.07h.9M78.19 998.14h.9M96.76 988.32h.9M97.46 980.52h.9M82.26 990.58h.9M80.86 989.28h.9M81.27 1006.85h.9M98.38 987.71h.9M95.25 986.2h.9M84 998.11h.9M80.47 991.56h.9M72.06 998.24h.9M87.94 993.99h.9M91.19 1001.6h.9M90.8 994.47h.9M89.92 982.91h.9M80.53 1008.23h.9M89.57 1002.47h.9M93.48 995.07h.9M82.01 981.01h.9M88.01 986.51h.9M81.5 996.4h.9M95.15 991.99h.9M85.14 981.06h.9M73.76 988.19h.9M89.43 996.25h.9M84.47 998.98h.9M92.94 995.73h.9M79.42 995.34h.9M91.14 1004.57h.9M92.34 986.28h.9M88.96 992.45h.9M87.42 991.39h.9M80.03 990.78h.9M91.31 1003.45h.9M90.34 990.36h.9M86.48 994.94h.9M86.25 988.84h.9M89.37 993.09h.9M79.97 995.04h.9M77.47 995.56h.9M81.42 979.2h.9M83.23 992.76h.9M84.55 997.55h.9M93.42 986.79h.9M83.87 991.98h.9M90.67 997.57h.9M80.21 991.55h.9M75.92 997.01h.9M85.04 1005.97h.9M88.07 990.35h.9M91.87 982.04h.9M94.7 991.77h.9M72.49 997.07h.9M86.56 1002.43h.9M88.51 980.92h.9M90.98 985.57h.9M82.84 993.76h.9M77.59 988.63h.9M76.7 994.93h.9M99.06 998.16h.9M99.82 975.46h.9M76.68 1002.41h.9M91.26 1006.5h.9M87 987.21h.9M94.47 989.67h.9M76.62 1001.36h.9M86.16 994.93h.9M86.48 991.33h.9M85.68 990.06h.9M89.41 1004.5h.9M91.09 992.83h.9M78.39 1002.53h.9M85.79 983.6h.9M91.2 985.25h.9M88.77 990.45h.9M93.74 996.53h.9M92.15 1001.67h.9M79.17 994.72h.9M86.23 985.1h.9M89.41 999.03h.9M85.65 979.42h.9M98.23 997.3h.9M92.36 985.21h.9M82.91 995.97h.9M80.22 999.46h.9M85.7 994h.9M92.34 985.32h.9M84.48 1006.21h.9M79.82 998.29h.9M85.09 992.94h.9M81.06 998.6h.9M95.81 977.8h.9M91.57 998.4h.9M94.49 991.68h.9M83.01 980.83h.9M83.44 999.16h.9M95.58 995.16h.9M88.65 989.65h.9M86.57 992.38h.9M91.55 994.39h.9M81.96 992.46h.9M87.77 1002.69h.9M98.26 989.26h.9M95.38 991.26h.9M90.22 995.88h.9M81.01 999.07h.9M86.75 1000.58h.9M83.85 996.54h.9M95.35 995.98h.9M79.09 994.75h.9M86.6 984.3h.9M87.1 988.52h.9M78.7 987.29h.9M88.74 987.18h.9M91.88 1006.6h.9M106.47 1002.08h.9M87.85 989.62h.9M94.96 998.71h.9M89.16 995.24h.9M85.92 986.87h.9M85.74 990.75h.9M84.77 1004.25h.9M91.04 989.61h.9M73.77 991.5h.9M89.36 990.07h.9M78.4 1003.46h.9M79.38 1002.59h.9M89.6 993.84h.9M89.17 992.71h.9M79.76 998.94h.9M83.64 995.65h.9M91.42 994.05h.9M84.32 973.88h.9M88.48 990.21h.9M103.1 982.96h.9M80.6 1004.99h.9M89.03 1000.27h.9M81.44 999.47h.9M86.2 993.84h.9M76.18 990.15h.9M94.08 994.3h.9M82.45 990.04h.9M90.84 994.26h.9M86.34 994.42h.9M89.57 980.64h.9M76.01 989.73h.9M80.44 994.93h.9M79.31 996.69h.9M95.64 981.69h.9M96.44 1002.26h.9M79.32 987.33h.9M85.22 987.46h.9M90.19 978.76h.9M77.22 990.98h.9M83.31 989.03h.9M85.3 992.4h.9M88.33 1000.65h.9M92.37 987.92h.9M77.95 994.93h.9M99.26 1000.63h.9M81.49 993.28h.9M78.88 993.59h.9M81.41 998.58h.9M94.65 984.64h.9M77.54 990.53h.9M88.27 992h.9M76.21 996.86h.9M91.56 997.42h.9M91.42 990.33h.9M87.06 996.57h.9M96.85 1001.54h.9M79.87 998.95h.9M92.63 984.67h.9M94.41 984.53h.9M86.41 991.14h.9M75.93 998.23h.9M101.51 982.26h.9M94.62 993.24h.9M94.74 993.72h.9M84.95 994.2h.9M90.78 986.08h.9M79.48 1000.69h.9M87.22 999.01h.9M78.91 993.86h.9M92.47 1001.19h.9M87.77 994.29h.9M88.65 994.44h.9M98.23 992.91h.9M84.89 1008.5h.9M85.86 992.23h.9M98.84 978.12h.9M101.55 985.11h.9M84.18 1001.5h.9M90.52 988.43h.9M73.84 1006.34h.9M81.42 990.46h.9M95.58 981.34h.9M83.96 994.69h.9M79.85 995.31h.9M89.17 993.99h.9M84.3 996.16h.9M82.48 1003.83h.9M84.41 998.78h.9M80.37 997.03h.9M83.04 987.59h.9M99.8 978.18h.9M83.68 991.12h.9M101.61 988.8h.9M82.78 986.49h.9M87.44 998.77h.9M79.44 992.13h.9M77.8 997.79h.9M84.5 990.91h.9M99.75 1003.65h.9M91.8 978.72h.9M89.44 991.63h.9M91.21 998.12h.9M84.16 994.22h.9M84.93 995.32h.9M97.33 988.43h.9M78.47 999.96h.9M86.82 1001.3h.9M92.39 995.33h.9M78.54 986.69h.9M90.62 991.49h.9M84.14 985.46h.9M84.68 990.35h.9M85.34 998.91h.9M85.16 987.93h.9M67.58 994.68h.9M89.32 1001.08h.9M77.06 985.38h.9M84.74 1000.23h.9M101.04 987.52h.9M90.05 991.89h.9M79.87 998.19h.9M82.17 992.56h.9M85.89 991.55h.9M95.37 996.66h.9M92.95 990.42h.9M79.34 989.23h.9M89.12 996.11h.9M87.68 1004.22h.9M87.23 996.82h.9M80.06 990.75h.9M92.76 976.46h.9M89.55 985.73h.9M85.17 988.7h.9M89.24 999.36h.9M93.53 978.37h.9M91.54 996.86h.9M87.21 999.89h.9M85.95 1000.44h.9M94.9 995.23h.9M83.89 986.75h.9M85.83 985.25h.9M97.83 994.42h.9M87.91 987.71h.9M94.15 986.74h.9M79.35 999.69h.9M93.23 983.6h.9M86.41 991.38h.9M76.4 1001.8h.9M90.05 991.99h.9M76.97 986.54h.9M96.75 988.61h.9M98.3 991.97h.9M82.35 993.87h.9M96.31 997.69h.9M77.64 1002.84h.9M86.11 999.85h.9M93.5 983.36h.9M81.16 1001.16h.9M79.01 989.41h.9M89.52 986.05h.9M84.98 984.34h.9M86.54 981.35h.9M84.69 980.24h.9M92.72 983.58h.9M78.28 1002.03h.9M84.65 987.66h.9M85.96 997.41h.9M72.87 983.05h.9M86.99 997.61h.9M93.29 995.33h.9M95.06 1007.1h.9M92.78 989.67h.9M97.08 990.31h.9M85.08 990.47h.9M94.42 988.71h.9M72.71 1000.86h.9M90.18 990.95h.9M91.57 994.07h.9M95.05 998.39h.9M82.51 995.52h.9M92.25 994.2h.9M97.92 994.11h.9M90.02 1000.64h.9M85.09 986.67h.9M95.82 1001.98h.9M89.25 986.86h.9M71.75 1005.32h.9M84.04 997.98h.9M102.44 982.05h.9M84.77 988.02h.9M80.3 999.88h.9M98.21 1007.42h.9M82.5 993.58h.9M93.43 986.79h.9M86.67 1005.73h.9M79.82 990.37h.9M91.11 993.25h.9M88.65 998.05h.9M87.6 985.11h.9M66.17 997.09h.9M92.09 998.75h.9M98.6 992.44h.9M96.89 982.12h.9M85.95 981.27h.9M92.57 990.65h.9M84.86 992.34h.9M82.2 1000.74h.9M92.23 984.23h.9M87.08 987.69h.9M84.15 988.11h.9M88.27 990.28h.9M86.23 989.22h.9M79.82 999.37h.9M99.6 992.93h.9M89.17 998.35h.9M92.93 990.22h.9M80.78 1004.08h.9M87.53 1003.69h.9M94.07 990.88h.9M85.23 984.38h.9M92.61 987.75h.9M83.21 991.87h.9M80.16 998.01h.9M104.02 975.3h.9M85.5 989.72h.9M81.69 995.12h.9M86.63 1002.06h.9M89.74 998.27h.9M85.49 1003.91h.9M90.11 996.04h.9M82.84 990.74h.9M91.58 984.39h.9M82.63 991.01h.9M86.62 990.7h.9M90.27 992.96h.9M77.53 992.37h.9M93.58 994.16h.9M85.8 984.9h.9M92.1 991.13h.9M90.65 993.26h.9M86.59 996.17h.9M89.82 985.86h.9M79.46 1001.81h.9" stroke="#333" stroke-width="1" fill="none"/>
<path d="M138.77 931.09h.9M130.91 948.13h.9M135.65 944.65h.9M125.67 950.34h.9M152.79 942.6h.9M130.41 935.9h.9M145.02 944.73h.9M129.85 952.5h.9M143.88 948.22h.9M121.16 943.27h.9M142.63 935.43h.9M145.36 954.01h.9M146.3 938.95h.9M130.63 950.59h.9M145.95 952.6h.9M147.81 943.3h.9M133.31 931.01h.9M144.06 959.93h.9M132.83 940.67h.9M142.84 946.62h.9M124.67 939h.9M127.12 958.15h.9M130.54 949.98h.9M154.26 957.26h.9M149.83 955.41h.9M125.88 941.58h.9M130.45 941.97h.9M160.59 932.25h.9M142.02 935.35h.9M149.05 953.1h.9M132.39 958.49h.9M137.67 953.12h.9M139.8 940.08h.9M133.58 943.17h.9M142.56 944.88h.9M158.24 942.65h.9M132.8 938.96h.9M130.01 933.92h.9M128.13 950.34h.9M137.54 942.8h.9M140.15 951.47h.9M142.54 949.41h.9M131.96 942.17h.9M130.01 943.32h.9M129.64 941.39h.9M135.43 942.49h.9M134.6 940.56h.9M148.79 941.6h.9M127.9 945.35h.9M127.2 936.49h.9M137.76 932.33h.9M108.02 946.02h.9M146.31 932.3h.9M128.92 948.04h.9M119.12 937.88h.9M126.16 942.61h.9M119.24 950.26h.9M135.7 946.12h.9M134.05 929.15h.9M135.63 934.62h.9M137.09 938.03h.9M134.15 942.52h.9M143.95 949.37h.9M127.95 943.88h.9M150.14 947.46h.9M130.44 943.15h.9M133.87 950.59h.9M137.3 946.63h.9M156.9 934.35h.9M127.87 931.88h.9M105.89 969.72h.9M128.51 976.68h.9M101.31 954.07h.9M142.33 971.26h.9M135.62 969.84h.9M125.39 961.91h.9M125.39 969.58h.9M123.05 964.89h.9M142.44 951.87h.9M116 967.08h.9M121.84 960.59h.9M150.18 965.74h.9M119.99 971.88h.9M155.21 952.01h.9M116.96 963.05h.9M117.37 981.54h.9M131.31 958.41h.9M130.89 954.84h.9M117.74 962.95h.9M153.65 941.75h.9M130.04 974.16h.9M133.88 979.3h.9M130.41 963.32h.9M123.42 954.29h.9M144.62 951.35h.9M123.52 957.28h.9M115.58 942h.9M120.42 963.23h.9M126.72 969.6h.9M123.05 956.23h.9M128.69 967.98h.9M114.15 948.32h.9M112.7 971.52h.9M136.98 954.02h.9M126.34 969.55h.9M140.94 956.07h.9M122.12 974.68h.9M153.93 975.77h.9M111.31 966.04h.9M121.41 961.47h.9M117.04 957.68h.9M124.88 978.23h.9M133.39 965.84h.9M125.32 955.24h.9M122.25 973.15h.9M134.96 979.68h.9M128.13 961.82h.9M105.58 965.58h.9M104.32 975.73h.9M117.44 962h.9M108.79 957.54h.9M113.82 972.18h.9M127.98 951.38h.9M101.83 961.39h.9M119.16 952.01h.9M132.08 960.33h.9M126.34 956.69h.9M118.16 957.86h.9M105.76 967.67h.9M129.84 946.49h.9M107.03 993.45h.9M108.92 995.15h.9M109.36 979.62h.9M123.8 990.46h.9M131.12 990.34h.9M109.02 985.83h.9M121.89 981.17h.9M119.46 984.77h.9M107.64 1001.01h.9M133.02 991.12h.9M121.51 985.9h.9M108.27 988.15h.9M112.93 987.83h.9M117.34 982.34h.9M117.97 989.71h.9M107.32 995.53h.9M127.64 991.34h.9M110.68 987.71h.9M117.11 995.11h.9M117.58 998.03h.9M118.95 984.22h.9M112.04 985.91h.9M109.64 980.25h.9M129.24 980.93h.9M113.39 980.18h.9M127.84 985.1h.9M115.67 981.77h.9M111.56 983.82h.9M114.81 985.89h.9M110.57 981.79h.9M151.18 988.14h.9M107.5 999.06h.9M106.95 988.7h.9M115.47 982.46h.9M137.16 986.26h.9M113.93 987.81h.9M124.7 981.54h.9M119.38 982.61h.9M108.46 982.97h.9M117.52 995h.9M117.92 991.67h.9M117.39 988.36h.9M126.67 993.99h.9M123.51 993.82h.9M108.39 990.43h.9M112.76 993.46h.9M110.47 986.54h.9M109.08 992.74h.9M111.08 991.79h.9M126.69 980.36h.9M111.76 985.77h.9M109.64 982.73h.9M110.39 990.23h.9M106.02 981.9h.9M110.12 988.12h.9M130.43 996.55h.9M108 988.87h.9M110.8 984.91h.9M117.79 983.99h.9M107.81 998.75h.9M107.97 980.94h.9M111.63 990.23h.9M130.7 991.99h.9M116.54 997.94h.9M110.27 980.09h.9M113.72 985.07h.9M113.34 981.34h.9M108.54 981.32h.9M111.21 991.25h.9M112.88 981.37h.9M108.53 988.58h.9M108.78 997.17h.9M111.31 986.09h.9M109.79 998.21h.9M117.06 986.25h.9M112.27 986.01h.9M108.96 990.25h.9M106.46 982.98h.9M125.12 982.2h.9M128.91 988.39h.9" stroke="#666" stroke-width="0.9" fill="none"/>
<line x1="105.6" y1="899.2" x2="105.6" y2="1010.3" stroke="#222" stroke-width="1.1"/>
<line x1="58.1" y1="977.6" x2="169.8" y2="977.6" stroke="#666" stroke-width="1.2"/>
<line x1="58.1" y1="899.2" x2="58.1" y2="1010.3" stroke="#444" stroke-width="1"/>
<line x1="58.1" y1="1010.3" x2="169.8" y2="1010.3" stroke="#444" stroke-width="1"/>
<line x1="56.1" y1="1010.3" x2="58.1" y2="1010.3" stroke="#000" stroke-width="0.8"/>
<text x="51.1" y="1012" font-size="5" text-anchor="middle" fill="#222">10<tspan font-size="3.4" dy="-1.6">0</tspan></text>
<line x1="58.1" y1="1010.3" x2="58.1" y2="1012.3" stroke="#000" stroke-width="0.8"/>
<text x="58.1" y="1017.5" font-size="5" text-anchor="middle" fill="#222">10<tspan font-size="3.4" dy="-1.6">0</tspan></text>
<line x1="56.1" y1="988.08" x2="58.1" y2="988.08" stroke="#000" stroke-width="0.8"/>
<text x="51.1" y="989.78" font-size="5" text-anchor="middle" fill="#222">10<tspan font-size="3.4" dy="-1.6">1</tspan></text>
<line x1="80.44" y1="1010.3" x2="80.44" y2="1012.3" stroke="#000" stroke-width="0.8"/>
<text x="80.44" y="1017.5" font-size="5" text-anchor="middle" fill="#222">10<tspan font-size="3.4" dy="-1.6">1</tspan></text>
<line x1="56.1" y1="965.86" x2="58.1" y2="965.86" stroke="#000" stroke-width="0.8"/>
<text x="51.1" y="967.56" font-size="5" text-anchor="middle" fill="#222">10<tspan font-size="3.4" dy="-1.6">2</tspan></text>
<line x1="102.78" y1="1010.3" x2="102.78" y2="1012.3" stroke="#000" stroke-width="0.8"/>
<text x="102.78" y="1017.5" font-size="5" text-anchor="middle" fill="#222">10<tspan font-size="3.4" dy="-1.6">2</tspan></text>
<line x1="56.1" y1="943.64" x2="58.1" y2="943.64" stroke="#000" stroke-width="0.8"/>
<text x="51.1" y="945.34" font-size="5" text-anchor="middle" fill="#222">10<tspan font-size="3.4" dy="-1.6">3</tspan></text>
<line x1="125.12" y1="1010.3" x2="125.12" y2="1012.3" stroke="#000" stroke-width="0.8"/>
<text x="125.12" y="1017.5" font-size="5" text-anchor="middle" fill="#222">10<tspan font-size="3.4" dy="-1.6">3</tspan></text>
<line x1="56.1" y1="921.42" x2="58.1" y2="921.42" stroke="#000" stroke-width="0.8"/>
<text x="51.1" y="923.12" font-size="5" text-anchor="middle" fill="#222">10<tspan font-size="3.4" dy="-1.6">4</tspan></text>
<line x1="147.46" y1="1010.3" x2="147.46" y2="1012.3" stroke="#000" stroke-width="0.8"/>
<text x="147.46" y="1017.5" font-size="5" text-anchor="middle" fill="#222">10<tspan font-size="3.4" dy="-1.6">4</tspan></text>
<line x1="56.1" y1="899.2" x2="58.1" y2="899.2" stroke="#000" stroke-width="0.8"/>
<text x="51.1" y="900.9" font-size="5" text-anchor="middle" fill="#222">10<tspan font-size="3.4" dy="-1.6">5</tspan></text>
<line x1="169.8" y1="1010.3" x2="169.8" y2="1012.3" stroke="#000" stroke-width="0.8"/>
<text x="169.8" y="1017.5" font-size="5" text-anchor="middle" fill="#222">10<tspan font-size="3.4" dy="-1.6">5</tspan></text>
<text x="113.95" y="1022.3" font-size="5" text-anchor="middle" fill="#222">FL1-Log_Height Comp</text>
<text font-size="5" text-anchor="middle" fill="#222" transform="translate(46.1 951.75) rotate(-90)">FL3-Log_Height Comp</text>
<text x="60.6" y="905.7" font-size="5.6" fill="#333">R2</text>
<text x="168.3" y="905.7" font-size="5.6" text-anchor="end" fill="#333">R3</text>
<text x="60.6" y="1006.8" font-size="5.6" fill="#333">R4</text>
<text x="168.3" y="1006.8" font-size="5.6" text-anchor="end" fill="#333">R5</text>
<rect x="202.6" y="900.4" width="110.9" height="110.9" fill="#fff" stroke="#777" stroke-width="0.8"/>
<g transform="translate(233 991.8) rotate(-45)"><ellipse rx="14.5" ry="10.5" fill="#585858" filter="url(#bl)"/><ellipse rx="6.09" ry="4.41" fill="#858585" filter="url(#bl2)"/></g>
<path d="M225.8 1000.9h.9M229.47 991.41h.9M238.72 986.62h.9M238.81 1000.71h.9M225.05 989.43h.9M223.1 997.4h.9M240.19 991.57h.9M246.99 992.94h.9M245.45 984.81h.9M243.48 986.94h.9M233.57 998.34h.9M232.94 990.54h.9M248 983.56h.9M230.44 994.16h.9M245.81 977.39h.9M240.28 990.08h.9M238.88 991.23h.9M228.88 992.55h.9M231.15 991.15h.9M244.54 993.48h.9M230.73 999.05h.9M225.08 994.45h.9M232.62 993.52h.9M220.24 983.42h.9M240.34 982.67h.9M232.73 998.16h.9M224.21 989.22h.9M238.08 990.64h.9M232.29 999.91h.9M230.98 984.88h.9M244.66 982.81h.9M228.92 1000.08h.9M238.28 995.01h.9M230.13 1003.74h.9M241.8 989.21h.9M242.47 993.67h.9M238.17 988.14h.9M233.35 1001.1h.9M240.38 987.33h.9M237.39 993.84h.9M220.45 1007.41h.9M220.22 1007h.9M247.4 993.52h.9M232.59 996.19h.9M223.88 982.91h.9M237.59 987.48h.9M229.96 987.43h.9M233.58 992.3h.9M242 985.62h.9M251.73 970.08h.9M231.74 993.02h.9M235.09 1002.62h.9M231.89 982.76h.9M238.84 995.87h.9M225.97 1000.45h.9M241.77 1002.74h.9M234.14 987.66h.9M238.08 1002.76h.9M240.25 1003.84h.9M223.74 999.86h.9M229.18 990.18h.9M235.11 995.8h.9M223.73 989.59h.9M247.23 990.11h.9M230.78 996.93h.9M223.56 997.04h.9M240.6 974.13h.9M229.15 987.18h.9M218.07 997.47h.9M229.6 984.77h.9M233.1 998.11h.9M227.12 987.21h.9M242.51 983.67h.9M237.15 979.36h.9M237.52 976.51h.9M221.72 999.94h.9M232.41 994.94h.9M232.87 997.56h.9M238.38 981.4h.9M223.93 997.93h.9M241.5 990.43h.9M227.38 989.63h.9M237.33 995.82h.9M234.73 1001.18h.9M235.93 991.64h.9M235.49 1000.95h.9M227.52 985.32h.9M236.38 985.31h.9M240.29 986.27h.9M230.56 996.02h.9M227.2 991.12h.9M236.99 995.06h.9M233.48 990.97h.9M232.63 997.26h.9M238.95 994.14h.9M244.33 998.46h.9M224.23 1000.49h.9M240.19 992.39h.9M219.62 995.43h.9M237.54 996.33h.9M233.42 979.19h.9M239.01 995.84h.9M229.32 987.31h.9M223.81 990.31h.9M239.16 983.85h.9M227.35 990.57h.9M228.87 988.77h.9M227.67 997.14h.9M233.99 994.94h.9M239.14 995.78h.9M234.23 993.07h.9M231.37 987.11h.9M237.86 982.63h.9M229.54 1005.91h.9M234.8 985.68h.9M242.83 990.28h.9M232.58 982.88h.9M230.13 986.44h.9M227.59 992.9h.9M230.61 998.6h.9M231.47 998.8h.9M231.88 988.26h.9M237.21 993.6h.9M238.85 984.16h.9M245.66 984.21h.9M234.92 979.06h.9M232.36 1002.76h.9M234.04 994.93h.9M234.28 978.94h.9M243.96 997.16h.9M238.32 987.55h.9M236.65 988.56h.9M243.18 992.7h.9M234.48 995.4h.9M238.2 993.07h.9M233.74 982.56h.9M243.58 988.66h.9M226 996.79h.9M223.91 998.84h.9M230.49 985.1h.9M225.38 992.52h.9M226.25 992.5h.9M229.66 1000.16h.9M228.79 989.57h.9M236.68 983.8h.9M233.39 981.56h.9M239.55 981.9h.9M229.69 998.81h.9M221.36 994.88h.9M232.75 988.4h.9M236.24 990.05h.9M235.36 990.84h.9M237.43 987.7h.9M243.55 989.36h.9M215.01 995.68h.9M240.4 981.08h.9M233.98 990.22h.9M244.01 999.25h.9M229.64 996.02h.9M228.97 987.26h.9M227.31 995.58h.9M234.87 993.42h.9M215.81 996.43h.9M241.99 981.65h.9M236.31 985.34h.9M238.03 1004.45h.9M222.65 995.01h.9M237.28 987.98h.9M224.65 1001.61h.9M231.24 981.34h.9M233.43 998.14h.9M234.66 971.36h.9M229.56 995.75h.9M224.48 993.19h.9M232.62 996.69h.9M230.87 1001.34h.9M241.56 990.53h.9M239.91 980.9h.9M237.17 996.13h.9M244.38 988.43h.9M228.8 992.29h.9M224.12 997.41h.9M226.28 994.81h.9M234.62 997.29h.9M237.99 986.69h.9M226.67 997.99h.9M239.3 992.8h.9M237.85 993.87h.9M232.3 998.12h.9M236.07 986.12h.9M234.11 1001.08h.9M230.53 1000.18h.9M230.4 991.85h.9M230.11 991.37h.9M240.42 999.25h.9M241.02 982.98h.9M239.73 992.8h.9M238.47 1001.67h.9M236.08 994.09h.9M223.37 992.56h.9M225.07 994.75h.9M237.89 984.61h.9M236.62 985.04h.9M228.64 997.83h.9M224.3 987.19h.9M238.45 996.31h.9M227.25 988.01h.9M224.1 991.07h.9M228.1 989.24h.9M233.42 993.09h.9M236.1 979.53h.9M228.41 1009.97h.9M234.3 987.81h.9M232.4 985.1h.9M234.19 996.42h.9M232.11 994.06h.9M236.31 989.76h.9M234.08 995.21h.9M246.02 989.46h.9M231.49 999.82h.9M216.81 996.71h.9M237.8 991.67h.9M234.02 977.01h.9M237.21 983.43h.9M232.51 996.2h.9M237.42 979.97h.9M221.23 998.96h.9M237.56 997.3h.9M234.17 988.46h.9M228.57 992.71h.9M232 979.5h.9M225.84 992.09h.9M240.16 985.92h.9M232.58 998.61h.9M248.51 984.91h.9M225.1 998.25h.9M232.31 977.95h.9M224.7 996.95h.9M232.89 985.45h.9M233.48 990.25h.9M230.18 985.03h.9M211.99 995.5h.9M238.19 994.82h.9M229.43 982.49h.9M222.27 1000.38h.9M220.59 989.43h.9M226.71 991.8h.9M234.11 993.98h.9M235.03 991.45h.9M235.73 988.39h.9M229.26 992.9h.9M238.74 983.94h.9M244.53 993.98h.9M234.25 973.18h.9M238.04 994.93h.9M227.74 991.43h.9M222.38 997.07h.9M225.49 984.09h.9M229.68 988.43h.9M228.86 987.24h.9M234.29 991.97h.9M226.51 992.95h.9M241.08 989h.9M230.54 997.95h.9M224.53 996.16h.9M214.39 1005.92h.9M234.99 985.94h.9M233.84 985.84h.9M234.25 989.47h.9M236.19 1005.83h.9M222.91 991.03h.9M235.81 992.98h.9M234.64 989.41h.9M239.57 992.96h.9M231 982.63h.9M242.73 981.93h.9M224.99 1006.72h.9M233.47 993.76h.9M242.14 978.41h.9M225.61 991.3h.9M236.89 993.42h.9M236.03 990.26h.9M222.24 1004.84h.9M237.15 983.6h.9M226 990.66h.9M228.14 984.05h.9M243.1 980.2h.9M224.8 990.19h.9M240.14 992.71h.9M230.67 995.65h.9M238.75 994.08h.9M241.65 993.36h.9M235.81 1010.39h.9M225.76 990.03h.9M229.5 998.59h.9M247.41 997.34h.9M236.94 981.75h.9M229.31 991.8h.9M229.07 994.46h.9M234.47 1000.03h.9M237.58 992.43h.9M227.54 987.93h.9M234.02 987.71h.9M249.4 985.58h.9M222.31 994.56h.9M229.2 994h.9M238.87 984.6h.9M234.43 987.89h.9M236.97 998.01h.9M241.26 999.72h.9M234.5 993.61h.9M238.11 992.24h.9M241.26 978.14h.9M226.35 990.91h.9M245.27 983.5h.9M237.59 991.09h.9M225.91 1005.34h.9M235.17 992.31h.9M233.32 990.9h.9M230.46 989.87h.9M234.49 995.62h.9M224.66 1007.04h.9M232.47 983.78h.9M237.32 990.14h.9M237.15 1001.58h.9M233.64 990.23h.9M234.72 1007.98h.9M235.7 991.81h.9M240.35 1001.5h.9M238.76 999.05h.9M243.13 989.8h.9M241.49 992.9h.9M224.08 983.97h.9M227.08 1008.81h.9M242.91 966.66h.9M238.56 990.27h.9M221.08 987.68h.9M239.57 999.19h.9M232.55 992.35h.9M233.84 991.46h.9M244.16 999.44h.9M220.82 989.27h.9M235.82 984.88h.9M224.66 988.91h.9M230.43 991.01h.9M233.98 987.74h.9M227 1002h.9M225.01 984.52h.9M234.37 996.79h.9M231.5 990.79h.9M233.9 985.83h.9M231.4 997.82h.9M229.75 990.13h.9M235.51 991.56h.9M242.54 990.62h.9M233.58 991.16h.9M228.76 997.84h.9M234.58 997.19h.9M240.3 989.88h.9M234.22 993.43h.9M248.58 990.26h.9M218.38 983.56h.9M230.45 982.04h.9M235.33 993.35h.9M240.91 982.66h.9M230.23 990.09h.9M229.93 985.11h.9M237.77 989.97h.9M239.56 982.94h.9M235.86 990.76h.9M229.21 987.98h.9M230.27 995.14h.9M240.19 993.23h.9M230.91 996.2h.9M240.17 991.82h.9M235.48 991.23h.9M231.42 993.82h.9M225.1 985.81h.9M219.51 985.98h.9M239.67 992.51h.9M231.93 994.49h.9M233.13 989.86h.9M240.76 982.73h.9M234.84 989.69h.9M237.87 973.88h.9M229.01 985.2h.9M225.39 991.9h.9M233.2 983.05h.9M226.28 996.07h.9M223.89 993.08h.9M239.45 980.19h.9M234.38 1001.84h.9M238.32 995.79h.9M222.96 999.69h.9M236.86 989.96h.9M241.4 993.76h.9M241.05 992.93h.9M234.47 984.5h.9M239.69 995.97h.9M230.18 999.24h.9M242.29 993.65h.9M224.6 1000.47h.9M242.06 972.02h.9M247.06 980.24h.9M249.97 986.88h.9M231 987.7h.9M226.3 988.24h.9M227.13 1001.06h.9M226.66 1001.36h.9M232.39 991.59h.9M222.45 992.55h.9M233.91 983.36h.9M229.36 994.26h.9M245.18 995.98h.9M247.55 983.94h.9M239.78 990.66h.9M231.3 992.1h.9M225.85 1003.73h.9M232.07 996.11h.9M249.41 982.67h.9M243.36 988.86h.9M227.52 992.24h.9M222.77 997.62h.9M237.06 993.65h.9M235.14 987.1h.9M227.13 998.32h.9M227 981.93h.9M227.97 985.41h.9M230.16 993.74h.9M225.68 995.22h.9M229.24 987.64h.9M239.78 990.6h.9M232.05 984.4h.9M230.84 991.53h.9M236.95 994.17h.9M230.38 994.83h.9M236.53 985.8h.9M237.19 987.64h.9M225.14 999.54h.9M232.35 989.26h.9M242.43 979.42h.9M224.36 999.37h.9M234.05 995.09h.9M248.02 978.12h.9M234.91 984.25h.9M225.08 994.17h.9M230.3 991.04h.9" stroke="#333" stroke-width="1" fill="none"/>
<path d="M283.14 945.04h.9M272.44 943.95h.9M290.17 940.98h.9M290.21 963.24h.9M274.86 957.32h.9M290.71 929.07h.9M290.86 955.36h.9M276.14 964.25h.9M267.17 960.53h.9M285.54 941.97h.9M284.13 937.98h.9M288.6 954.51h.9M294.19 961.39h.9M276.97 954.13h.9M277.61 927.04h.9M291.72 959.51h.9M285.15 964.03h.9M282.62 936.32h.9M279.01 947.96h.9M285.6 946.89h.9M263.06 940.24h.9M281.81 959.1h.9M277.18 939.7h.9M278.83 957.43h.9M294.34 942.29h.9M289.26 960.71h.9M290.3 941.3h.9M288.56 946.14h.9M278.57 965.54h.9M282.8 954.16h.9M294.11 963.28h.9M285.64 945.23h.9M282.69 944.7h.9M282.05 949.2h.9M269.72 943.81h.9M270.35 949.65h.9M290.36 955.96h.9M284.82 942.44h.9M282.53 939.19h.9M288.25 937.75h.9M277.37 963.92h.9M286.87 942.29h.9M281.18 941.89h.9M275.92 946.74h.9M275.49 951.63h.9M292.77 943.21h.9M274.73 943.62h.9M277.57 951.1h.9M277.09 943.07h.9M276.99 957.97h.9M291.87 958.46h.9M284.76 942.52h.9M295.48 967.84h.9M277.24 945.21h.9M292.91 955.61h.9M286.7 966.79h.9M281.49 943.7h.9M279.8 951.88h.9M284.83 960.1h.9M290.03 944.33h.9M278.98 960.21h.9M288.28 973.56h.9M263.01 967.64h.9M254.49 966.71h.9M271.07 966.66h.9M255.61 953.6h.9M263.42 959.81h.9M278.15 953.86h.9M245.89 956.57h.9M279.37 970.72h.9M254.81 968.57h.9M271.37 969.34h.9M272.21 974.65h.9M261.46 983.76h.9M283.33 950.32h.9M251.36 972.33h.9M251.26 954.16h.9M275.86 960.58h.9M271.86 940.41h.9M260.92 967.14h.9M295.03 966.19h.9M270.42 963.26h.9M282.24 968.39h.9M259.31 942.18h.9M267.14 958.03h.9M292 953.38h.9M279.05 941.9h.9M279.32 948.96h.9M270.28 959.86h.9M271.12 961.94h.9M256.1 967.86h.9M259.1 961.41h.9M259.56 961.56h.9M268.44 959.9h.9M260.23 974.02h.9M267.69 962.54h.9M243.38 967.81h.9M250.76 959.73h.9M245.07 980.81h.9M248.38 959.12h.9M254.55 948.96h.9M248.5 976.37h.9M295.57 960.41h.9M279.55 956.78h.9M256.61 979.93h.9M277.35 950.11h.9M268.28 961.43h.9M266.12 960.74h.9M261.58 960.83h.9M264.51 958.34h.9M260.37 977.15h.9M264.37 959.44h.9M272.5 961.8h.9M253.8 970.24h.9M254.77 954.91h.9M274.42 959.43h.9M260.87 961.61h.9M259.12 955.47h.9M255.17 948.97h.9M257.41 961.88h.9M257.56 983.13h.9M261.49 986.81h.9M276.42 980.78h.9M254.06 994.88h.9M271.56 989.5h.9M251.07 981.79h.9M268.8 987.49h.9M266.24 998.11h.9M251.16 1005.56h.9M254.99 997.65h.9M261.45 984.71h.9M251.37 985.53h.9M255.39 988.86h.9M255.71 988.16h.9M264.93 985.49h.9M253.41 984.24h.9M264.28 999.61h.9M250.98 984.8h.9M291.23 993.09h.9M261.75 981.95h.9M250.06 991.35h.9M277.03 990.71h.9M280.37 1007.09h.9M275.74 987.64h.9M279.35 984.4h.9M249.79 987.98h.9M258.06 981.71h.9M254.91 984.19h.9M261.9 985.85h.9M260.92 984h.9M256.46 986.89h.9M252.36 989.62h.9M259 989.77h.9M252.16 983.65h.9M251.94 985.56h.9M267.13 983.4h.9M249.6 995.03h.9M259.84 996.64h.9M255.19 986.85h.9M257.89 985.16h.9M249.8 984.51h.9M255.23 1001.18h.9M276.69 986.14h.9M261.91 989.87h.9M260.24 981.41h.9M256.89 993.07h.9M251.83 989.59h.9M250.22 986.18h.9M278.61 992.02h.9M253.42 994.96h.9M258.21 988.15h.9M250.3 981.53h.9M262.75 992.52h.9M277.48 981.11h.9M260.09 983.81h.9M255.62 984.69h.9M270.92 982.9h.9M257.02 995.16h.9M271.22 980.86h.9M257.92 996.33h.9M254.79 984.27h.9M257.51 998.15h.9M262.35 991.46h.9M265.36 999.04h.9M275.63 982.71h.9M250.84 991.37h.9M254.78 990.81h.9M269.68 995.98h.9M268.27 985.5h.9M252.17 987.36h.9M255.41 989.61h.9M260.78 993.13h.9M269.55 990.35h.9M256.76 993.59h.9M257.88 982.62h.9M260.32 988.33h.9M254.95 985.48h.9M256.53 994.53h.9M262.54 993.52h.9M257.92 987.81h.9M263.22 996.53h.9M259.82 983.74h.9M269.81 981.66h.9M250.94 998.24h.9M257.83 980.65h.9M267.2 980.97h.9M256.48 981.11h.9M255.56 1002.47h.9" stroke="#666" stroke-width="0.9" fill="none"/>
<line x1="249.6" y1="900.4" x2="249.6" y2="1011.3" stroke="#222" stroke-width="1.1"/>
<line x1="202.6" y1="978.6" x2="313.5" y2="978.6" stroke="#666" stroke-width="1.2"/>
<line x1="202.6" y1="900.4" x2="202.6" y2="1011.3" stroke="#444" stroke-width="1"/>
<line x1="202.6" y1="1011.3" x2="313.5" y2="1011.3" stroke="#444" stroke-width="1"/>
<line x1="200.6" y1="1011.3" x2="202.6" y2="1011.3" stroke="#000" stroke-width="0.8"/>
<text x="195.6" y="1013" font-size="5" text-anchor="middle" fill="#222">10<tspan font-size="3.4" dy="-1.6">0</tspan></text>
<line x1="202.6" y1="1011.3" x2="202.6" y2="1013.3" stroke="#000" stroke-width="0.8"/>
<text x="202.6" y="1018.5" font-size="5" text-anchor="middle" fill="#222">10<tspan font-size="3.4" dy="-1.6">0</tspan></text>
<line x1="200.6" y1="989.12" x2="202.6" y2="989.12" stroke="#000" stroke-width="0.8"/>
<text x="195.6" y="990.82" font-size="5" text-anchor="middle" fill="#222">10<tspan font-size="3.4" dy="-1.6">1</tspan></text>
<line x1="224.78" y1="1011.3" x2="224.78" y2="1013.3" stroke="#000" stroke-width="0.8"/>
<text x="224.78" y="1018.5" font-size="5" text-anchor="middle" fill="#222">10<tspan font-size="3.4" dy="-1.6">1</tspan></text>
<line x1="200.6" y1="966.94" x2="202.6" y2="966.94" stroke="#000" stroke-width="0.8"/>
<text x="195.6" y="968.64" font-size="5" text-anchor="middle" fill="#222">10<tspan font-size="3.4" dy="-1.6">2</tspan></text>
<line x1="246.96" y1="1011.3" x2="246.96" y2="1013.3" stroke="#000" stroke-width="0.8"/>
<text x="246.96" y="1018.5" font-size="5" text-anchor="middle" fill="#222">10<tspan font-size="3.4" dy="-1.6">2</tspan></text>
<line x1="200.6" y1="944.76" x2="202.6" y2="944.76" stroke="#000" stroke-width="0.8"/>
<text x="195.6" y="946.46" font-size="5" text-anchor="middle" fill="#222">10<tspan font-size="3.4" dy="-1.6">3</tspan></text>
<line x1="269.14" y1="1011.3" x2="269.14" y2="1013.3" stroke="#000" stroke-width="0.8"/>
<text x="269.14" y="1018.5" font-size="5" text-anchor="middle" fill="#222">10<tspan font-size="3.4" dy="-1.6">3</tspan></text>
<line x1="200.6" y1="922.58" x2="202.6" y2="922.58" stroke="#000" stroke-width="0.8"/>
<text x="195.6" y="924.28" font-size="5" text-anchor="middle" fill="#222">10<tspan font-size="3.4" dy="-1.6">4</tspan></text>
<line x1="291.32" y1="1011.3" x2="291.32" y2="1013.3" stroke="#000" stroke-width="0.8"/>
<text x="291.32" y="1018.5" font-size="5" text-anchor="middle" fill="#222">10<tspan font-size="3.4" dy="-1.6">4</tspan></text>
<line x1="200.6" y1="900.4" x2="202.6" y2="900.4" stroke="#000" stroke-width="0.8"/>
<text x="195.6" y="902.1" font-size="5" text-anchor="middle" fill="#222">10<tspan font-size="3.4" dy="-1.6">5</tspan></text>
<line x1="313.5" y1="1011.3" x2="313.5" y2="1013.3" stroke="#000" stroke-width="0.8"/>
<text x="313.5" y="1018.5" font-size="5" text-anchor="middle" fill="#222">10<tspan font-size="3.4" dy="-1.6">5</tspan></text>
<text x="258.05" y="1023.3" font-size="5" text-anchor="middle" fill="#222">FL1-Log_Height Comp</text>
<text font-size="5" text-anchor="middle" fill="#222" transform="translate(190.6 952.85) rotate(-90)">FL3-Log_Height Comp</text>
<text x="205.1" y="906.9" font-size="5.6" fill="#333">R2</text>
<text x="312" y="906.9" font-size="5.6" text-anchor="end" fill="#333">R3</text>
<text x="205.1" y="1007.8" font-size="5.6" fill="#333">R4</text>
<text x="312" y="1007.8" font-size="5.6" text-anchor="end" fill="#333">R5</text>
<rect x="58.5" y="1048" width="111.3" height="111.3" fill="#fff" stroke="#777" stroke-width="0.8"/>
<g transform="translate(88 1139.8) rotate(-50)"><ellipse rx="15.5" ry="12" fill="#585858" filter="url(#bl)"/><ellipse rx="6.51" ry="5.04" fill="#858585" filter="url(#bl2)"/></g>
<path d="M95.2 1146.8h.9M74.7 1137.36h.9M92.93 1140.77h.9M93.24 1139.41h.9M85.05 1137.92h.9M83.59 1143.67h.9M91.55 1146.06h.9M86.03 1130.17h.9M92.75 1134.88h.9M102.86 1138.65h.9M83.12 1128.32h.9M84.77 1128.6h.9M94.44 1126.42h.9M97.39 1148.59h.9M79.54 1151.31h.9M80.56 1144.4h.9M88.22 1147.74h.9M89.26 1143.02h.9M83.96 1127.97h.9M95.67 1129.25h.9M76.61 1147.67h.9M99.15 1138.08h.9M85.89 1144.54h.9M95.83 1142.4h.9M93.48 1144.66h.9M80.54 1142.35h.9M96.64 1138.24h.9M92.06 1142.46h.9M94.33 1141.48h.9M98.39 1134.04h.9M91.77 1132.37h.9M73.99 1133.07h.9M91.67 1136.95h.9M82.55 1127.9h.9M83.64 1140.35h.9M83.82 1155.47h.9M89.48 1125.89h.9M100.61 1144.04h.9M87.54 1151.89h.9M107.74 1137.03h.9M76.11 1144.01h.9M96.61 1143.35h.9M78.31 1144.67h.9M88.7 1151.77h.9M89.06 1145.75h.9M98.85 1140.26h.9M93.33 1138.21h.9M98.2 1133.86h.9M79.37 1145.64h.9M95.04 1134.08h.9M88.53 1142.95h.9M107.58 1117.14h.9M94.32 1138.29h.9M93.89 1146.53h.9M96.12 1135.53h.9M88.17 1154.07h.9M93.11 1134.05h.9M73.8 1157.32h.9M81.22 1146.66h.9M82.06 1139.34h.9M95.52 1133.24h.9M91.17 1127.05h.9M95.23 1146.75h.9M87.3 1134.19h.9M81.14 1142.92h.9M92.32 1143.1h.9M93.96 1141.84h.9M94.57 1134.43h.9M100.31 1134.1h.9M87.33 1140.05h.9M85.28 1136.44h.9M81.86 1148.7h.9M89.37 1145.53h.9M86.36 1143.97h.9M87.89 1136.15h.9M86.54 1135.09h.9M90.95 1145.9h.9M91.36 1136.92h.9M88.38 1147.84h.9M89.11 1116.67h.9M96.22 1133.44h.9M101.42 1137.26h.9M92.48 1153.94h.9M84.54 1142.43h.9M92.25 1134.97h.9M87.99 1135.51h.9M83.41 1146.58h.9M89.98 1152.72h.9M97.81 1144.03h.9M71.34 1138.85h.9M74.35 1153.19h.9M83.75 1149.76h.9M73.74 1143.3h.9M88.67 1135.95h.9M97.15 1138.53h.9M84.82 1131.88h.9M96.02 1155.23h.9M89.37 1142.35h.9M89.69 1138.6h.9M85.24 1138.25h.9M75.76 1134.25h.9M97.95 1127.9h.9M84.43 1150.61h.9M85.39 1128.8h.9M93.96 1149.54h.9M94.39 1137.78h.9M94.05 1132.31h.9M95.74 1148.47h.9M87.69 1140.44h.9M92.89 1135.43h.9M92 1156.06h.9M98.03 1147.85h.9M87.27 1132.2h.9M96.91 1128.44h.9M84.15 1145.19h.9M79.18 1155.67h.9M83.74 1143.34h.9M87.63 1148.47h.9M96.74 1141.85h.9M99.93 1129.64h.9M91.23 1140.26h.9M81.72 1142.62h.9M88.91 1130.77h.9M76.41 1151h.9M98.17 1144.24h.9M80.26 1140.28h.9M88.85 1138.24h.9M87.84 1135.65h.9M87.22 1135.71h.9M96.06 1134.19h.9M90.02 1133.83h.9M81.11 1149.2h.9M94.48 1144.69h.9M94.31 1132.96h.9M83.71 1135.58h.9M89.93 1140.76h.9M81.15 1137.64h.9M91.45 1127.02h.9M104.41 1133.66h.9M93.32 1125.6h.9M85.38 1129.37h.9M79.14 1135.38h.9M82.34 1142.27h.9M99.95 1137.86h.9M85.48 1140.8h.9M77.88 1140.91h.9M77.93 1150.52h.9M88.35 1132.32h.9M85.09 1132.18h.9M80.62 1143.96h.9M91.18 1131.46h.9M91.4 1132.99h.9M72.47 1138.29h.9M81.36 1138.6h.9M96.23 1135.49h.9M84.13 1154.07h.9M76.98 1123.58h.9M84.34 1147.56h.9M76.31 1147.03h.9M93.04 1137.23h.9M94.51 1139.26h.9M96.19 1155.69h.9M102.71 1145.34h.9M90.26 1143.77h.9M89.99 1136.72h.9M91.91 1138.65h.9M94.99 1135.62h.9M91.65 1141.33h.9M97.21 1130.39h.9M92.9 1136.23h.9M73.39 1148.7h.9M76.67 1139.71h.9M76.41 1136.15h.9M87.58 1135.55h.9M97.54 1133.19h.9M80.67 1147.06h.9M85.61 1136.42h.9M81.3 1137.37h.9M86.17 1145.61h.9M93.1 1146.96h.9M73.08 1150.14h.9M94.24 1148.36h.9M98.73 1135.55h.9M102.21 1140.03h.9M91.26 1134.21h.9M86.06 1135.36h.9M89.35 1142.7h.9M86.45 1143.38h.9M79.62 1136.89h.9M84.27 1152.02h.9M93.03 1142.98h.9M88.02 1140.28h.9M88.37 1136.48h.9M101.25 1134.9h.9M85.48 1132.63h.9M86.67 1144.05h.9M94.69 1131.92h.9M91.01 1142.08h.9M88.34 1138.26h.9M88.49 1152.26h.9M85.54 1137.85h.9M81.15 1134.76h.9M70.18 1143.11h.9M83.71 1131.67h.9M82.96 1133.96h.9M75.45 1148.72h.9M80.75 1141.63h.9M98.74 1129.32h.9M89.4 1147.3h.9M92.63 1146.99h.9M85.15 1154.54h.9M78.58 1143.71h.9M83.88 1133.88h.9M77.2 1148.79h.9M78.23 1134.76h.9M89.33 1129.91h.9M83.56 1142.84h.9M93.71 1143.94h.9M76.34 1153.86h.9M94.14 1135h.9M82.03 1135.55h.9M87.44 1135.53h.9M83.45 1134.42h.9M85.58 1141.24h.9M85.13 1153.82h.9M80.86 1135.14h.9M87.3 1141.99h.9M80.91 1137.65h.9M79.91 1135.5h.9M84.83 1155.66h.9M106.78 1136.58h.9M107.26 1130.79h.9M80.04 1143.48h.9M91.66 1130.61h.9M85.98 1142.01h.9M83.41 1131.26h.9M90.65 1141.67h.9M82.46 1157.97h.9M88.1 1131.33h.9M100.16 1129.61h.9M98.45 1143.23h.9M73.94 1156.65h.9M101.03 1138.87h.9M86.88 1139.25h.9M82.11 1143.39h.9M71.15 1135.22h.9M79.68 1139.35h.9M82.39 1141.78h.9M85.84 1143.41h.9M85.8 1138.7h.9M84.07 1143.4h.9M85.61 1141.3h.9M96.78 1131.81h.9M75.42 1133.69h.9M65.06 1136.74h.9M98.38 1138.73h.9M83.4 1140.47h.9M93.48 1139.13h.9M77.16 1150.07h.9M79.88 1136.5h.9M99.53 1133.74h.9M84.43 1143.57h.9M82.4 1141.26h.9M91 1146.72h.9M85.62 1137.76h.9M85.56 1145.37h.9M75.02 1138.66h.9M95.26 1147.46h.9M85.05 1144.93h.9M93.11 1146.3h.9M84.17 1131.31h.9M97.59 1128.44h.9M80.41 1143.65h.9M93.77 1143.97h.9M82.69 1138.5h.9M103.2 1137.8h.9M86.73 1142.71h.9M88.5 1136.07h.9M88.24 1150.22h.9M72.69 1139.17h.9M97.06 1140.92h.9M88.57 1131.2h.9M81.12 1136.78h.9M72.66 1132.8h.9M90.19 1151.37h.9M90.32 1154.81h.9M79 1130.32h.9M88.33 1129.57h.9M90.13 1135.43h.9M85.18 1141.35h.9M76.92 1145.2h.9M94.82 1149.99h.9M86.51 1144.96h.9M96.73 1142.04h.9M87.77 1142.18h.9M95.77 1156.68h.9M81.14 1150.66h.9M86.98 1142.77h.9M82.88 1141.33h.9M98.33 1137.37h.9M86.98 1139.68h.9M88.71 1138.25h.9M94.36 1140.14h.9M82.68 1129.96h.9M82.4 1135.6h.9M89.07 1135.63h.9M89.31 1137.44h.9M100.13 1139.42h.9M81.51 1132.3h.9M98.25 1148.2h.9M83.97 1143.95h.9M110.17 1130.94h.9M92.85 1136.51h.9M89.21 1155.4h.9M84.63 1126.59h.9M86.87 1140h.9M84.46 1137.37h.9M97.38 1119.76h.9M99.43 1132.88h.9M90.51 1141.63h.9M88.32 1131.57h.9M92.29 1147.34h.9M95.38 1135.25h.9M73.38 1140.66h.9M103.78 1136.13h.9M93.05 1138.07h.9M88.99 1144.03h.9M98.72 1135.14h.9M87.09 1144.84h.9M84.95 1142.94h.9M70.23 1136.91h.9M83.47 1147.4h.9M86.66 1147.23h.9M86.7 1144.68h.9M93.02 1148.89h.9M86.2 1142.43h.9M102.1 1138.58h.9M89.36 1153.59h.9M77.55 1142.59h.9M88.8 1149.5h.9M85.42 1149.18h.9M89.64 1136.18h.9M101.33 1145.53h.9M92.91 1125.64h.9M87.82 1136.32h.9M84.89 1138.32h.9M87.03 1132.54h.9M81.79 1148.04h.9M96.23 1142.76h.9M87.68 1131.65h.9M84.95 1147.11h.9M93.49 1141.08h.9M84.29 1121.58h.9M87.77 1146.07h.9M90.92 1153.82h.9M90.93 1142.81h.9M89.04 1142.56h.9M93.33 1139.4h.9M71.21 1140.59h.9M91.95 1143.63h.9M86.2 1140.63h.9M97.57 1135.51h.9M84.06 1146.6h.9M87.57 1141.35h.9M90.94 1142.7h.9M90.07 1141.23h.9M87.56 1138.62h.9M86.7 1144.58h.9M98.84 1143.48h.9M98.62 1120.7h.9M90.17 1148.41h.9M86.82 1142.95h.9M84.57 1150.46h.9M85.54 1153.43h.9M85.08 1146.11h.9M89.62 1129.71h.9M98.56 1149.45h.9M81.48 1149.34h.9M79.35 1154.13h.9M81.89 1136.06h.9M88.26 1152.71h.9M86.03 1130.26h.9M88.24 1130.5h.9M86.13 1146.59h.9M90.51 1142.68h.9M91.18 1129.97h.9M92.98 1137.39h.9M83.38 1153.84h.9M87.01 1127.36h.9M91.61 1145.95h.9M91.51 1132.32h.9M85.65 1139.94h.9M82.3 1148.13h.9M92.81 1119.99h.9M83.53 1135.9h.9M88.39 1122.93h.9M95.56 1135.76h.9M82.2 1143.94h.9M97.41 1146.56h.9M95.97 1142.92h.9M94.76 1133.18h.9M88.37 1139.17h.9M103.99 1134.56h.9M90.52 1130.56h.9M90.8 1144.76h.9M80.63 1135.12h.9M82.63 1151.4h.9M95.35 1137h.9M89 1122.93h.9M79.26 1151.82h.9M88.91 1130.45h.9M91.46 1139.45h.9M81.55 1139.23h.9M86.17 1141.49h.9M90.86 1133.71h.9M77.64 1141.44h.9M88.41 1144.85h.9M81.78 1143.74h.9M92.48 1137.43h.9M101.99 1128.47h.9M102.45 1144.61h.9M69.32 1144.6h.9M84.61 1145.34h.9M98.15 1134.94h.9M78.03 1137.1h.9M88.87 1136.25h.9M76.54 1140.79h.9M90.5 1134.01h.9M88.65 1138.04h.9M81.47 1142.73h.9M84.26 1143.5h.9M87.3 1146.93h.9M83.73 1147.27h.9M91.67 1141.54h.9M87.46 1135.67h.9M83.83 1140.46h.9M88.64 1143.08h.9M78.72 1145.72h.9M73.91 1154.92h.9M82.42 1145.67h.9M96.31 1142.99h.9M81.78 1135.07h.9M87.22 1145.69h.9M84.62 1117.56h.9M76.51 1145.24h.9M89.19 1143.75h.9M97.56 1133.37h.9M91.43 1127.89h.9M74.09 1138.38h.9M85.87 1148.04h.9M96.84 1148.59h.9M79.82 1137.91h.9M79.22 1127.97h.9M92.71 1136.24h.9M81.12 1151.28h.9M93.77 1144.02h.9M82.02 1139.59h.9M85.5 1139.61h.9M85.11 1150.91h.9M87.72 1130.85h.9M77.45 1139.33h.9M79.97 1140.37h.9M89.24 1143.22h.9M89.49 1126.46h.9M75.79 1140.38h.9M89.55 1143.84h.9M80.83 1146.02h.9M73.12 1140.75h.9M86.93 1147.3h.9M74.77 1135.16h.9M78.53 1145.52h.9M90.43 1122.37h.9M106.01 1126.05h.9M97.34 1135.98h.9M72.78 1157.95h.9M89.68 1140.87h.9M92.42 1131.62h.9M83.8 1147.61h.9M88.99 1141.09h.9M83.19 1143.05h.9M92.23 1133.84h.9M88.81 1143.35h.9M83.32 1141.34h.9M104.54 1136.35h.9M73.44 1149.38h.9M91.83 1141.49h.9M76.94 1145.59h.9M96.19 1140.95h.9M79.78 1145.02h.9M90.72 1146.84h.9M91.39 1138.75h.9M101.14 1131.18h.9M95.6 1146.12h.9M103.47 1135.45h.9M99.39 1129.54h.9M74.1 1151.96h.9M88.16 1138.58h.9M93.14 1136.11h.9M101.32 1129.55h.9M99.05 1138.75h.9M93.38 1128.01h.9M95.7 1130.19h.9M95.73 1143.36h.9M85.32 1149.57h.9M96.13 1154.99h.9M96.04 1129.34h.9M74.78 1156.02h.9M89.12 1137.42h.9M88.37 1136.11h.9M93.62 1137.44h.9M87.88 1148.51h.9M90.17 1135.55h.9M79.31 1140.48h.9M112.81 1134.58h.9M90 1132.63h.9M88.09 1131.52h.9M71.91 1138.1h.9M81 1140.69h.9M95.65 1134.41h.9M82.24 1142.79h.9M86.7 1140.49h.9M93.68 1144.79h.9M80.37 1150.7h.9M92.59 1142.61h.9M83.41 1136.94h.9M98.2 1139.25h.9M89.16 1149.5h.9M99.71 1120.59h.9M78.64 1124.3h.9M84.78 1134.29h.9M89.52 1135.81h.9M95.46 1142.7h.9M98.13 1137.5h.9M83.43 1143.27h.9M85.8 1138.14h.9M83.92 1145.26h.9M89.76 1135.52h.9M87.12 1151.92h.9M93.59 1151.33h.9M90.96 1138.94h.9M95.48 1131.94h.9M82.07 1148.49h.9M78.74 1154.49h.9M91.43 1141.36h.9M97.69 1147.69h.9M86.72 1136.67h.9M104.57 1120.24h.9M91.52 1133.99h.9M86.02 1141.52h.9M84.46 1143.66h.9M84.01 1139.11h.9M81.72 1143.66h.9M76.07 1156.86h.9M71.31 1155.63h.9M83.71 1137.67h.9M97.14 1147.84h.9M85.73 1136.86h.9M85.73 1134.47h.9M73.08 1148.71h.9M89.42 1134.99h.9M93.81 1139.2h.9M68.75 1146.36h.9M75.65 1140.22h.9M85.56 1132.22h.9M87.39 1153.44h.9M72.52 1143.58h.9M94.03 1132.41h.9M88.59 1143.56h.9M81.66 1142.83h.9M90.92 1147.52h.9M79.31 1134.77h.9M82.12 1150.51h.9M71.52 1143.08h.9M74.69 1137.45h.9M98.47 1147.34h.9M98.4 1128.12h.9M96.11 1131.42h.9M90.48 1142.89h.9M85.12 1137.66h.9M85.14 1139.35h.9M94.33 1142.21h.9M77.56 1145.78h.9M88.83 1154.7h.9M92.11 1136.09h.9M86.42 1150.47h.9M72.82 1140.21h.9M89.24 1150.21h.9M84.04 1138.88h.9M88.04 1147.95h.9M78.91 1143.22h.9M92.99 1139.15h.9M88.8 1142.71h.9M78.88 1129.02h.9M84.06 1137.29h.9M86.13 1140.65h.9M92.77 1141.75h.9" stroke="#333" stroke-width="1" fill="none"/>
<path d="M136.93 1090.09h.9M139.97 1093.14h.9M133.45 1093.78h.9M147.42 1090.46h.9M131.88 1097.09h.9M151.24 1095.81h.9M152.08 1099.31h.9M142.36 1092.18h.9M157.13 1097.11h.9M140.63 1100.08h.9M138.24 1091.53h.9M151.21 1098.59h.9M140.18 1098.45h.9M147.88 1082.7h.9M142.18 1098.29h.9M144.44 1088.5h.9M147.94 1090.89h.9M148.03 1095.27h.9M149.74 1089.99h.9M154.4 1092.42h.9M141.81 1091.05h.9M142.35 1094.41h.9M141.27 1096.93h.9M146.63 1092.79h.9M142.67 1094.79h.9M148.68 1100.24h.9M137.55 1097.28h.9M147.36 1086.93h.9M145.74 1101.95h.9M140.18 1087.8h.9M130.07 1093.81h.9M141.68 1092.86h.9M148.09 1087.69h.9M142.32 1102.46h.9M152.27 1090.51h.9M132.27 1095.26h.9M145.12 1094.7h.9M137.41 1097.31h.9M137.92 1088.18h.9M137.64 1093.35h.9M142.6 1087.54h.9M145.46 1100.23h.9M133.1 1096.2h.9M138.27 1080.05h.9M144.04 1087.93h.9M141 1090.25h.9M126 1088.83h.9M147.99 1097.51h.9M134.78 1097.23h.9M146.76 1100.95h.9M155.14 1102.24h.9M150.95 1097.4h.9M143.34 1087.55h.9M142.72 1098.6h.9M148.59 1090.45h.9M129.58 1089.15h.9M132.45 1094.81h.9M134.25 1088.4h.9M141.1 1092.02h.9M144.1 1097.88h.9M144.85 1100.48h.9M138.42 1096.25h.9M160.87 1095.75h.9M139.31 1094.21h.9M142.03 1092.04h.9M152.15 1103.41h.9M140.59 1089.81h.9M149.86 1099.88h.9M143.69 1098.35h.9M141.8 1100.82h.9M143.48 1095.57h.9M147.67 1088.9h.9M144.92 1095.19h.9M149.49 1090.75h.9M131.13 1090.61h.9M146.22 1094.25h.9M145.88 1101.37h.9M149.24 1098.1h.9M145.04 1089.02h.9M142.51 1092.63h.9M137.63 1094.44h.9M140.68 1089.45h.9M136.59 1084.82h.9M153.4 1090.12h.9M139.22 1081.57h.9M142.29 1094.33h.9M145.31 1089.45h.9M135.95 1104.38h.9M140.8 1095.47h.9M143.78 1093.68h.9M152.22 1096.39h.9M147.88 1100.97h.9M148.38 1093.98h.9M136.72 1098.18h.9M143.07 1086.38h.9M147.44 1103.11h.9M149.49 1095.68h.9M153.16 1096.57h.9M137.04 1094.84h.9M147.51 1092.43h.9M138.14 1087.53h.9M152.68 1097.6h.9M138.14 1100.71h.9M143.51 1089.38h.9M138.53 1097.06h.9M149.67 1097.71h.9M141.06 1081.38h.9M136.3 1096.06h.9M136.9 1087.37h.9M135.66 1083.15h.9M151.85 1083.06h.9M136.33 1096.13h.9M146.95 1099.12h.9M137.79 1093.54h.9M154.63 1089.7h.9M145.56 1090.09h.9M133.06 1089.11h.9M137.23 1098.09h.9M148.48 1105.02h.9M137.51 1091.49h.9M146.42 1090.82h.9M137.36 1092.89h.9M149.05 1090.36h.9M153.9 1090.79h.9M149.49 1098.19h.9M139.95 1094.06h.9M151.29 1087.43h.9M150.23 1092.84h.9M148.8 1099.64h.9M145.9 1090.52h.9M143.8 1088.17h.9M130.44 1103.23h.9M138.36 1081.33h.9M145.16 1084.62h.9M145.74 1101.94h.9M151.72 1098.89h.9M141.11 1089.22h.9M130.02 1087.58h.9M141.37 1090.06h.9M153.59 1091.93h.9M119.64 1121.81h.9M115.33 1120.77h.9M133.24 1100.02h.9M137.83 1106.4h.9M116.83 1117.92h.9M126.82 1104.39h.9M141.01 1128.28h.9M124.69 1103.07h.9M120.04 1111.95h.9M143.44 1089.68h.9M152.17 1115.18h.9M125.82 1144.34h.9M147.09 1133.74h.9M119.29 1124.65h.9M97.82 1103.52h.9M108.2 1126.73h.9M132.26 1093.27h.9M141.59 1114.19h.9M134.79 1148.68h.9M95.96 1121.93h.9M114.22 1114.59h.9M134.29 1127.74h.9M139.62 1118.08h.9M85.94 1104.4h.9M128.07 1106.07h.9M114.38 1119.89h.9M126.21 1104.44h.9M120.41 1100.66h.9M113.05 1102.97h.9M139.92 1130.67h.9M133.02 1100.42h.9M117.37 1115.96h.9M115.29 1120.06h.9M150.94 1128.53h.9M113.39 1113.13h.9M124.37 1117.1h.9M108.68 1112.02h.9M128.82 1099.77h.9M127.11 1117.13h.9M122.57 1103.16h.9M128.86 1114.12h.9M111.16 1107.1h.9M124.53 1098.61h.9M131.67 1102.56h.9M104.95 1124.14h.9M144.78 1094.04h.9M117.09 1097.39h.9M92.25 1122.31h.9M116.65 1120.67h.9M117.16 1096.14h.9M136.97 1104.07h.9M137.28 1092.38h.9M148.15 1130.16h.9M113.49 1083.72h.9M92.46 1106.15h.9M91.61 1104.28h.9M128.36 1102.46h.9M132.12 1105.24h.9M110.35 1109.37h.9M112.81 1113.58h.9M116.14 1128.52h.9M109.47 1118.57h.9M130.58 1115.72h.9M119.05 1098.57h.9M93.01 1099.19h.9M135.5 1114.94h.9M138.61 1094.82h.9M128.04 1103.49h.9M96.73 1120.05h.9M149.76 1106.3h.9M139.37 1107.86h.9M106.44 1085.83h.9M136.41 1124.11h.9M117.31 1123.44h.9M137.49 1101.18h.9M138.89 1119.89h.9M114 1105.02h.9M129.47 1100.49h.9M104.76 1112.17h.9M158.74 1114.36h.9M115.84 1103.09h.9M148.45 1099.5h.9M109.51 1102.03h.9M120.83 1102.05h.9M121.65 1110.71h.9M145.37 1115.47h.9M94.56 1105.85h.9M108 1094.98h.9M117.3 1099.43h.9M123.69 1102.6h.9M146.74 1106.87h.9M102.76 1116.87h.9M112.35 1113.63h.9M96.81 1087.09h.9M96.62 1096.67h.9M93.72 1129.11h.9M149.24 1101.11h.9M155.08 1123.39h.9M108.68 1104.71h.9M133.57 1095.54h.9M135.06 1096.45h.9M142.2 1135.14h.9M128.63 1124.19h.9M125.9 1114.52h.9M108.67 1110.37h.9M148.78 1124.11h.9M104.94 1103.8h.9M133.34 1119.16h.9M123.66 1093.52h.9M113.66 1116.77h.9M140.09 1102.23h.9M130.93 1127.38h.9M108.95 1095.5h.9M122.82 1123.19h.9M122.31 1112.91h.9M102.26 1112.31h.9M90.35 1110.05h.9M117.11 1127.42h.9M135.87 1092.46h.9M148.13 1136.61h.9M126.7 1112.89h.9M113.84 1104.49h.9M120.28 1115.91h.9M126.49 1106.94h.9M104.12 1142.83h.9M142.37 1123.31h.9M114.91 1101.62h.9M118.22 1104.94h.9M139.98 1089.72h.9M123.45 1106.9h.9M120.64 1116.28h.9M127.73 1109.71h.9M129.25 1081.2h.9M135.32 1106.25h.9M130.81 1105.73h.9M100.81 1118.11h.9M114.24 1113.08h.9M112.81 1102.32h.9M141.67 1091.55h.9M150.77 1121.15h.9M127.59 1118.08h.9M163.4 1107.9h.9M95.08 1098.82h.9M114.86 1104.89h.9M101.54 1108.59h.9M135.99 1116.83h.9M126.75 1092.72h.9M132.75 1112.82h.9M133.24 1109.03h.9M144.2 1096.57h.9M121.68 1119.23h.9M118.71 1114.16h.9M143.08 1143.83h.9M94.44 1110.37h.9M128.17 1102.1h.9M124.27 1088.09h.9M138.01 1115.58h.9M109.34 1119.83h.9M108.53 1105.13h.9M160.19 1089.85h.9M92 1114.27h.9M128.06 1136.23h.9M149.59 1115.48h.9M104.08 1100.47h.9M118.29 1126.68h.9M113.99 1112.28h.9M103.27 1117.04h.9M157.41 1108.46h.9M118.97 1097.26h.9M121.09 1101.69h.9M105.09 1126.48h.9M122.55 1113.63h.9M128.86 1110.99h.9M124 1106.04h.9M132.35 1098.22h.9M109.57 1109.03h.9M124.81 1090.59h.9M113.56 1097.52h.9M122.58 1125.17h.9M107.11 1114.96h.9M144.91 1107.17h.9M132.32 1097.5h.9M95.76 1120.46h.9M126.01 1130.53h.9M123.13 1101.25h.9M139.46 1131.77h.9M139.55 1102.55h.9M129.22 1117.59h.9M114.29 1106.59h.9M146.76 1115.95h.9M129.81 1106.91h.9M129 1108.67h.9M127.43 1116.18h.9M111.77 1112.19h.9M113.84 1110.79h.9M99.87 1108.47h.9M117.68 1116.15h.9M118.5 1091.8h.9M124.21 1070.84h.9M112.14 1122.85h.9M117.42 1135.65h.9M119.26 1133.23h.9M116.78 1137.29h.9M109.62 1145.73h.9M128.7 1144.98h.9M109.1 1137.57h.9M135.25 1133.52h.9M114.01 1137.97h.9M111.33 1129.51h.9M123.57 1146.63h.9M115.79 1148.39h.9M106.74 1134.95h.9M113.01 1137.65h.9M123.01 1145.13h.9M105.63 1146.43h.9M113.42 1137.02h.9M120.01 1147.36h.9M114.81 1133.22h.9M128.34 1135.02h.9M116.14 1133.56h.9M122.48 1150.59h.9M112.85 1132.06h.9M113.78 1130.25h.9M108.95 1149.63h.9M118.38 1134.21h.9M105.67 1131.93h.9M107.76 1142.52h.9M121.12 1132.94h.9M121.56 1135.48h.9M107.25 1132.46h.9M106.2 1132.62h.9M123.82 1130.68h.9M128.11 1129.53h.9M117.56 1139.84h.9M121.62 1139.42h.9M106.13 1137.49h.9M117.2 1134.92h.9M107.8 1142.12h.9M113.66 1138.34h.9M121.48 1131.09h.9M112.3 1135.72h.9M118.21 1143.61h.9M107.93 1153.42h.9M106.5 1133.34h.9M109.83 1131.61h.9M124.3 1139.09h.9M123.87 1134.64h.9M121.59 1131.73h.9M114.25 1131.15h.9M105.63 1145.76h.9M107.83 1146.27h.9M127.41 1135.68h.9M110.8 1134.59h.9M105.13 1131.32h.9M119.94 1139.27h.9M105.49 1129.85h.9M117.31 1141.95h.9M112.13 1149.64h.9M109.76 1138h.9M106.82 1131.69h.9M111.87 1133.93h.9M107.66 1152.23h.9M115.25 1143.12h.9M116.67 1136.51h.9M113.59 1146.74h.9M113.53 1129.68h.9M112.1 1144.86h.9M119.16 1145.73h.9M116.35 1140.32h.9M128.23 1142.36h.9M107.5 1132.14h.9M109.24 1154.88h.9M113.54 1136.05h.9M115.45 1147.52h.9M105.09 1137.08h.9M110.83 1147.54h.9M110.73 1149.65h.9M112.72 1140.7h.9M123.54 1137h.9M108.17 1130.67h.9M109.66 1145.26h.9M126.88 1144.36h.9M110.65 1134.09h.9M109.11 1145.7h.9M117.22 1154.86h.9M105.3 1132.64h.9M108.36 1136.15h.9M113.16 1139.35h.9M119.42 1136.47h.9M110.36 1132.64h.9M111.97 1134.94h.9M107.67 1155.65h.9M115.35 1136h.9M127.53 1148.08h.9M109.62 1140.64h.9M126.11 1129.75h.9M136.11 1129.37h.9M130.84 1147.8h.9M119.08 1135.61h.9M122.01 1148.37h.9M112.72 1144.01h.9M121.07 1134.12h.9M106.49 1142.83h.9M125.92 1142.25h.9M105.97 1143.96h.9M130.9 1151.98h.9M106.93 1130.48h.9M120.75 1141.93h.9M119.08 1150.84h.9M119.46 1130.73h.9M127 1141.98h.9M105.29 1153.12h.9M111.83 1136.53h.9M115.63 1144.72h.9M105.05 1129.84h.9M116.92 1133.64h.9M120.1 1135.1h.9M112.76 1129.64h.9M140.04 1146.4h.9M113.91 1141.46h.9M121.31 1156.93h.9M135.29 1131.69h.9M109.94 1133.61h.9M118.22 1130.11h.9M110.75 1132.79h.9M116.13 1132.55h.9M105.22 1150.98h.9M110.85 1141.25h.9M110.51 1134.37h.9M109.29 1130.12h.9M111.46 1133.75h.9M127.91 1135.69h.9M123.3 1139.27h.9M138.35 1133.14h.9M115.52 1132.69h.9M113.85 1154.05h.9M109.53 1148.86h.9M115.51 1144.47h.9M111.16 1154.44h.9M116.71 1143.37h.9M128.26 1132.9h.9M123.53 1151.39h.9M116.46 1152.31h.9M108.19 1129.71h.9M113.01 1144.77h.9M107.7 1131.86h.9M116.4 1132.43h.9M110.49 1136.41h.9M111.99 1149.85h.9M106.12 1144.56h.9M116.87 1132.5h.9M115.19 1135.9h.9M127.15 1138.08h.9M138.24 1143.81h.9M126.4 1136.58h.9M112.41 1137.59h.9M108.42 1149.37h.9M111.23 1144.98h.9M116.37 1132.78h.9M125.77 1138.66h.9M109.04 1131.47h.9M115.11 1135.62h.9M125.47 1139.79h.9M125.45 1129.81h.9M126.22 1137.54h.9M125.53 1136.06h.9M121.29 1130.17h.9M109.03 1143.6h.9M124.39 1139.04h.9M123.96 1150.48h.9M115.98 1144.3h.9M108.96 1130.11h.9M112.22 1156.13h.9M107.79 1141.03h.9M126.15 1136.08h.9M125.19 1131.34h.9M125.61 1132.27h.9M117.88 1151.79h.9M119.41 1136.69h.9M124.17 1157.49h.9M111.05 1153.23h.9M133.49 1139.43h.9M113.24 1136.96h.9M116.76 1142.25h.9M116.21 1142.58h.9M110.75 1139.44h.9M131.8 1138.37h.9M108.74 1132.41h.9M135.75 1136.14h.9M116.59 1132.59h.9M105.69 1150.91h.9M115.73 1142.04h.9M109.28 1141.27h.9M111.69 1136.64h.9M137.93 1137.85h.9M119.85 1139.82h.9M113.2 1138.69h.9" stroke="#666" stroke-width="0.9" fill="none"/>
<line x1="105" y1="1048" x2="105" y2="1159.3" stroke="#222" stroke-width="1.1"/>
<line x1="58.5" y1="1127.3" x2="169.8" y2="1127.3" stroke="#666" stroke-width="1.2"/>
<line x1="58.5" y1="1048" x2="58.5" y2="1159.3" stroke="#444" stroke-width="1"/>
<line x1="58.5" y1="1159.3" x2="169.8" y2="1159.3" stroke="#444" stroke-width="1"/>
<line x1="56.5" y1="1159.3" x2="58.5" y2="1159.3" stroke="#000" stroke-width="0.8"/>
<text x="51.5" y="1161" font-size="5" text-anchor="middle" fill="#222">10<tspan font-size="3.4" dy="-1.6">0</tspan></text>
<line x1="58.5" y1="1159.3" x2="58.5" y2="1161.3" stroke="#000" stroke-width="0.8"/>
<text x="58.5" y="1166.5" font-size="5" text-anchor="middle" fill="#222">10<tspan font-size="3.4" dy="-1.6">0</tspan></text>
<line x1="56.5" y1="1137.04" x2="58.5" y2="1137.04" stroke="#000" stroke-width="0.8"/>
<text x="51.5" y="1138.74" font-size="5" text-anchor="middle" fill="#222">10<tspan font-size="3.4" dy="-1.6">1</tspan></text>
<line x1="80.76" y1="1159.3" x2="80.76" y2="1161.3" stroke="#000" stroke-width="0.8"/>
<text x="80.76" y="1166.5" font-size="5" text-anchor="middle" fill="#222">10<tspan font-size="3.4" dy="-1.6">1</tspan></text>
<line x1="56.5" y1="1114.78" x2="58.5" y2="1114.78" stroke="#000" stroke-width="0.8"/>
<text x="51.5" y="1116.48" font-size="5" text-anchor="middle" fill="#222">10<tspan font-size="3.4" dy="-1.6">2</tspan></text>
<line x1="103.02" y1="1159.3" x2="103.02" y2="1161.3" stroke="#000" stroke-width="0.8"/>
<text x="103.02" y="1166.5" font-size="5" text-anchor="middle" fill="#222">10<tspan font-size="3.4" dy="-1.6">2</tspan></text>
<line x1="56.5" y1="1092.52" x2="58.5" y2="1092.52" stroke="#000" stroke-width="0.8"/>
<text x="51.5" y="1094.22" font-size="5" text-anchor="middle" fill="#222">10<tspan font-size="3.4" dy="-1.6">3</tspan></text>
<line x1="125.28" y1="1159.3" x2="125.28" y2="1161.3" stroke="#000" stroke-width="0.8"/>
<text x="125.28" y="1166.5" font-size="5" text-anchor="middle" fill="#222">10<tspan font-size="3.4" dy="-1.6">3</tspan></text>
<line x1="56.5" y1="1070.26" x2="58.5" y2="1070.26" stroke="#000" stroke-width="0.8"/>
<text x="51.5" y="1071.96" font-size="5" text-anchor="middle" fill="#222">10<tspan font-size="3.4" dy="-1.6">4</tspan></text>
<line x1="147.54" y1="1159.3" x2="147.54" y2="1161.3" stroke="#000" stroke-width="0.8"/>
<text x="147.54" y="1166.5" font-size="5" text-anchor="middle" fill="#222">10<tspan font-size="3.4" dy="-1.6">4</tspan></text>
<line x1="56.5" y1="1048" x2="58.5" y2="1048" stroke="#000" stroke-width="0.8"/>
<text x="51.5" y="1049.7" font-size="5" text-anchor="middle" fill="#222">10<tspan font-size="3.4" dy="-1.6">5</tspan></text>
<line x1="169.8" y1="1159.3" x2="169.8" y2="1161.3" stroke="#000" stroke-width="0.8"/>
<text x="169.8" y="1166.5" font-size="5" text-anchor="middle" fill="#222">10<tspan font-size="3.4" dy="-1.6">5</tspan></text>
<text x="114.15" y="1171.3" font-size="5" text-anchor="middle" fill="#222">FL1-Log_Height Comp</text>
<text font-size="5" text-anchor="middle" fill="#222" transform="translate(46.5 1100.65) rotate(-90)">FL3-Log_Height Comp</text>
<text x="61" y="1054.5" font-size="5.6" fill="#333">R2</text>
<text x="168.3" y="1054.5" font-size="5.6" text-anchor="end" fill="#333">R3</text>
<text x="61" y="1155.8" font-size="5.6" fill="#333">R4</text>
<text x="168.3" y="1155.8" font-size="5.6" text-anchor="end" fill="#333">R5</text>
<rect x="202.6" y="1048.3" width="110.9" height="111.7" fill="#fff" stroke="#777" stroke-width="0.8"/>
<g transform="translate(232 1144) rotate(-45)"><ellipse rx="14.5" ry="10.5" fill="#585858" filter="url(#bl)"/><ellipse rx="6.09" ry="4.41" fill="#858585" filter="url(#bl2)"/></g>
<path d="M242.83 1141.08h.9M216.35 1143.81h.9M234.54 1147.68h.9M225.22 1138.87h.9M235.06 1152.66h.9M228.49 1156.07h.9M236.92 1143.02h.9M234.09 1137.44h.9M238.69 1152.02h.9M228.11 1144.46h.9M222.19 1149.99h.9M241.28 1144.93h.9M238.25 1142.93h.9M236.68 1142.07h.9M237.11 1137.75h.9M237.79 1137.69h.9M217.88 1147.75h.9M229.11 1143.23h.9M222.15 1147.7h.9M234.71 1144.6h.9M233.31 1135.75h.9M238.35 1146.07h.9M241.16 1149.16h.9M229.37 1146.62h.9M231.4 1141.38h.9M232.7 1145.21h.9M229.83 1142.16h.9M229.25 1146.17h.9M224.25 1153.27h.9M224.96 1149.09h.9M226.4 1150.43h.9M228.89 1145.05h.9M228.39 1148.57h.9M233.62 1127.92h.9M235.79 1142.05h.9M224.79 1141.03h.9M241.51 1136.02h.9M236.07 1136.97h.9M232.13 1152.55h.9M234.9 1138.72h.9M233.32 1147.68h.9M224.29 1145.07h.9M235.83 1148.26h.9M237.53 1140h.9M238.87 1135.97h.9M238.69 1156.07h.9M231.72 1149.12h.9M235.6 1141.41h.9M236.09 1145.52h.9M232.79 1138.62h.9M237.62 1149.49h.9M234.37 1138.25h.9M228.49 1139.7h.9M222.9 1148.98h.9M238.44 1132.69h.9M220.79 1154.41h.9M231.28 1150.7h.9M237.59 1135.86h.9M229.21 1139.77h.9M235.84 1134.45h.9M241.73 1153.29h.9M227.68 1149.76h.9M233.69 1146.11h.9M240.61 1147.33h.9M237.21 1143.67h.9M226.97 1152.35h.9M229.66 1156.12h.9M235.68 1148.14h.9M230.33 1147.61h.9M234.81 1145.71h.9M229.24 1142.22h.9M227.51 1143.45h.9M222.27 1144.21h.9M223.68 1143.63h.9M238.71 1139.68h.9M235.94 1149.22h.9M238.97 1130.39h.9M242.22 1138.46h.9M236.41 1135.49h.9M245.98 1139.39h.9M234.02 1131.09h.9M233.28 1141.43h.9M229.95 1139.34h.9M238.63 1143.36h.9M231.31 1144.26h.9M224.84 1155.61h.9M225.24 1151.06h.9M238.12 1158.74h.9M238.27 1150.08h.9M231.77 1144.01h.9M236.07 1139.8h.9M244.26 1130.43h.9M236.33 1130.31h.9M229.75 1151.56h.9M235.41 1141.4h.9M239.84 1132.16h.9M217.66 1137.73h.9M220.26 1153.44h.9M223.74 1158.43h.9M239.34 1140.37h.9M219.74 1149.5h.9M227.36 1154.42h.9M236.9 1137.39h.9M233.4 1144.53h.9M232.6 1136.31h.9M229.99 1152.41h.9M236.89 1143.08h.9M235.51 1146.74h.9M232.32 1138.93h.9M245.95 1138.87h.9M230.4 1144.91h.9M222.57 1142.35h.9M220.57 1144.05h.9M229.77 1148.91h.9M226 1138.57h.9M228.48 1142.54h.9M230.47 1154.51h.9M229.95 1153.41h.9M223.84 1154.47h.9M232.07 1151.74h.9M231.2 1138.59h.9M240.8 1145.58h.9M245.43 1142.52h.9M238.83 1154.64h.9M228.31 1146.69h.9M222.72 1151.65h.9M224.53 1152.48h.9M243.1 1145.89h.9M239.36 1138.09h.9M235.62 1142.14h.9M216.95 1149.71h.9M233.78 1149.95h.9M225.24 1152.44h.9M231.98 1150.16h.9M232.21 1135.51h.9M231.78 1156.28h.9M237.97 1137.97h.9M237.12 1139.54h.9M233.28 1139.72h.9M242.03 1147.7h.9M245.49 1140.97h.9M236.83 1147.17h.9M228.61 1145.17h.9M228.61 1138.72h.9M226.33 1135.9h.9M244.81 1138.23h.9M231.06 1139.45h.9M227.28 1145.71h.9M221.23 1151.51h.9M230.54 1152.5h.9M245.61 1142.36h.9M219.07 1145.96h.9M243.43 1139.13h.9M240.86 1140.74h.9M242.19 1151.26h.9M239.87 1141.85h.9M227.26 1150.21h.9M242.06 1138.71h.9M236.58 1138.07h.9M233.92 1137.67h.9M235.55 1149.35h.9M240.45 1133.13h.9M230.06 1144.22h.9M231.28 1145.14h.9M238.58 1140.44h.9M234.01 1145.81h.9M221.66 1153.3h.9M239.12 1128.7h.9M229.99 1148.31h.9M236.79 1137.27h.9M232.55 1156.15h.9M215.4 1153.4h.9M218.48 1138.71h.9M247.75 1144.3h.9M221.96 1150.78h.9M233.57 1148.23h.9M233.39 1147.38h.9M234.25 1140.74h.9M238.15 1149.41h.9M235.82 1145.62h.9M234.9 1147.06h.9M241.67 1135.19h.9M226.41 1143.66h.9M234.73 1135.09h.9M245.12 1151.65h.9M240.68 1150.07h.9M231.89 1143.54h.9M231.88 1137.13h.9M218.25 1157.48h.9M228.91 1148.91h.9M245.78 1135.42h.9M225.27 1154.33h.9M213.18 1145.14h.9M240.43 1128.1h.9M219.37 1156.13h.9M232.96 1146.98h.9M230.38 1144.11h.9M236.3 1138.45h.9M229.4 1149.71h.9M233.45 1151.65h.9M231.64 1143.04h.9M232.22 1148.91h.9M236.73 1137.01h.9M230.41 1150.84h.9M230.43 1149.12h.9M227.46 1142.1h.9M224.36 1151.02h.9M226.3 1136.37h.9M219.48 1158.88h.9M241.31 1128.25h.9M226.23 1141h.9M231.12 1157.37h.9M223.88 1154.35h.9M230.44 1150.62h.9M241.81 1135.68h.9M234.99 1150.25h.9M222.76 1137.99h.9M237.77 1134.12h.9M242.73 1151.94h.9M238.89 1139.93h.9M238.13 1130.71h.9M217.99 1148.8h.9M233.74 1144.33h.9M237.25 1156.79h.9M237.74 1140.05h.9M228.03 1147.68h.9M232.45 1140.75h.9M255.98 1134.46h.9M236.21 1140.23h.9M226.84 1158.33h.9M232.8 1152.31h.9M229.29 1136.03h.9M231.85 1142.85h.9M230.66 1144.9h.9M232.03 1142.49h.9M239.37 1141.47h.9M230.84 1144.21h.9M228.86 1144.21h.9M232.34 1145.81h.9M222.85 1137.91h.9M229.04 1139.81h.9M242.48 1154.45h.9M228.22 1128.15h.9M226.29 1158.27h.9M221.21 1141.92h.9M221.61 1153.3h.9M227.53 1148.53h.9M230.55 1145.78h.9M226.38 1143.08h.9M242.79 1146.34h.9M226.57 1148.28h.9M239.28 1127.76h.9M228.01 1152.65h.9M237.3 1138.71h.9M238.34 1136.9h.9M233.32 1142.6h.9M234.16 1142.16h.9M243.54 1138.7h.9M241 1133.97h.9M225.18 1145.91h.9M231.26 1147.66h.9M230.96 1147.55h.9M229.85 1136.7h.9M229.63 1157.47h.9M236.33 1155.42h.9M224.77 1139.98h.9M222.15 1147.37h.9M239.47 1121.12h.9M214.88 1153.63h.9M241.73 1152.92h.9M234.08 1134.15h.9M246.53 1140.36h.9M230.86 1150.21h.9M233.78 1141.17h.9M227.21 1144.17h.9M232.6 1139.23h.9M240.04 1141.81h.9M224.72 1154.89h.9M234.43 1148.23h.9M235.03 1150.91h.9M240.75 1142.97h.9M230.05 1134.69h.9M236.42 1148.91h.9M239.86 1141.28h.9M231.86 1143.83h.9M216.99 1144.32h.9M234.6 1148.43h.9M228.47 1143.22h.9M236.68 1150.56h.9M228.33 1147.11h.9M238.59 1146.41h.9M232.52 1139.44h.9M224.62 1142.16h.9M235.13 1149.17h.9M231.43 1141.15h.9M224.49 1148.8h.9M239.19 1142.21h.9M238.4 1144.89h.9M240.16 1137.83h.9M228.02 1132.32h.9M234.65 1138.81h.9M229.99 1138.7h.9M226.11 1140.89h.9M227.63 1140.12h.9M236.96 1136.73h.9M230.62 1140.47h.9M228.68 1141.76h.9M229.54 1150.79h.9M223.63 1143.13h.9M239.32 1155.43h.9M239.38 1138.95h.9M235.27 1143.58h.9M244.27 1151.02h.9M241.8 1135.98h.9M218.88 1149.81h.9M232.01 1140.61h.9M233.73 1140.19h.9M237.09 1143.04h.9M224.59 1141.27h.9M227.9 1142.81h.9M227.62 1149.52h.9M237.86 1135.65h.9M225.84 1141.71h.9M235.12 1143.33h.9M240.01 1149.17h.9M238.35 1146.59h.9M232.2 1147.46h.9M230.96 1151.94h.9M236.99 1131.96h.9M229.06 1149.67h.9M236.17 1147.43h.9M215.22 1156.59h.9M236.47 1141.93h.9M229.39 1152.98h.9M233.42 1143.28h.9M230.76 1144.74h.9M230.28 1134.81h.9M219.52 1158.54h.9M234.05 1145.18h.9M228.48 1152.52h.9M228.69 1143.66h.9M227.52 1141.91h.9M239.03 1132.07h.9M231.03 1142.52h.9M233.73 1143.03h.9M230.99 1145.78h.9M234.32 1143.89h.9M238.14 1137.51h.9M234.1 1146.55h.9M233.41 1146.41h.9M226.84 1131.43h.9M231.41 1141.62h.9M218.35 1147.69h.9M228.62 1156.1h.9M239.19 1137.59h.9M227.43 1139.93h.9M250.52 1138.28h.9M230.65 1139.17h.9M229.11 1141.98h.9M221.08 1146.36h.9M224.52 1146.36h.9M230.89 1137.61h.9M235.95 1142.07h.9M243.51 1143.96h.9M249.61 1134.7h.9M229.37 1145.18h.9M243.88 1123.71h.9M237.96 1148.48h.9M234.53 1145.85h.9M246.33 1137.47h.9M235.38 1146.05h.9M237.06 1144.91h.9M234.71 1139.42h.9M234.07 1144.5h.9M229.45 1142.85h.9M228.88 1129.55h.9M235.46 1149.58h.9M229.65 1137.41h.9M235.16 1157.4h.9M236.14 1139.83h.9M231.92 1142.19h.9M231.03 1138.29h.9M233.21 1142.64h.9M237.49 1146.55h.9M222.09 1153.53h.9M234.37 1143.73h.9M234.01 1145.73h.9M236.79 1135.97h.9M236.92 1145.96h.9M235.92 1149.01h.9M233.7 1152.61h.9M239.92 1148.21h.9M236.59 1132.39h.9M239.92 1140.66h.9M231.5 1141.67h.9M233.79 1140.74h.9M232.89 1143.76h.9M232.1 1142.42h.9M225.61 1152.41h.9M231.35 1144.21h.9M230.83 1148.08h.9M233.31 1139h.9M225.06 1143.39h.9M227.48 1152.41h.9M237.65 1150.11h.9M219.29 1147.97h.9M231.33 1141.28h.9M230.85 1138.64h.9M238.35 1135.85h.9M238.92 1146.42h.9M224.17 1149.11h.9M229.95 1153.19h.9M220.43 1151.9h.9M232.33 1151.19h.9M241.75 1135.11h.9M245.69 1136.24h.9M224.13 1150.71h.9M229.91 1152.8h.9M236.07 1142.72h.9M226.61 1147.9h.9M225.3 1150.47h.9M239.3 1135.12h.9M240.97 1136.46h.9M232.86 1147.85h.9M230.64 1158.41h.9M229.26 1138.01h.9M232.58 1135.87h.9M242.4 1143.89h.9M232.89 1133.77h.9M234.72 1150.22h.9M237.14 1143.34h.9M249.62 1134.88h.9M226.19 1140.57h.9M222.73 1141.75h.9M228.35 1148.8h.9M225.21 1151.25h.9M231.07 1148.93h.9M221.97 1148.11h.9M234.48 1145.77h.9M220.68 1131.61h.9M223.16 1137.8h.9M227.13 1140.86h.9M224.32 1147.27h.9" stroke="#333" stroke-width="1" fill="none"/>
<path d="M285.76 1099.3h.9M286.33 1099.82h.9M274.66 1112.23h.9M303.08 1092.71h.9M281.15 1085.69h.9M280.21 1091.44h.9M295.37 1103.73h.9M282.71 1110.79h.9M283.77 1072.45h.9M298.75 1116.31h.9M281.57 1112h.9M285.69 1085.69h.9M261.45 1114.44h.9M290.71 1116.37h.9M303 1098.39h.9M288.92 1106.57h.9M289 1105.35h.9M274.3 1103.48h.9M257.93 1104.56h.9M274.69 1092.79h.9M284.29 1103.35h.9M283.63 1092.88h.9M272.64 1097.7h.9M278.41 1096h.9M267.29 1101.86h.9M271.8 1099.5h.9M267.71 1076.89h.9M281.16 1103.78h.9M278.08 1108.96h.9M282.04 1098.05h.9M294.27 1103.29h.9M271.87 1101.4h.9M275.26 1090.77h.9M288.24 1098.6h.9M273.81 1099.19h.9M303.86 1114.9h.9M294.97 1089.14h.9M262.1 1099.76h.9M281.15 1106.3h.9M281.9 1107.74h.9M268.65 1107.09h.9M278.64 1109.24h.9M286.59 1082.95h.9M279.78 1112.88h.9M293.19 1108.76h.9M274.52 1095.67h.9M289.06 1088.51h.9M289.27 1098.36h.9M291.97 1114.18h.9M280 1092.76h.9M273.03 1102.19h.9M247.23 1106.38h.9M279.03 1109.4h.9M303.56 1078.03h.9M264.86 1098.84h.9M261.3 1099.45h.9M302.66 1088.13h.9M267.78 1095.53h.9M290.85 1088.04h.9M285.57 1099.74h.9M278.19 1082.12h.9M279.01 1101.11h.9M263.41 1122.89h.9M280.66 1090.92h.9M282.98 1096.58h.9M278.85 1087.35h.9M289.99 1099.24h.9M273.56 1107.63h.9M267.61 1104.17h.9M284.63 1110.18h.9M295.88 1104.63h.9M285.45 1092.4h.9M250.1 1108.12h.9M289.49 1086.95h.9M252.42 1087.81h.9M263.55 1102.24h.9M288.42 1093.72h.9M264.1 1106.38h.9M275.83 1084.86h.9M271.89 1104.46h.9M266.92 1099.31h.9M257.36 1111.22h.9M275.88 1116.18h.9M281.87 1103.24h.9M264.71 1103.61h.9M278.97 1099.88h.9M260.66 1121.29h.9M260.68 1115.95h.9M257.9 1112.37h.9M291.14 1104.86h.9M264.72 1116.82h.9M272.22 1128.93h.9M256.08 1125.1h.9M274.19 1111.81h.9M267.61 1108.87h.9M279.41 1115.24h.9M262.33 1117.39h.9M247.26 1111.44h.9M253.17 1115.59h.9M265.23 1108.48h.9M262.23 1111.88h.9M266.49 1115.94h.9M274.69 1128.29h.9M276.44 1113.07h.9M266.29 1112.53h.9M275.59 1107.78h.9M273.84 1103.23h.9M249.75 1105.83h.9M271.84 1112.17h.9M251.49 1089.21h.9M268.56 1119.51h.9M259.48 1102.56h.9M264.66 1109.54h.9M265.65 1123.99h.9M264.29 1100.21h.9M271.07 1098.44h.9M273.52 1112.04h.9M269.62 1113.79h.9M263.46 1104.18h.9M266.73 1110.73h.9M286.25 1138.64h.9M263.7 1143h.9M266.76 1145.29h.9M256.44 1141.06h.9M251.93 1144.02h.9M279.79 1142.45h.9M250.37 1147.9h.9M261.58 1142.74h.9M250.75 1154.55h.9M255.08 1142.77h.9M268.31 1138.21h.9M250.28 1156.55h.9M252.58 1129.66h.9M269.01 1133.65h.9M259.39 1135.14h.9M257.31 1137.42h.9M263.85 1144.36h.9M258.61 1140.12h.9M262.75 1133.61h.9M250.66 1144.31h.9M250.48 1137.75h.9M269.69 1152.54h.9M257.81 1129.81h.9M249.91 1133.49h.9M259.02 1148.67h.9M252.61 1147.71h.9M264.77 1130.01h.9M269.09 1134.98h.9M258.19 1138.34h.9M256.17 1136.79h.9M251.65 1134.29h.9M269.1 1141.31h.9M249.65 1140.97h.9M253.35 1137.03h.9M252.33 1146.37h.9M262.44 1138.66h.9M251.16 1132.52h.9M274.2 1135.5h.9M270.2 1144.21h.9M265.84 1135.6h.9M255.29 1139.72h.9M250.63 1131.62h.9M251.46 1134.6h.9M270.46 1140.38h.9M252.64 1134.29h.9M257.13 1131.83h.9M258.12 1140.49h.9M252.26 1140.12h.9M271.11 1134.29h.9M252.14 1136.33h.9M260.95 1131.75h.9M250.34 1136.31h.9M259.99 1149.16h.9M264.76 1141.09h.9M254.38 1130.98h.9M299.42 1151.32h.9M262.9 1138.35h.9M256.46 1148.5h.9M251.05 1134.01h.9M254.57 1133.35h.9M254.3 1150.3h.9M251.65 1145.22h.9M249.75 1140.89h.9M254.37 1139.29h.9M250.97 1131.04h.9M270.42 1143.11h.9M263.83 1142.18h.9M257.94 1130.97h.9M249.83 1134.82h.9M256.17 1133.76h.9M251.26 1131.87h.9M251.06 1138.36h.9M257.73 1140.7h.9M254.03 1150.13h.9M258.23 1140.4h.9M272.92 1133.73h.9M258.08 1139.78h.9M263.71 1133.81h.9M266.65 1145.61h.9M253.98 1158.84h.9M254.87 1130.07h.9M275.38 1148.62h.9M261.02 1139.43h.9M264.52 1133.6h.9M258.9 1144.17h.9M253.79 1142.81h.9M258.57 1140.19h.9M260.81 1131.86h.9M261.24 1135.87h.9" stroke="#666" stroke-width="0.9" fill="none"/>
<line x1="249.6" y1="1048.3" x2="249.6" y2="1160" stroke="#222" stroke-width="1.1"/>
<line x1="202.6" y1="1127.4" x2="313.5" y2="1127.4" stroke="#666" stroke-width="1.2"/>
<line x1="202.6" y1="1048.3" x2="202.6" y2="1160" stroke="#444" stroke-width="1"/>
<line x1="202.6" y1="1160" x2="313.5" y2="1160" stroke="#444" stroke-width="1"/>
<line x1="200.6" y1="1160" x2="202.6" y2="1160" stroke="#000" stroke-width="0.8"/>
<text x="195.6" y="1161.7" font-size="5" text-anchor="middle" fill="#222">10<tspan font-size="3.4" dy="-1.6">0</tspan></text>
<line x1="202.6" y1="1160" x2="202.6" y2="1162" stroke="#000" stroke-width="0.8"/>
<text x="202.6" y="1167.2" font-size="5" text-anchor="middle" fill="#222">10<tspan font-size="3.4" dy="-1.6">0</tspan></text>
<line x1="200.6" y1="1137.66" x2="202.6" y2="1137.66" stroke="#000" stroke-width="0.8"/>
<text x="195.6" y="1139.36" font-size="5" text-anchor="middle" fill="#222">10<tspan font-size="3.4" dy="-1.6">1</tspan></text>
<line x1="224.78" y1="1160" x2="224.78" y2="1162" stroke="#000" stroke-width="0.8"/>
<text x="224.78" y="1167.2" font-size="5" text-anchor="middle" fill="#222">10<tspan font-size="3.4" dy="-1.6">1</tspan></text>
<line x1="200.6" y1="1115.32" x2="202.6" y2="1115.32" stroke="#000" stroke-width="0.8"/>
<text x="195.6" y="1117.02" font-size="5" text-anchor="middle" fill="#222">10<tspan font-size="3.4" dy="-1.6">2</tspan></text>
<line x1="246.96" y1="1160" x2="246.96" y2="1162" stroke="#000" stroke-width="0.8"/>
<text x="246.96" y="1167.2" font-size="5" text-anchor="middle" fill="#222">10<tspan font-size="3.4" dy="-1.6">2</tspan></text>
<line x1="200.6" y1="1092.98" x2="202.6" y2="1092.98" stroke="#000" stroke-width="0.8"/>
<text x="195.6" y="1094.68" font-size="5" text-anchor="middle" fill="#222">10<tspan font-size="3.4" dy="-1.6">3</tspan></text>
<line x1="269.14" y1="1160" x2="269.14" y2="1162" stroke="#000" stroke-width="0.8"/>
<text x="269.14" y="1167.2" font-size="5" text-anchor="middle" fill="#222">10<tspan font-size="3.4" dy="-1.6">3</tspan></text>
<line x1="200.6" y1="1070.64" x2="202.6" y2="1070.64" stroke="#000" stroke-width="0.8"/>
<text x="195.6" y="1072.34" font-size="5" text-anchor="middle" fill="#222">10<tspan font-size="3.4" dy="-1.6">4</tspan></text>
<line x1="291.32" y1="1160" x2="291.32" y2="1162" stroke="#000" stroke-width="0.8"/>
<text x="291.32" y="1167.2" font-size="5" text-anchor="middle" fill="#222">10<tspan font-size="3.4" dy="-1.6">4</tspan></text>
<line x1="200.6" y1="1048.3" x2="202.6" y2="1048.3" stroke="#000" stroke-width="0.8"/>
<text x="195.6" y="1050" font-size="5" text-anchor="middle" fill="#222">10<tspan font-size="3.4" dy="-1.6">5</tspan></text>
<line x1="313.5" y1="1160" x2="313.5" y2="1162" stroke="#000" stroke-width="0.8"/>
<text x="313.5" y="1167.2" font-size="5" text-anchor="middle" fill="#222">10<tspan font-size="3.4" dy="-1.6">5</tspan></text>
<text x="258.05" y="1172" font-size="5" text-anchor="middle" fill="#222">FL1-Log_Height Comp</text>
<text font-size="5" text-anchor="middle" fill="#222" transform="translate(190.6 1101.15) rotate(-90)">FL3-Log_Height Comp</text>
<text x="205.1" y="1054.8" font-size="5.6" fill="#333">R2</text>
<text x="312" y="1054.8" font-size="5.6" text-anchor="end" fill="#333">R3</text>
<text x="205.1" y="1156.5" font-size="5.6" fill="#333">R4</text>
<text x="312" y="1156.5" font-size="5.6" text-anchor="end" fill="#333">R5</text>
<text font-size="16.3" transform="translate(55.59 893.6) scale(1.087 1)">control</text>
<text font-size="16.3" transform="translate(198.17 894) scale(1.094 1)">Lv-NC</text>
<text font-size="16.3" transform="translate(54.99 1043.3) scale(1.084 1)">Lv-miR-129-2</text>
<text font-size="16.3" transform="translate(198.19 1043.3) scale(1.080 1)">Lv-anti-miR-129-2</text>
<text font-size="11.5" font-weight="bold" transform="translate(126.81 918.7) scale(0.993 1)">1.74%</text>
<text font-size="11.5" font-weight="bold" transform="translate(126.59 990.7) scale(1.015 1)">2.47%</text>
<text font-size="11.5" font-weight="bold" transform="translate(268.91 921.1) scale(1.006 1)">1.77%</text>
<text font-size="11.5" font-weight="bold" transform="translate(272.9 993) scale(1.006 1)">2.74%</text>
<text font-size="11.5" font-weight="bold" transform="translate(127.84 1070) scale(1.005 1)">7.87%</text>
<text font-size="11.5" font-weight="bold" transform="translate(123.01 1140.4)">10.52%</text>
<text font-size="11.5" font-weight="bold" transform="translate(268.7 1070) scale(1.009 1)">1.34%</text>
<text font-size="11.5" font-weight="bold" transform="translate(269.41 1140)">1.93%</text>
<line x1="401.2" y1="909.95" x2="401.2" y2="1078" stroke="#333" stroke-width="1.7"/>
<line x1="398" y1="1074.5" x2="401.2" y2="1074.5" stroke="#333" stroke-width="1.5"/>
<text font-size="14" transform="translate(386.69 1078.93) scale(1.100 1)">0</text>
<line x1="398" y1="1041.75" x2="401.2" y2="1041.75" stroke="#333" stroke-width="1.5"/>
<text font-size="14" transform="translate(386.77 1046.18) scale(1.100 1)">5</text>
<line x1="398" y1="1009" x2="401.2" y2="1009" stroke="#333" stroke-width="1.5"/>
<text font-size="14" transform="translate(378.15 1013.43) scale(1.100 1)">10</text>
<line x1="398" y1="976.25" x2="401.2" y2="976.25" stroke="#333" stroke-width="1.5"/>
<text font-size="14" transform="translate(378.22 980.68) scale(1.100 1)">15</text>
<line x1="398" y1="943.5" x2="401.2" y2="943.5" stroke="#333" stroke-width="1.5"/>
<text font-size="14" transform="translate(378.14 947.93) scale(1.100 1)">20</text>
<line x1="398" y1="910.75" x2="401.2" y2="910.75" stroke="#333" stroke-width="1.5"/>
<text font-size="14" transform="translate(378.22 915.18) scale(1.100 1)">25</text>
<line x1="401.2" y1="1074.5" x2="703" y2="1074.5" stroke="#333" stroke-width="1.7"/>
<line x1="476.65" y1="1074.5" x2="476.65" y2="1078" stroke="#333" stroke-width="1.5"/>
<line x1="552.1" y1="1074.5" x2="552.1" y2="1078" stroke="#333" stroke-width="1.5"/>
<line x1="627.55" y1="1074.5" x2="627.55" y2="1078" stroke="#333" stroke-width="1.5"/>
<line x1="703" y1="1074.5" x2="703" y2="1078" stroke="#333" stroke-width="1.5"/>
<rect x="419.93" y="1047.19" width="38" height="27.31" fill="#000"/>
<line x1="438.93" y1="1044.89" x2="438.93" y2="1047.19" stroke="#000" stroke-width="1.6"/>
<line x1="436.43" y1="1045.19" x2="441.43" y2="1045.19" stroke="#000" stroke-width="1.6"/>
<rect x="495.38" y="1045.68" width="38" height="28.82" fill="#000"/>
<line x1="514.38" y1="1041.75" x2="514.38" y2="1045.68" stroke="#000" stroke-width="1.6"/>
<line x1="511.88" y1="1042.05" x2="516.88" y2="1042.05" stroke="#000" stroke-width="1.6"/>
<rect x="570.83" y="954.96" width="38" height="119.54" fill="#000"/>
<line x1="589.83" y1="942.85" x2="589.83" y2="954.96" stroke="#000" stroke-width="1.6"/>
<line x1="587.33" y1="943.14" x2="592.33" y2="943.14" stroke="#000" stroke-width="1.6"/>
<rect x="646.27" y="1053.54" width="38" height="20.96" fill="#000"/>
<line x1="665.27" y1="1052.23" x2="665.27" y2="1053.54" stroke="#000" stroke-width="1.6"/>
<line x1="662.77" y1="1052.53" x2="667.77" y2="1052.53" stroke="#000" stroke-width="1.6"/>
<text font-size="17.2" text-anchor="end" transform="translate(445.93 1090.5) rotate(-30)">control</text>
<text font-size="17.2" text-anchor="end" transform="translate(521.38 1090.5) rotate(-30)">Lv-NC</text>
<text font-size="17.2" text-anchor="end" transform="translate(596.83 1090.5) rotate(-30)">Lv-miR-129-2</text>
<text font-size="17.2" text-anchor="end" transform="translate(672.27 1090.5) rotate(-30)">Lv-anti-miR-129-2</text>
<text font-size="26.3" font-weight="bold" transform="translate(586.17 938.95)">*</text>
<text font-size="26.3" font-weight="bold" transform="translate(660.87 1050.05)">*</text>
<text font-size="17.3" transform="translate(368 1066) rotate(-90) scale(1.020 1)">Apoptotic cells (%)</text>
</svg></body></html>
